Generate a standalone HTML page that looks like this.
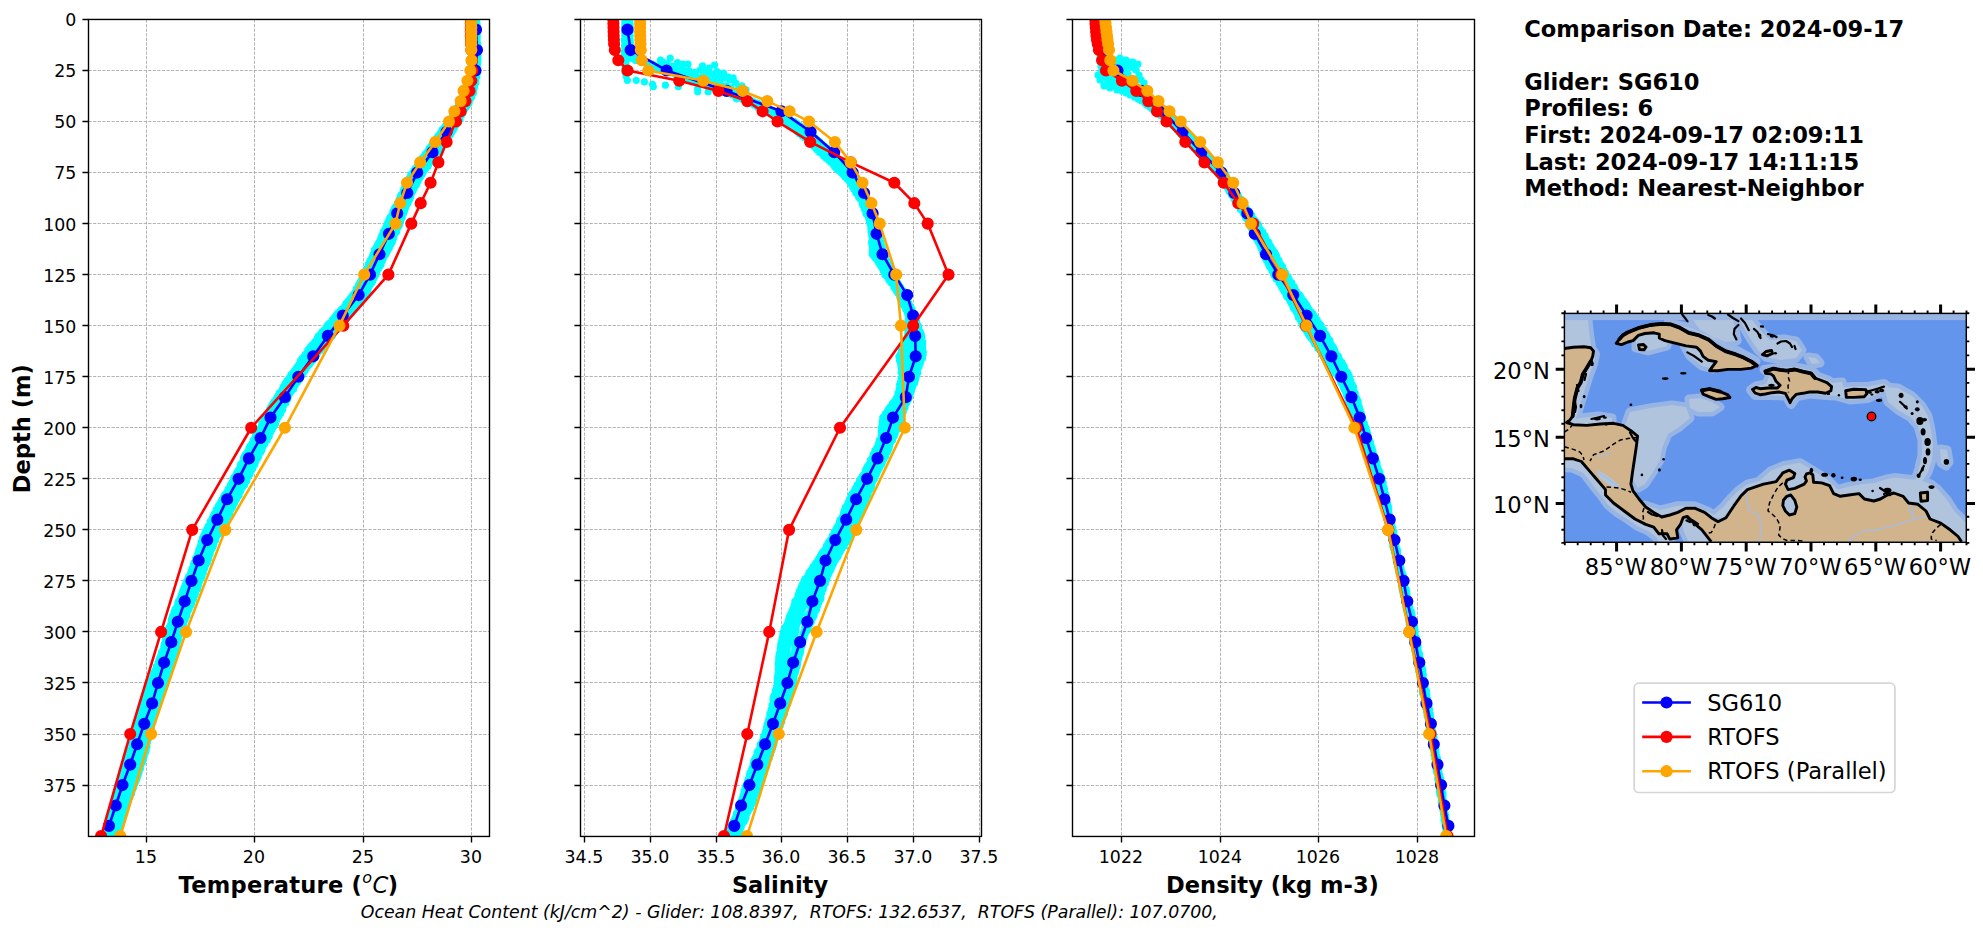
<!DOCTYPE html>
<html><head><meta charset="utf-8"><title>Glider profile comparison</title>
<style>
html,body{margin:0;padding:0;background:#fff;overflow:hidden}
svg{display:block}
.tk{font-family:"DejaVu Sans","Liberation Sans",sans-serif;font-size:17.36px;fill:#000}
.lb{font-family:"DejaVu Sans","Liberation Sans",sans-serif;font-size:22.57px;font-weight:bold;fill:#000}
.lg{font-family:"DejaVu Sans","Liberation Sans",sans-serif;font-size:22.57px;fill:#000}
.mp{font-family:"DejaVu Sans","Liberation Sans",sans-serif;font-size:22.57px;fill:#000}
.oh{white-space:pre;font-family:"DejaVu Sans","Liberation Sans",sans-serif;font-size:17.36px;font-style:italic;fill:#000}
</style></head><body>
<svg width="1983" height="934" viewBox="0 0 1983 934">
<rect width="1983" height="934" fill="#fff"/>
<clipPath id="c0"><rect x="88.5" y="19.45" width="401" height="817"/></clipPath>
<path d="M146.5 19.45V836.45M254.5 19.45V836.45M363.5 19.45V836.45M471.5 19.45V836.45M88.5 70.5H489.5M88.5 121.5H489.5M88.5 172.5H489.5M88.5 223.5H489.5M88.5 274.5H489.5M88.5 325.5H489.5M88.5 376.5H489.5M88.5 427.5H489.5M88.5 478.5H489.5M88.5 529.5H489.5M88.5 580.5H489.5M88.5 631.5H489.5M88.5 682.5H489.5M88.5 734.5H489.5M88.5 785.5H489.5" stroke="#a8a8a8" stroke-width="0.87" stroke-dasharray="3.2 1.39" fill="none"/>
<g clip-path="url(#c0)">
<path d="M474.52 19.45h0M473.85 21.49h0M474.42 23.53h0M474.22 25.57h0M473.86 27.62h0M474.4 29.66h0M473.83 31.7h0M474.3 33.74h0M473.85 35.78h0M473.85 37.82h0M474.23 39.87h0M474.69 41.91h0M473.81 43.95h0M473.9 45.99h0M474.34 48.03h0M474.69 50.07h0M474.2 52.12h0M473.94 54.16h0M474.6 56.2h0M473.44 58.24h0M474.37 60.28h0M473.18 62.32h0M472.49 64.37h0M471.94 66.41h0M471.65 68.45h0M471.74 70.49h0M470.46 72.53h0M470.43 74.57h0M470 76.61h0M468.96 78.66h0M468.46 80.7h0M467.18 82.74h0M466.48 84.78h0M465.98 86.82h0M465.87 88.86h0M464.91 90.91h0M464.01 92.95h0M463.58 94.99h0M462.67 97.03h0M461.73 99.07h0M461.57 101.11h0M460.29 103.16h0M458.56 105.2h0M457.78 107.24h0M456.53 109.28h0M455.75 111.32h0M454.39 113.36h0M452.66 115.41h0M452.29 117.45h0M450.04 119.49h0M449.17 121.53h0M447.95 123.57h0M445.58 125.61h0M444.34 127.65h0M442.14 129.7h0M441.22 131.74h0M439.86 133.78h0M438.14 135.82h0M437.01 137.86h0M434.85 139.9h0M433.83 141.95h0M432.31 143.99h0M430.9 146.03h0M429.35 148.07h0M428.41 150.11h0M427.13 152.15h0M425.17 154.2h0M424 156.24h0M421.87 158.28h0M421.24 160.32h0M419.78 162.36h0M418.79 164.4h0M417.19 166.45h0M415.14 168.49h0M413.86 170.53h0M412.8 172.57h0M410.93 174.61h0M410.35 176.65h0M408.9 178.69h0M407.84 180.74h0M406.77 182.78h0M406.62 184.82h0M404.86 186.86h0M404.01 188.9h0M403.18 190.94h0M402.76 192.99h0M400.82 195.03h0M400.27 197.07h0M399.4 199.11h0M398.8 201.15h0M397.71 203.19h0M396.75 205.24h0M395.02 207.28h0M394.15 209.32h0M393.03 211.36h0M392.6 213.4h0M391.8 215.44h0M389.94 217.49h0M389.07 219.53h0M388.22 221.57h0M387.3 223.61h0M386.67 225.65h0M385.86 227.69h0M384.53 229.73h0M383.28 231.78h0M382.83 233.82h0M381.73 235.86h0M380.93 237.9h0M380.37 239.94h0M379.03 241.98h0M377.81 244.03h0M376.93 246.07h0M376.01 248.11h0M374.28 250.15h0M374.33 252.19h0M373.24 254.23h0M372.51 256.28h0M371.58 258.32h0M370.28 260.36h0M369.48 262.4h0M368.32 264.44h0M368.17 266.48h0M366.7 268.53h0M365.93 270.57h0M365.32 272.61h0M364.49 274.65h0M363.56 276.69h0M362.07 278.73h0M360.86 280.77h0M359.89 282.82h0M358.67 284.86h0M357.82 286.9h0M356.23 288.94h0M356.06 290.98h0M354.53 293.02h0M352.75 295.07h0M351.26 297.11h0M349.74 299.15h0M348.11 301.19h0M346.15 303.23h0M345.34 305.27h0M343.81 307.32h0M341.46 309.36h0M339.76 311.4h0M337.54 313.44h0M335.81 315.48h0M334.38 317.52h0M332.56 319.57h0M331.51 321.61h0M328.98 323.65h0M327.08 325.69h0M326.46 327.73h0M324.23 329.77h0M322.05 331.81h0M320.82 333.86h0M318.5 335.9h0M317.5 337.94h0M316.45 339.98h0M314.74 342.02h0M312.99 344.06h0M310.93 346.11h0M309.53 348.15h0M307.79 350.19h0M307.02 352.23h0M305.25 354.27h0M304.07 356.31h0M302.16 358.36h0M300.68 360.4h0M300.03 362.44h0M298.89 364.48h0M297.37 366.52h0M295.96 368.56h0M294.62 370.61h0M293.16 372.65h0M291.17 374.69h0M290.14 376.73h0M288.65 378.77h0M286.95 380.81h0M285.63 382.85h0M284.6 384.9h0M283.23 386.94h0M282.4 388.98h0M281.34 391.02h0M279.35 393.06h0M278.55 395.1h0M277.21 397.15h0M276.06 399.19h0M274.24 401.23h0M272.95 403.27h0M271.83 405.31h0M270.67 407.35h0M269.55 409.4h0M268.93 411.44h0M268.13 413.48h0M267.01 415.52h0M265.58 417.56h0M264.68 419.6h0M263.76 421.65h0M261.8 423.69h0M261.39 425.73h0M260.59 427.77h0M259.34 429.81h0M258.2 431.85h0M256.77 433.89h0M255.31 435.94h0M254.95 437.98h0M253.3 440.02h0M252.76 442.06h0M251.87 444.1h0M250.08 446.14h0M248.98 448.19h0M248.54 450.23h0M247.17 452.27h0M245.48 454.31h0M244.45 456.35h0M243.5 458.39h0M243.42 460.44h0M242.32 462.48h0M240.54 464.52h0M240.36 466.56h0M239.54 468.6h0M238.14 470.64h0M236.74 472.69h0M235.94 474.73h0M234.39 476.77h0M233.18 478.81h0M233.25 480.85h0M231.77 482.89h0M230.52 484.93h0M229.89 486.98h0M228.16 489.02h0M227.55 491.06h0M226.35 493.1h0M224.46 495.14h0M223.35 497.18h0M222.25 499.23h0M221.03 501.27h0M220.3 503.31h0M218.76 505.35h0M217.81 507.39h0M216.33 509.43h0M216.15 511.48h0M214.37 513.52h0M213.39 515.56h0M212.46 517.6h0M211.78 519.64h0M210.24 521.68h0M209.89 523.73h0M208.47 525.77h0M207.59 527.81h0M206.68 529.85h0M205.19 531.89h0M204.83 533.93h0M203.65 535.97h0M202.58 538.02h0M202.69 540.06h0M201.25 542.1h0M200.92 544.14h0M200.54 546.18h0M199.65 548.22h0M198.68 550.27h0M198.21 552.31h0M197.55 554.35h0M197.1 556.39h0M195.55 558.43h0M195.35 560.47h0M194.21 562.52h0M193.46 564.56h0M193.25 566.6h0M192.12 568.64h0M191.34 570.68h0M190.72 572.72h0M190.03 574.77h0M188.57 576.81h0M187.87 578.85h0M186.82 580.89h0M186.02 582.93h0M185.43 584.97h0M184.32 587.01h0M183.59 589.06h0M182.69 591.1h0M182.41 593.14h0M181.29 595.18h0M180.67 597.22h0M179.92 599.26h0M178.28 601.31h0M177.84 603.35h0M177.5 605.39h0M176.59 607.43h0M174.98 609.47h0M174.21 611.51h0M173.85 613.56h0M172.69 615.6h0M172.18 617.64h0M171.29 619.68h0M171.32 621.72h0M170.8 623.76h0M170.28 625.81h0M168.74 627.85h0M168.78 629.89h0M168.08 631.93h0M166.89 633.97h0M167.22 636.01h0M166.75 638.05h0M165.27 640.1h0M165.57 642.14h0M164.3 644.18h0M163.8 646.22h0M163.78 648.26h0M162.95 650.3h0M161.49 652.35h0M161.13 654.39h0M160.54 656.43h0M159.61 658.47h0M158.71 660.51h0M158.11 662.55h0M157.83 664.6h0M156.2 666.64h0M156.05 668.68h0M155.1 670.72h0M153.78 672.76h0M153.34 674.8h0M152.86 676.85h0M151.9 678.89h0M150.53 680.93h0M150.82 682.97h0M149.8 685.01h0M149.26 687.05h0M147.46 689.09h0M146.92 691.14h0M146.05 693.18h0M146.33 695.22h0M145.12 697.26h0M144.36 699.3h0M144.11 701.34h0M144.09 703.39h0M143.38 705.43h0M142.11 707.47h0M141.38 709.51h0M141.7 711.55h0M140.68 713.59h0M140.24 715.64h0M138.91 717.68h0M138.27 719.72h0M138.43 721.76h0M137.58 723.8h0M136.66 725.84h0M137.21 727.89h0M136.35 729.93h0M136.05 731.97h0M134.69 734.01h0M135.06 736.05h0M133.55 738.09h0M133.93 740.13h0M132.84 742.18h0M132.1 744.22h0M131.74 746.26h0M131.56 748.3h0M130.12 750.34h0M129.29 752.38h0M129.1 754.43h0M128.07 756.47h0M127.22 758.51h0M126.57 760.55h0M125.73 762.59h0M125.19 764.63h0M124.61 766.68h0M123.88 768.72h0M123.7 770.76h0M122.43 772.8h0M121.97 774.84h0M120.88 776.88h0M120.4 778.93h0M119.33 780.97h0M118.94 783.01h0M118.02 785.05h0M118.28 787.09h0M117.48 789.13h0M116.48 791.17h0M116.28 793.22h0M116.3 795.26h0M114.79 797.3h0M115.14 799.34h0M114.19 801.38h0M113.78 803.42h0M113.72 805.47h0M112.72 807.51h0M112.39 809.55h0M112.15 811.59h0M112.04 813.63h0M110.81 815.67h0M110.93 817.72h0M110.31 819.76h0M109.74 821.8h0M108.97 823.84h0M108.4 825.88h0M107.53 827.92h0M107.1 829.97h0M106.48 832.01h0M106.73 834.05h0M105.57 836.09h0M475.32 19.45h0M475.4 21.49h0M475.2 23.53h0M474.78 25.57h0M474.77 27.62h0M474.86 29.66h0M475.09 31.7h0M474.76 33.74h0M475.12 35.78h0M474.92 37.82h0M475.77 39.87h0M475.79 41.91h0M475.28 43.95h0M474.91 45.99h0M475.77 48.03h0M474.97 50.07h0M475.02 52.12h0M474.57 54.16h0M475.01 56.2h0M475.1 58.24h0M475.11 60.28h0M474.36 62.32h0M474.33 64.37h0M473.34 66.41h0M473.25 68.45h0M472.63 70.49h0M472.6 72.53h0M471.77 74.57h0M471.35 76.61h0M471.04 78.66h0M470.31 80.7h0M470.1 82.74h0M469.4 84.78h0M469.05 86.82h0M468.33 88.86h0M467.8 90.91h0M467.23 92.95h0M465.88 94.99h0M465.04 97.03h0M465.07 99.07h0M463.32 101.11h0M462.79 103.16h0M461.48 105.2h0M459.54 107.24h0M459.26 109.28h0M458.1 111.32h0M456.63 113.36h0M455.6 115.41h0M454.52 117.45h0M452.54 119.49h0M451.81 121.53h0M450.22 123.57h0M449.03 125.61h0M447.4 127.65h0M445.82 129.7h0M443.9 131.74h0M442.79 133.78h0M441.04 135.82h0M439.55 137.86h0M437.48 139.9h0M435.73 141.95h0M434.33 143.99h0M433.09 146.03h0M431.26 148.07h0M430.62 150.11h0M428.78 152.15h0M427.34 154.2h0M425.82 156.24h0M424.39 158.28h0M422.66 160.32h0M420.6 162.36h0M420.09 164.4h0M418.57 166.45h0M416.84 168.49h0M415.45 170.53h0M414.18 172.57h0M412.38 174.61h0M412.1 176.65h0M410.46 178.69h0M409.18 180.74h0M408.37 182.78h0M407.88 184.82h0M406.22 186.86h0M405.83 188.9h0M405.09 190.94h0M403.49 192.99h0M402.37 195.03h0M401.5 197.07h0M400.76 199.11h0M399.87 201.15h0M398.7 203.19h0M397.74 205.24h0M396.06 207.28h0M395.14 209.32h0M394.25 211.36h0M393.81 213.4h0M392.42 215.44h0M391.86 217.49h0M390.31 219.53h0M389.48 221.57h0M388.82 223.61h0M388.4 225.65h0M387.5 227.69h0M386.55 229.73h0M385.15 231.78h0M384.49 233.82h0M383.38 235.86h0M382.35 237.9h0M380.89 239.94h0M380.79 241.98h0M378.92 244.03h0M378.84 246.07h0M377.78 248.11h0M375.68 250.15h0M375.22 252.19h0M374.68 254.23h0M373.98 256.28h0M372.5 258.32h0M371.44 260.36h0M370.54 262.4h0M370.6 264.44h0M368.92 266.48h0M368.58 268.53h0M367.27 270.57h0M366.97 272.61h0M366.72 274.65h0M364.64 276.69h0M364.37 278.73h0M362.91 280.77h0M362.28 282.82h0M360.98 284.86h0M359.33 286.9h0M359.04 288.94h0M357.46 290.98h0M355.8 293.02h0M354.67 295.07h0M353.73 297.11h0M352.13 299.15h0M350.39 301.19h0M348.62 303.23h0M347.26 305.27h0M345.61 307.32h0M344.6 309.36h0M341.94 311.4h0M341.17 313.44h0M339.59 315.48h0M337.1 317.52h0M336.43 319.57h0M334.52 321.61h0M333.09 323.65h0M330.69 325.69h0M329.12 327.73h0M327.48 329.77h0M326.54 331.81h0M324.38 333.86h0M322.44 335.9h0M320.91 337.94h0M319.12 339.98h0M317.26 342.02h0M315.75 344.06h0M315.07 346.11h0M312.86 348.15h0M312.11 350.19h0M309.76 352.23h0M308.28 354.27h0M307.08 356.31h0M305.31 358.36h0M304.15 360.4h0M303.49 362.44h0M302.04 364.48h0M300.6 366.52h0M299.03 368.56h0M298.01 370.61h0M296.69 372.65h0M294.86 374.69h0M293.69 376.73h0M291.61 378.77h0M291.15 380.81h0M289.51 382.85h0M288.56 384.9h0M287.11 386.94h0M285.34 388.98h0M283.71 391.02h0M283.39 393.06h0M281.05 395.1h0M280.07 397.15h0M278.84 399.19h0M277.69 401.23h0M277.12 403.27h0M276.29 405.31h0M274.3 407.35h0M273.65 409.4h0M272.08 411.44h0M271.25 413.48h0M269.9 415.52h0M268.49 417.56h0M267.26 419.6h0M266.09 421.65h0M265.71 423.69h0M264.01 425.73h0M262.48 427.77h0M262.11 429.81h0M261.04 431.85h0M259.21 433.89h0M257.69 435.94h0M256.61 437.98h0M255.35 440.02h0M254.53 442.06h0M253.12 444.1h0M252.2 446.14h0M251.15 448.19h0M250.46 450.23h0M249.78 452.27h0M248.57 454.31h0M247.14 456.35h0M246.11 458.39h0M245.22 460.44h0M244.02 462.48h0M242.95 464.52h0M241.6 466.56h0M240.83 468.6h0M240.62 470.64h0M238.57 472.69h0M237.98 474.73h0M237.07 476.77h0M236.28 478.81h0M234.42 480.85h0M233.39 482.89h0M232.25 484.93h0M231.31 486.98h0M230.23 489.02h0M229.7 491.06h0M228.41 493.1h0M227.28 495.14h0M225.08 497.18h0M223.92 499.23h0M223.56 501.27h0M222.62 503.31h0M220.94 505.35h0M219.91 507.39h0M218.04 509.43h0M217.34 511.48h0M216.83 513.52h0M215.56 515.56h0M214.46 517.6h0M213.48 519.64h0M211.59 521.68h0M210.42 523.73h0M209.49 525.77h0M208.96 527.81h0M208.2 529.85h0M207.57 531.89h0M206.39 533.93h0M205.4 535.97h0M204.65 538.02h0M203.41 540.06h0M202.82 542.1h0M201.52 544.14h0M201.73 546.18h0M200.39 548.22h0M200.54 550.27h0M199.55 552.31h0M198.47 554.35h0M197.58 556.39h0M197.05 558.43h0M196.83 560.47h0M196.21 562.52h0M194.8 564.56h0M194.03 566.6h0M193.84 568.64h0M193.16 570.68h0M192.16 572.72h0M191.18 574.77h0M190.83 576.81h0M189.31 578.85h0M188.82 580.89h0M188.3 582.93h0M188.17 584.97h0M187.06 587.01h0M186.6 589.06h0M185.35 591.1h0M184.29 593.14h0M183.53 595.18h0M183.61 597.22h0M182.53 599.26h0M181.28 601.31h0M180.17 603.35h0M179.98 605.39h0M179.44 607.43h0M178.39 609.47h0M177.46 611.51h0M177.24 613.56h0M176.84 615.6h0M175.32 617.64h0M174.42 619.68h0M174.13 621.72h0M173.59 623.76h0M173.28 625.81h0M172.09 627.85h0M172.22 629.89h0M171.56 631.93h0M170.75 633.97h0M169.86 636.01h0M170.25 638.05h0M168.94 640.1h0M169.02 642.14h0M167.78 644.18h0M167.22 646.22h0M167.32 648.26h0M166.19 650.3h0M166.4 652.35h0M165.25 654.39h0M164.27 656.43h0M163.67 658.47h0M163.25 660.51h0M162.87 662.55h0M162.52 664.6h0M160.84 666.64h0M160.4 668.68h0M159.42 670.72h0M159.56 672.76h0M157.78 674.8h0M156.87 676.85h0M156.06 678.89h0M155.64 680.93h0M155.42 682.97h0M154.61 685.01h0M153.64 687.05h0M153.17 689.09h0M152.3 691.14h0M150.8 693.18h0M149.86 695.22h0M150 697.26h0M149.02 699.3h0M147.44 701.34h0M147.48 703.39h0M146.44 705.43h0M145.76 707.47h0M145.04 709.51h0M144.2 711.55h0M143.38 713.59h0M143.1 715.64h0M142.59 717.68h0M142.73 719.72h0M141.16 721.76h0M141.61 723.8h0M140.15 725.84h0M139.79 727.89h0M139.8 729.93h0M139.26 731.97h0M138.25 734.01h0M137.21 736.05h0M137.13 738.09h0M136.41 740.13h0M136.45 742.18h0M134.96 744.22h0M134.54 746.26h0M134.53 748.3h0M132.83 750.34h0M132.61 752.38h0M132.41 754.43h0M131.65 756.47h0M130.06 758.51h0M129.32 760.55h0M128.62 762.59h0M128.89 764.63h0M127.34 766.68h0M127.16 768.72h0M126.57 770.76h0M125.13 772.8h0M124.28 774.84h0M124.33 776.88h0M123.16 778.93h0M121.98 780.97h0M121.78 783.01h0M120.56 785.05h0M119.82 787.09h0M118.82 789.13h0M119.06 791.17h0M118.6 793.22h0M117.64 795.26h0M117.4 797.3h0M115.7 799.34h0M115.38 801.38h0M115.11 803.42h0M115.14 805.47h0M114.61 807.51h0M113.41 809.55h0M112.74 811.59h0M112.45 813.63h0M112.03 815.67h0M112.06 817.72h0M110.67 819.76h0M110.92 821.8h0M110.35 823.84h0M109.96 825.88h0M109.39 827.92h0M108.68 829.97h0M107.82 832.01h0M107.28 834.05h0M106.78 836.09h0M474.61 19.45h0M475.32 21.49h0M474.76 23.53h0M474.58 25.57h0M474.58 27.62h0M475.24 29.66h0M475.01 31.7h0M475.82 33.74h0M475.73 35.78h0M475.88 37.82h0M475.03 39.87h0M474.83 41.91h0M474.86 43.95h0M475.35 45.99h0M475.61 48.03h0M475.3 50.07h0M475.05 52.12h0M475.27 54.16h0M475.51 56.2h0M475.57 58.24h0M475.66 60.28h0M475.45 62.32h0M474.89 64.37h0M473.9 66.41h0M474.43 68.45h0M473.44 70.49h0M473.44 72.53h0M472.89 74.57h0M473.02 76.61h0M471.8 78.66h0M471.31 80.7h0M470.76 82.74h0M470.13 84.78h0M470.49 86.82h0M469.62 88.86h0M468.84 90.91h0M468.22 92.95h0M468.24 94.99h0M466.97 97.03h0M465.95 99.07h0M465.96 101.11h0M464.6 103.16h0M463.83 105.2h0M461.58 107.24h0M460.83 109.28h0M460.04 111.32h0M459 113.36h0M458.02 115.41h0M455.89 117.45h0M455.1 119.49h0M453.79 121.53h0M452.42 123.57h0M451.89 125.61h0M449.94 127.65h0M448.86 129.7h0M446.69 131.74h0M445.85 133.78h0M443.92 135.82h0M442.24 137.86h0M441.41 139.9h0M440.15 141.95h0M437.67 143.99h0M436.79 146.03h0M435.34 148.07h0M433.38 150.11h0M432.09 152.15h0M430.3 154.2h0M428.86 156.24h0M427.41 158.28h0M426.32 160.32h0M424.89 162.36h0M422.87 164.4h0M421.17 166.45h0M420.08 168.49h0M419.05 170.53h0M417.01 172.57h0M416.08 174.61h0M414.86 176.65h0M414.5 178.69h0M413.14 180.74h0M411.5 182.78h0M410.49 184.82h0M409.79 186.86h0M408.92 188.9h0M407.98 190.94h0M406.28 192.99h0M405.41 195.03h0M405.09 197.07h0M403.79 199.11h0M402.68 201.15h0M401.74 203.19h0M401.53 205.24h0M399.77 207.28h0M399.08 209.32h0M397.81 211.36h0M396.85 213.4h0M396.5 215.44h0M395.75 217.49h0M394.07 219.53h0M392.93 221.57h0M392.62 223.61h0M391.03 225.65h0M389.82 227.69h0M389.91 229.73h0M388.34 231.78h0M387.82 233.82h0M386.22 235.86h0M385.68 237.9h0M384.07 239.94h0M382.61 241.98h0M381.33 244.03h0M380.87 246.07h0M379.89 248.11h0M379.13 250.15h0M377.08 252.19h0M376.66 254.23h0M375.39 256.28h0M374.59 258.32h0M373.22 260.36h0M372.46 262.4h0M371.83 264.44h0M371.42 266.48h0M369.56 268.53h0M369.16 270.57h0M368.68 272.61h0M368.03 274.65h0M365.94 276.69h0M364.7 278.73h0M364.53 280.77h0M363.42 282.82h0M361.69 284.86h0M360.03 286.9h0M359.93 288.94h0M358.14 290.98h0M357.61 293.02h0M356.11 295.07h0M354.77 297.11h0M352.37 299.15h0M351.51 301.19h0M349.21 303.23h0M347.79 305.27h0M346.66 307.32h0M344.97 309.36h0M342.52 311.4h0M340.87 313.44h0M339.39 315.48h0M337.89 317.52h0M336.09 319.57h0M334.12 321.61h0M332.62 323.65h0M331.54 325.69h0M330.09 327.73h0M327.4 329.77h0M326.38 331.81h0M324.97 333.86h0M322.47 335.9h0M321.85 337.94h0M319.41 339.98h0M318.44 342.02h0M316.84 344.06h0M315.41 346.11h0M313.52 348.15h0M312.17 350.19h0M310.9 352.23h0M309.26 354.27h0M308.1 356.31h0M306.52 358.36h0M305.2 360.4h0M303.4 362.44h0M302.82 364.48h0M301.38 366.52h0M299.79 368.56h0M299.15 370.61h0M297.89 372.65h0M296.22 374.69h0M294.59 376.73h0M293.75 378.77h0M292.1 380.81h0M290.91 382.85h0M290.04 384.9h0M288.39 386.94h0M287.56 388.98h0M286.37 391.02h0M284.51 393.06h0M283.93 395.1h0M281.94 397.15h0M281.74 399.19h0M280.79 401.23h0M279.46 403.27h0M277.89 405.31h0M277.39 407.35h0M276.2 409.4h0M275.83 411.44h0M273.8 413.48h0M273.6 415.52h0M272.7 417.56h0M271.27 419.6h0M270.25 421.65h0M268.39 423.69h0M268.22 425.73h0M266.53 427.77h0M265.99 429.81h0M264.85 431.85h0M262.87 433.89h0M262.55 435.94h0M261.67 437.98h0M259.55 440.02h0M258.82 442.06h0M258.25 444.1h0M256.48 446.14h0M256.33 448.19h0M254.56 450.23h0M254.19 452.27h0M252.37 454.31h0M251.8 456.35h0M251.29 458.39h0M249.44 460.44h0M248.5 462.48h0M247.78 464.52h0M246.55 466.56h0M245.19 468.6h0M244.33 470.64h0M243.27 472.69h0M243.14 474.73h0M241.77 476.77h0M240.94 478.81h0M238.97 480.85h0M238.59 482.89h0M236.66 484.93h0M236.01 486.98h0M234.97 489.02h0M233.45 491.06h0M232.87 493.1h0M231.28 495.14h0M230.09 497.18h0M229.22 499.23h0M227.09 501.27h0M226.96 503.31h0M225.32 505.35h0M223.82 507.39h0M223.09 509.43h0M221.24 511.48h0M220.9 513.52h0M219.2 515.56h0M217.75 517.6h0M217.04 519.64h0M215.54 521.68h0M214.12 523.73h0M213.72 525.77h0M211.81 527.81h0M211.69 529.85h0M209.97 531.89h0M209.41 533.93h0M208.82 535.97h0M207.35 538.02h0M206.46 540.06h0M205.24 542.1h0M204.08 544.14h0M203.34 546.18h0M202.71 548.22h0M202.5 550.27h0M201.52 552.31h0M200.85 554.35h0M200.54 556.39h0M198.86 558.43h0M198.19 560.47h0M197.92 562.52h0M196.37 564.56h0M195.54 566.6h0M195.14 568.64h0M194.01 570.68h0M193.47 572.72h0M192.44 574.77h0M192 576.81h0M191.11 578.85h0M189.74 580.89h0M189.47 582.93h0M188.5 584.97h0M187.29 587.01h0M187.45 589.06h0M185.8 591.1h0M184.87 593.14h0M183.98 595.18h0M183.81 597.22h0M183.27 599.26h0M182.35 601.31h0M181.08 603.35h0M180.12 605.39h0M179.04 607.43h0M179.03 609.47h0M178.18 611.51h0M177.19 613.56h0M176.84 615.6h0M175.9 617.64h0M175.82 619.68h0M174.93 621.72h0M173.72 623.76h0M173.9 625.81h0M172.28 627.85h0M172.3 629.89h0M171.6 631.93h0M170.9 633.97h0M170.19 636.01h0M170.58 638.05h0M169.19 640.1h0M169.36 642.14h0M169.35 644.18h0M167.92 646.22h0M167.51 648.26h0M167.51 650.3h0M166.88 652.35h0M166.53 654.39h0M166.21 656.43h0M164.9 658.47h0M164.5 660.51h0M163.9 662.55h0M163 664.6h0M163.4 666.64h0M162.64 668.68h0M161.9 670.72h0M160.39 672.76h0M160.71 674.8h0M159.9 676.85h0M158.86 678.89h0M158.48 680.93h0M157.41 682.97h0M156.45 685.01h0M155.63 687.05h0M155.09 689.09h0M154.18 691.14h0M153.86 693.18h0M153.7 695.22h0M152.97 697.26h0M152.51 699.3h0M151.72 701.34h0M150.57 703.39h0M150.31 705.43h0M149.58 707.47h0M149.44 709.51h0M148.56 711.55h0M147.71 713.59h0M147.64 715.64h0M147.51 717.68h0M146.11 719.72h0M146.42 721.76h0M144.89 723.8h0M144.71 725.84h0M144.2 727.89h0M144.33 729.93h0M144.1 731.97h0M143.38 734.01h0M142.34 736.05h0M142.47 738.09h0M141.25 740.13h0M140.58 742.18h0M140.8 744.22h0M139.87 746.26h0M139.33 748.3h0M138.67 750.34h0M138.39 752.38h0M137.11 754.43h0M136.87 756.47h0M135.99 758.51h0M135.45 760.55h0M134.21 762.59h0M133.79 764.63h0M132.84 766.68h0M131.74 768.72h0M130.84 770.76h0M130.53 772.8h0M129.07 774.84h0M129.27 776.88h0M127.55 778.93h0M126.6 780.97h0M125.9 783.01h0M126.1 785.05h0M124.62 787.09h0M123.61 789.13h0M122.73 791.17h0M122 793.22h0M122.06 795.26h0M121.28 797.3h0M120.67 799.34h0M120.04 801.38h0M118.57 803.42h0M118.55 805.47h0M117.64 807.51h0M117.55 809.55h0M116.94 811.59h0M116.41 813.63h0M114.82 815.67h0M115.18 817.72h0M114.63 819.76h0M114.07 821.8h0M112.46 823.84h0M111.97 825.88h0M111.25 827.92h0M110.54 829.97h0M110.89 832.01h0M110.21 834.05h0M109.35 836.09h0M475.15 19.45h0M474.94 21.49h0M474.95 23.53h0M475.76 25.57h0M475.13 27.62h0M475.29 29.66h0M475.45 31.7h0M475.01 33.74h0M475.33 35.78h0M475.41 37.82h0M475.99 39.87h0M475.63 41.91h0M475.63 43.95h0M476.47 45.99h0M475.99 48.03h0M476.48 50.07h0M476.27 52.12h0M475.64 54.16h0M476.18 56.2h0M476.28 58.24h0M476.76 60.28h0M476.1 62.32h0M476.37 64.37h0M476.03 66.41h0M475.5 68.45h0M476.13 70.49h0M475.06 72.53h0M475.79 74.57h0M474.86 76.61h0M474.19 78.66h0M473.96 80.7h0M474.15 82.74h0M473.91 84.78h0M472.24 86.82h0M472.32 88.86h0M471.8 90.91h0M471.33 92.95h0M469.75 94.99h0M469.27 97.03h0M468.25 99.07h0M467.98 101.11h0M465.93 103.16h0M465.39 105.2h0M463.24 107.24h0M461.81 109.28h0M461.04 111.32h0M459.65 113.36h0M458.04 115.41h0M457.53 117.45h0M455.74 119.49h0M455.47 121.53h0M453.91 123.57h0M452.58 125.61h0M450.97 127.65h0M449.22 129.7h0M447.87 131.74h0M446.54 133.78h0M445.82 135.82h0M443.54 137.86h0M443.19 139.9h0M440.84 141.95h0M439.74 143.99h0M438.49 146.03h0M437.94 148.07h0M436.13 150.11h0M434.64 152.15h0M433.83 154.2h0M431.63 156.24h0M430.46 158.28h0M429.09 160.32h0M427.9 162.36h0M426.42 164.4h0M424.8 166.45h0M422.94 168.49h0M421.4 170.53h0M419.67 172.57h0M419.33 174.61h0M417.93 176.65h0M416.85 178.69h0M414.97 180.74h0M414.09 182.78h0M413.29 184.82h0M411.85 186.86h0M410.1 188.9h0M409.3 190.94h0M408.6 192.99h0M406.74 195.03h0M405.61 197.07h0M404.66 199.11h0M404.07 201.15h0M403.17 203.19h0M401.29 205.24h0M400.24 207.28h0M399.31 209.32h0M398.37 211.36h0M397.59 213.4h0M396.3 215.44h0M395.65 217.49h0M394.64 219.53h0M394.76 221.57h0M393.65 223.61h0M392.09 225.65h0M392.32 227.69h0M390.49 229.73h0M390.03 231.78h0M389.96 233.82h0M388.84 235.86h0M387.88 237.9h0M386.62 239.94h0M385.43 241.98h0M385.05 244.03h0M383.49 246.07h0M382.68 248.11h0M381.95 250.15h0M380.57 252.19h0M380.04 254.23h0M379.57 256.28h0M378.5 258.32h0M377.3 260.36h0M376.48 262.4h0M375.28 264.44h0M373.89 266.48h0M373.44 268.53h0M372.19 270.57h0M371.57 272.61h0M370.75 274.65h0M368.85 276.69h0M367.7 278.73h0M366.59 280.77h0M364.88 282.82h0M363.33 284.86h0M362.62 286.9h0M361.51 288.94h0M360.11 290.98h0M358.75 293.02h0M357.68 295.07h0M355.8 297.11h0M354.11 299.15h0M352.25 301.19h0M350.47 303.23h0M349.26 305.27h0M347.04 307.32h0M345.87 309.36h0M344.76 311.4h0M343.14 313.44h0M341.51 315.48h0M339.64 317.52h0M338.44 319.57h0M337.07 321.61h0M335.87 323.65h0M334.22 325.69h0M333.14 327.73h0M332.05 329.77h0M329.74 331.81h0M328.9 333.86h0M327.62 335.9h0M325.7 337.94h0M324.36 339.98h0M323.46 342.02h0M320.84 344.06h0M319.93 346.11h0M317.94 348.15h0M317.14 350.19h0M315.77 352.23h0M313.69 354.27h0M311.6 356.31h0M310.68 358.36h0M309.13 360.4h0M307.84 362.44h0M306.08 364.48h0M304.72 366.52h0M303.43 368.56h0M301.55 370.61h0M299.91 372.65h0M299.05 374.69h0M296.68 376.73h0M295.86 378.77h0M294.14 380.81h0M293.22 382.85h0M291.11 384.9h0M290.81 386.94h0M288.73 388.98h0M287.06 391.02h0M286.03 393.06h0M284.89 395.1h0M283.15 397.15h0M282.73 399.19h0M281.84 401.23h0M281.29 403.27h0M279.99 405.31h0M279.01 407.35h0M278.08 409.4h0M277.83 411.44h0M277.19 413.48h0M275.82 415.52h0M274.57 417.56h0M274.34 419.6h0M272.92 421.65h0M271.76 423.69h0M270.71 425.73h0M270.52 427.77h0M269.58 429.81h0M268.38 431.85h0M267.17 433.89h0M266.25 435.94h0M264.8 437.98h0M264.55 440.02h0M262.67 442.06h0M261.85 444.1h0M260.89 446.14h0M259.69 448.19h0M258.07 450.23h0M256.65 452.27h0M255.74 454.31h0M254.01 456.35h0M253.64 458.39h0M251.84 460.44h0M251.21 462.48h0M249.29 464.52h0M248.21 466.56h0M246.86 468.6h0M245.87 470.64h0M244.4 472.69h0M243.01 474.73h0M242.71 476.77h0M241.03 478.81h0M239.86 480.85h0M238.8 482.89h0M237.91 484.93h0M236.76 486.98h0M235.92 489.02h0M234.88 491.06h0M233.46 493.1h0M233.08 495.14h0M231.95 497.18h0M229.94 499.23h0M229.88 501.27h0M228.99 503.31h0M227.86 505.35h0M226.1 507.39h0M225.94 509.43h0M224.7 511.48h0M222.94 513.52h0M221.91 515.56h0M222.01 517.6h0M220.6 519.64h0M219.08 521.68h0M217.86 523.73h0M216.85 525.77h0M215.89 527.81h0M215.45 529.85h0M213.83 531.89h0M212.48 533.93h0M212.25 535.97h0M210.98 538.02h0M209.09 540.06h0M208.98 542.1h0M207.66 544.14h0M206.89 546.18h0M205.78 548.22h0M205.07 550.27h0M203.97 552.31h0M203.07 554.35h0M201.35 556.39h0M201 558.43h0M199.87 560.47h0M199.21 562.52h0M197.95 564.56h0M197.61 566.6h0M196.35 568.64h0M195.16 570.68h0M194.3 572.72h0M193.38 574.77h0M193.02 576.81h0M191.73 578.85h0M191.47 580.89h0M190.49 582.93h0M190.32 584.97h0M189.76 587.01h0M189.25 589.06h0M189.08 591.1h0M187.5 593.14h0M187.96 595.18h0M186.96 597.22h0M186.52 599.26h0M186.08 601.31h0M185.73 603.35h0M184.59 605.39h0M184.05 607.43h0M184.1 609.47h0M182.42 611.51h0M182.47 613.56h0M181.82 615.6h0M180.42 617.64h0M180.44 619.68h0M179.84 621.72h0M179.43 623.76h0M177.98 625.81h0M178.03 627.85h0M176.73 629.89h0M175.95 631.93h0M175.7 633.97h0M173.93 636.01h0M174.01 638.05h0M173.16 640.1h0M172.09 642.14h0M172 644.18h0M170.7 646.22h0M170.14 648.26h0M169.52 650.3h0M169.15 652.35h0M167.83 654.39h0M167.47 656.43h0M166.85 658.47h0M166.42 660.51h0M166.17 662.55h0M164.98 664.6h0M165.08 666.64h0M164.05 668.68h0M163.66 670.72h0M162.88 672.76h0M162.67 674.8h0M162.75 676.85h0M161.88 678.89h0M161.57 680.93h0M160.53 682.97h0M160.07 685.01h0M159.59 687.05h0M159.48 689.09h0M159.06 691.14h0M158.75 693.18h0M157.35 695.22h0M157.65 697.26h0M157.31 699.3h0M156.34 701.34h0M155.17 703.39h0M154.87 705.43h0M153.9 707.47h0M153.48 709.51h0M153.7 711.55h0M152.66 713.59h0M152.03 715.64h0M151.48 717.68h0M150.91 719.72h0M149.83 721.76h0M149.11 723.8h0M148.39 725.84h0M147.73 727.89h0M146.88 729.93h0M146.24 731.97h0M144.95 734.01h0M144.74 736.05h0M143.73 738.09h0M143.36 740.13h0M141.83 742.18h0M141.21 744.22h0M140.33 746.26h0M140.53 748.3h0M140.02 750.34h0M139.05 752.38h0M138.06 754.43h0M137.97 756.47h0M137.31 758.51h0M136.43 760.55h0M135.46 762.59h0M134.91 764.63h0M134.47 766.68h0M133.75 768.72h0M133.3 770.76h0M132.96 772.8h0M132.72 774.84h0M131.06 776.88h0M131.07 778.93h0M129.81 780.97h0M129.28 783.01h0M129.46 785.05h0M128.51 787.09h0M128.23 789.13h0M126.96 791.17h0M125.72 793.22h0M125.43 795.26h0M124.92 797.3h0M124.57 799.34h0M123.85 801.38h0M122.45 803.42h0M121.58 805.47h0M120.4 807.51h0M120.24 809.55h0M118.9 811.59h0M118.01 813.63h0M117.03 815.67h0M116.2 817.72h0M116.2 819.76h0M114.73 821.8h0M114.95 823.84h0M113.11 825.88h0M113.27 827.92h0M111.62 829.97h0M110.74 832.01h0M110.85 834.05h0M109.56 836.09h0M475.78 19.45h0M476.7 21.49h0M476.66 23.53h0M476.87 25.57h0M476.75 27.62h0M476.01 29.66h0M476.69 31.7h0M476.81 33.74h0M476.53 35.78h0M477.11 37.82h0M476.31 39.87h0M477.18 41.91h0M476.89 43.95h0M476.06 45.99h0M476.07 48.03h0M476.84 50.07h0M477.05 52.12h0M476.18 54.16h0M476.47 56.2h0M476.99 58.24h0M476.34 60.28h0M476.99 62.32h0M476.36 64.37h0M475.68 66.41h0M475.88 68.45h0M475.98 70.49h0M475.67 72.53h0M475.82 74.57h0M475.07 76.61h0M475.44 78.66h0M474.52 80.7h0M474.47 82.74h0M474.08 84.78h0M473.46 86.82h0M473.08 88.86h0M473.22 90.91h0M472.73 92.95h0M471.86 94.99h0M470.91 97.03h0M469.9 99.07h0M468.93 101.11h0M468.77 103.16h0M467.17 105.2h0M466.04 107.24h0M464.16 109.28h0M463.18 111.32h0M462.55 113.36h0M461.3 115.41h0M459.93 117.45h0M458.48 119.49h0M457.51 121.53h0M456.62 123.57h0M454.56 125.61h0M453.46 127.65h0M451.89 129.7h0M450.77 131.74h0M449.21 133.78h0M447.13 135.82h0M445.34 137.86h0M444.19 139.9h0M442.93 141.95h0M441.67 143.99h0M440.5 146.03h0M439.14 148.07h0M436.68 150.11h0M436.2 152.15h0M434.68 154.2h0M433.25 156.24h0M431.42 158.28h0M429.59 160.32h0M428.83 162.36h0M427.32 164.4h0M425.73 166.45h0M424.57 168.49h0M422.47 170.53h0M420.73 172.57h0M420.25 174.61h0M419.51 176.65h0M417.76 178.69h0M417.39 180.74h0M416.58 182.78h0M414.71 184.82h0M414.12 186.86h0M413.16 188.9h0M411.86 190.94h0M410.5 192.99h0M409.66 195.03h0M409.35 197.07h0M408.49 199.11h0M407.17 201.15h0M405.78 203.19h0M405.7 205.24h0M404.69 207.28h0M403.06 209.32h0M402.48 211.36h0M401.85 213.4h0M400.93 215.44h0M399.57 217.49h0M398.58 219.53h0M397.78 221.57h0M396.35 223.61h0M395.39 225.65h0M394.42 227.69h0M394.08 229.73h0M392.71 231.78h0M391.99 233.82h0M390.74 235.86h0M389.83 237.9h0M388.34 239.94h0M387.18 241.98h0M387.3 244.03h0M385.54 246.07h0M384.22 248.11h0M383.87 250.15h0M383.08 252.19h0M381.37 254.23h0M380.99 256.28h0M379.79 258.32h0M379.12 260.36h0M377.65 262.4h0M376.81 264.44h0M377.1 266.48h0M376.11 268.53h0M374.81 270.57h0M374.07 272.61h0M372.86 274.65h0M372.39 276.69h0M370.87 278.73h0M370.39 280.77h0M369.07 282.82h0M368.01 284.86h0M367.06 286.9h0M365.07 288.94h0M363.66 290.98h0M362.69 293.02h0M361.49 295.07h0M359.66 297.11h0M357.89 299.15h0M356.76 301.19h0M355.38 303.23h0M353.12 305.27h0M351.94 307.32h0M350.11 309.36h0M347.32 311.4h0M346.17 313.44h0M344.15 315.48h0M342.16 317.52h0M341.52 319.57h0M339.04 321.61h0M337.77 323.65h0M336.23 325.69h0M334.99 327.73h0M333.04 329.77h0M331.12 331.81h0M329.62 333.86h0M327.71 335.9h0M327.12 337.94h0M325.61 339.98h0M323.16 342.02h0M321.43 344.06h0M320.21 346.11h0M318.85 348.15h0M318.05 350.19h0M316.61 352.23h0M315.09 354.27h0M312.72 356.31h0M312.28 358.36h0M310.87 360.4h0M309.48 362.44h0M308.57 364.48h0M306.13 366.52h0M304.91 368.56h0M304.31 370.61h0M303.18 372.65h0M301.51 374.69h0M299.69 376.73h0M298.76 378.77h0M297.66 380.81h0M295.57 382.85h0M294.51 384.9h0M293.08 386.94h0M291.57 388.98h0M290.63 391.02h0M288.87 393.06h0M287.56 395.1h0M286.04 397.15h0M285.65 399.19h0M283.81 401.23h0M283.61 403.27h0M281.93 405.31h0M280.69 407.35h0M280.71 409.4h0M278.81 411.44h0M278.62 413.48h0M277.5 415.52h0M276.49 417.56h0M274.54 419.6h0M273.87 421.65h0M272.42 423.69h0M272.4 425.73h0M271.29 427.77h0M270.04 429.81h0M268.86 431.85h0M267.76 433.89h0M267.39 435.94h0M266.04 437.98h0M265.21 440.02h0M263.63 442.06h0M262.74 444.1h0M261.56 446.14h0M261.37 448.19h0M260.2 450.23h0M258.73 452.27h0M258.63 454.31h0M256.92 456.35h0M256.1 458.39h0M254.79 460.44h0M253.91 462.48h0M253.57 464.52h0M251.93 466.56h0M250.67 468.6h0M249.99 470.64h0M248.69 472.69h0M248.29 474.73h0M246.22 476.77h0M246.12 478.81h0M243.86 480.85h0M243.69 482.89h0M242.24 484.93h0M240.49 486.98h0M239.6 489.02h0M238.15 491.06h0M236.89 493.1h0M235.59 495.14h0M234.55 497.18h0M234.06 499.23h0M232.92 501.27h0M231.67 503.31h0M229.53 505.35h0M228.62 507.39h0M228.21 509.43h0M226.07 511.48h0M225.76 513.52h0M224.13 515.56h0M223.86 517.6h0M221.63 519.64h0M221.54 521.68h0M219.96 523.73h0M218.71 525.77h0M217.55 527.81h0M217.57 529.85h0M216.23 531.89h0M214.86 533.93h0M214.21 535.97h0M213.83 538.02h0M212.06 540.06h0M211.73 542.1h0M210.45 544.14h0M209.74 546.18h0M209.69 548.22h0M208.85 550.27h0M207.45 552.31h0M206.52 554.35h0M205.73 556.39h0M205.54 558.43h0M204.58 560.47h0M203.47 562.52h0M202.53 564.56h0M202.14 566.6h0M201.36 568.64h0M200.58 570.68h0M199.39 572.72h0M198 574.77h0M196.89 576.81h0M196.74 578.85h0M195.39 580.89h0M194.95 582.93h0M193.33 584.97h0M193.41 587.01h0M192.02 589.06h0M191.82 591.1h0M191.04 593.14h0M189.79 595.18h0M188.43 597.22h0M188.73 599.26h0M187.46 601.31h0M187.19 603.35h0M185.74 605.39h0M184.94 607.43h0M185.04 609.47h0M183.82 611.51h0M182.94 613.56h0M182.57 615.6h0M182.24 617.64h0M180.95 619.68h0M181 621.72h0M180.37 623.76h0M179.92 625.81h0M178.92 627.85h0M179.11 629.89h0M178.73 631.93h0M178.28 633.97h0M177.11 636.01h0M177.06 638.05h0M176.15 640.1h0M176.06 642.14h0M174.69 644.18h0M175.11 646.22h0M174.63 648.26h0M173.49 650.3h0M172.91 652.35h0M172.31 654.39h0M171.68 656.43h0M170.41 658.47h0M170.88 660.51h0M169.3 662.55h0M168.55 664.6h0M167.75 666.64h0M167.2 668.68h0M167.16 670.72h0M165.48 672.76h0M164.82 674.8h0M164.81 676.85h0M163.47 678.89h0M162.52 680.93h0M162.5 682.97h0M161.79 685.01h0M161.07 687.05h0M160.63 689.09h0M159.27 691.14h0M159.57 693.18h0M158.78 695.22h0M157.39 697.26h0M156.91 699.3h0M156.8 701.34h0M156.27 703.39h0M155.48 705.43h0M154.79 707.47h0M154.63 709.51h0M153.82 711.55h0M153.89 713.59h0M153.75 715.64h0M152.42 717.68h0M152.47 719.72h0M152.21 721.76h0M151.05 723.8h0M151.37 725.84h0M151.02 727.89h0M149.87 729.93h0M149.4 731.97h0M149.38 734.01h0M148.43 736.05h0M147.68 738.09h0M147.72 740.13h0M146.9 742.18h0M145.72 744.22h0M144.93 746.26h0M144.36 748.3h0M143.77 750.34h0M143.7 752.38h0M142.75 754.43h0M142.13 756.47h0M141.24 758.51h0M140.51 760.55h0M138.77 762.59h0M138.54 764.63h0M138.27 766.68h0M137.45 768.72h0M135.83 770.76h0M135.25 772.8h0M134.72 774.84h0M133.63 776.88h0M133.06 778.93h0M131.75 780.97h0M131.44 783.01h0M130.8 785.05h0M129.48 787.09h0M128.9 789.13h0M129.19 791.17h0M128.26 793.22h0M127.78 795.26h0M126.74 797.3h0M126.29 799.34h0M125.73 801.38h0M125.09 803.42h0M123.43 805.47h0M123.52 807.51h0M122.44 809.55h0M122.3 811.59h0M121.17 813.63h0M120.85 815.67h0M120.66 817.72h0M119.64 819.76h0M118.53 821.8h0M118.17 823.84h0M117.38 825.88h0M117.3 827.92h0M115.79 829.97h0M115.08 832.01h0M114.75 834.05h0M113.36 836.09h0M476.88 19.45h0M476.64 21.49h0M476.94 23.53h0M477.08 25.57h0M476.68 27.62h0M476.71 29.66h0M476.78 31.7h0M477.03 33.74h0M477.23 35.78h0M477.14 37.82h0M477.14 39.87h0M477 41.91h0M477.59 43.95h0M477.98 45.99h0M477.74 48.03h0M477.73 50.07h0M477.85 52.12h0M477.34 54.16h0M477.97 56.2h0M477.69 58.24h0M477.8 60.28h0M477.78 62.32h0M477.5 64.37h0M477.19 66.41h0M476.98 68.45h0M476.82 70.49h0M477.04 72.53h0M476.74 74.57h0M476.84 76.61h0M475.69 78.66h0M475.63 80.7h0M475.79 82.74h0M474.59 84.78h0M474.53 86.82h0M474.02 88.86h0M473.36 90.91h0M473.43 92.95h0M471.84 94.99h0M471.67 97.03h0M470.19 99.07h0M469.36 101.11h0M469.04 103.16h0M467.25 105.2h0M465.53 107.24h0M464.65 109.28h0M463.44 111.32h0M462.79 113.36h0M461.03 115.41h0M460.16 117.45h0M460.04 119.49h0M458.76 121.53h0M456.74 123.57h0M455.64 125.61h0M454.33 127.65h0M453.39 129.7h0M451.97 131.74h0M450.91 133.78h0M449.52 135.82h0M447.79 137.86h0M446.68 139.9h0M445.3 141.95h0M443.92 143.99h0M442.16 146.03h0M441.12 148.07h0M439.6 150.11h0M438.41 152.15h0M435.93 154.2h0M435.28 156.24h0M432.7 158.28h0M432.08 160.32h0M430.32 162.36h0M428.68 164.4h0M427.71 166.45h0M425.72 168.49h0M424.02 170.53h0M422.95 172.57h0M421.94 174.61h0M420.53 176.65h0M419.16 178.69h0M418.17 180.74h0M417.11 182.78h0M416.36 184.82h0M414.8 186.86h0M413.87 188.9h0M413.03 190.94h0M411.8 192.99h0M410.89 195.03h0M410.63 197.07h0M409.89 199.11h0M408.66 201.15h0M407.78 203.19h0M406.62 205.24h0M405.86 207.28h0M404.77 209.32h0M404.39 211.36h0M403.5 213.4h0M402.11 215.44h0M402.3 217.49h0M400.79 219.53h0M400.61 221.57h0M399.81 223.61h0M399.15 225.65h0M397.45 227.69h0M396.91 229.73h0M396.69 231.78h0M394.81 233.82h0M393.96 235.86h0M393.68 237.9h0M392.7 239.94h0M392.3 241.98h0M391.13 244.03h0M389.82 246.07h0M389.33 248.11h0M387.71 250.15h0M386.67 252.19h0M385.83 254.23h0M384.44 256.28h0M383.38 258.32h0M382.65 260.36h0M381.35 262.4h0M381.07 264.44h0M379.76 266.48h0M378.61 268.53h0M377.15 270.57h0M376.54 272.61h0M375.64 274.65h0M374.7 276.69h0M373.6 278.73h0M372.85 280.77h0M371.86 282.82h0M370.2 284.86h0M369.07 286.9h0M368.22 288.94h0M367.61 290.98h0M365.76 293.02h0M364.93 295.07h0M363.64 297.11h0M361.23 299.15h0M359.76 301.19h0M358.9 303.23h0M357.06 305.27h0M355 307.32h0M352.83 309.36h0M352.07 311.4h0M350.11 313.44h0M348.53 315.48h0M347.17 317.52h0M345.47 319.57h0M343.32 321.61h0M341.4 323.65h0M339.94 325.69h0M338.57 327.73h0M336.92 329.77h0M334.89 331.81h0M333.22 333.86h0M332.1 335.9h0M330.33 337.94h0M328.31 339.98h0M327.35 342.02h0M325.21 344.06h0M322.8 346.11h0M321.55 348.15h0M320.33 350.19h0M318.09 352.23h0M316.91 354.27h0M314.47 356.31h0M313.32 358.36h0M312.48 360.4h0M310.71 362.44h0M309.36 364.48h0M307.36 366.52h0M306.3 368.56h0M304.96 370.61h0M303.23 372.65h0M302.3 374.69h0M300.79 376.73h0M300.09 378.77h0M298.32 380.81h0M296.87 382.85h0M295.26 384.9h0M294.04 386.94h0M293.5 388.98h0M291.45 391.02h0M290.16 393.06h0M288.96 395.1h0M288.08 397.15h0M287.52 399.19h0M286.34 401.23h0M285.63 403.27h0M283.78 405.31h0M282.75 407.35h0M282.68 409.4h0M281.14 411.44h0M280.61 413.48h0M279.16 415.52h0M277.91 417.56h0M276.98 419.6h0M275.73 421.65h0M275.64 423.69h0M274.2 425.73h0M272.86 427.77h0M271.92 429.81h0M270.78 431.85h0M269.32 433.89h0M269.28 435.94h0M267.86 437.98h0M267.19 440.02h0M265.46 442.06h0M264.58 444.1h0M263.05 446.14h0M261.73 448.19h0M261.74 450.23h0M260.6 452.27h0M258.93 454.31h0M258.61 456.35h0M257.51 458.39h0M255.91 460.44h0M255.28 462.48h0M254.74 464.52h0M253.22 466.56h0M252.8 468.6h0M251 470.64h0M250.21 472.69h0M249.65 474.73h0M248.09 476.77h0M247.17 478.81h0M246.75 480.85h0M245.18 482.89h0M244.45 484.93h0M242.69 486.98h0M241.51 489.02h0M240.63 491.06h0M239.32 493.1h0M239.17 495.14h0M237.25 497.18h0M236.47 499.23h0M234.94 501.27h0M234.44 503.31h0M233.26 505.35h0M232.28 507.39h0M230.88 509.43h0M229.95 511.48h0M229.79 513.52h0M228.22 515.56h0M227 517.6h0M225.81 519.64h0M224.8 521.68h0M223.62 523.73h0M222.26 525.77h0M221.9 527.81h0M220.42 529.85h0M219.1 531.89h0M218.68 533.93h0M216.88 535.97h0M216.04 538.02h0M215.68 540.06h0M214 542.1h0M213.56 544.14h0M213.23 546.18h0M212.41 548.22h0M210.86 550.27h0M210.32 552.31h0M210.01 554.35h0M208.85 556.39h0M208.8 558.43h0M207.17 560.47h0M207.32 562.52h0M206.04 564.56h0M204.97 566.6h0M204.49 568.64h0M203.35 570.68h0M203.28 572.72h0M201.97 574.77h0M201.94 576.81h0M200.76 578.85h0M199.68 580.89h0M198.85 582.93h0M198.59 584.97h0M197.4 587.01h0M197.46 589.06h0M195.82 591.1h0M195.52 593.14h0M194.78 595.18h0M193.66 597.22h0M193.45 599.26h0M192.17 601.31h0M191.68 603.35h0M190.74 605.39h0M189.6 607.43h0M188.87 609.47h0M187.68 611.51h0M186.97 613.56h0M186.96 615.6h0M185.52 617.64h0M185.14 619.68h0M183.71 621.72h0M183.49 623.76h0M182.51 625.81h0M181.96 627.85h0M181.02 629.89h0M180.07 631.93h0M179.69 633.97h0M178.94 636.01h0M178.19 638.05h0M178.29 640.1h0M177.17 642.14h0M176.73 644.18h0M176.77 646.22h0M176.05 648.26h0M175.63 650.3h0M175.05 652.35h0M173.63 654.39h0M173.26 656.43h0M172.41 658.47h0M172.64 660.51h0M172.05 662.55h0M171.1 664.6h0M170.59 666.64h0M170.29 668.68h0M169.72 670.72h0M168.55 672.76h0M168.62 674.8h0M167.36 676.85h0M167.02 678.89h0M165.79 680.93h0M165 682.97h0M165.28 685.01h0M164.38 687.05h0M163.65 689.09h0M162.14 691.14h0M161.43 693.18h0M160.86 695.22h0M160.19 697.26h0M159.61 699.3h0M158.99 701.34h0M157.89 703.39h0M157.52 705.43h0M157.24 707.47h0M156.02 709.51h0M156.16 711.55h0M155.21 713.59h0M154.77 715.64h0M153.61 717.68h0M153.25 719.72h0M152.98 721.76h0M152.03 723.8h0M151.09 725.84h0M151.57 727.89h0M151 729.93h0M149.92 731.97h0M149.15 734.01h0M149.61 736.05h0M148.81 738.09h0M147.64 740.13h0M147.37 742.18h0M146.7 744.22h0M147.01 746.26h0M145.8 748.3h0M146.12 750.34h0M145.38 752.38h0M144.04 754.43h0M144.15 756.47h0M143.11 758.51h0M142.86 760.55h0M142.27 762.59h0M140.94 764.63h0M140.03 766.68h0M140.38 768.72h0M139.07 770.76h0M139 772.8h0M138.03 774.84h0M137.41 776.88h0M136.84 778.93h0M135.91 780.97h0M135.02 783.01h0M133.81 785.05h0M133.77 787.09h0M132.64 789.13h0M131.92 791.17h0M131.62 793.22h0M129.86 795.26h0M129.83 797.3h0M128.18 799.34h0M128.2 801.38h0M127.56 803.42h0M126.16 805.47h0M125.76 807.51h0M125.55 809.55h0M124.44 811.59h0M123.63 813.63h0M122.58 815.67h0M121.68 817.72h0M121.37 819.76h0M120.77 821.8h0M119.86 823.84h0M119.34 825.88h0M118.49 827.92h0M118.52 829.97h0M117.83 832.01h0M116.66 834.05h0M116 836.09h0" stroke="#00ffff" stroke-width="7.2" stroke-linecap="round" fill="none"/>
<polyline points="476,29.66 477,50.07 475.5,70.49 467.5,90.91 457.5,111.32 446.6,131.74 432.5,152.15 417.2,172.57 407.3,192.99 397.2,213.4 388.9,233.82 379.5,254.23 370,274.65 358.7,295.07 342.8,315.48 327.9,335.9 313.2,356.31 298.3,376.73 284.9,397.15 270.5,417.56 260.5,437.98 248.9,458.39 238.6,478.81 227.1,499.23 217.3,519.64 207.2,540.06 198.7,560.47 191.5,580.89 184.7,601.31 177.8,621.72 171.3,642.14 164.1,662.55 158,682.97 152.1,703.39 144.3,723.8 137.1,744.22 130.2,764.63 122.5,785.05 115.8,805.47 109,825.88" stroke="#0000ff" stroke-width="2.6" fill="none" stroke-linejoin="round"/>
<path d="M476 29.66h0M477 50.07h0M475.5 70.49h0M467.5 90.91h0M457.5 111.32h0M446.6 131.74h0M432.5 152.15h0M417.2 172.57h0M407.3 192.99h0M397.2 213.4h0M388.9 233.82h0M379.5 254.23h0M370 274.65h0M358.7 295.07h0M342.8 315.48h0M327.9 335.9h0M313.2 356.31h0M298.3 376.73h0M284.9 397.15h0M270.5 417.56h0M260.5 437.98h0M248.9 458.39h0M238.6 478.81h0M227.1 499.23h0M217.3 519.64h0M207.2 540.06h0M198.7 560.47h0M191.5 580.89h0M184.7 601.31h0M177.8 621.72h0M171.3 642.14h0M164.1 662.55h0M158 682.97h0M152.1 703.39h0M144.3 723.8h0M137.1 744.22h0M130.2 764.63h0M122.5 785.05h0M115.8 805.47h0M109 825.88h0" stroke="#0000ff" stroke-width="12.15" stroke-linecap="round" fill="none"/>
<polyline points="470.8,19.45 470.8,23.53 470.8,27.62 470.8,31.7 470.8,35.78 470.9,39.87 471,43.95 471.3,50.07 472,60.28 472.3,70.49 471.3,80.7 469.5,90.91 465.5,101.11 460.7,111.32 456,121.53 446.6,141.95 438.4,162.36 430.6,182.78 420.7,203.19 411.3,223.61 388.4,274.65 343.3,325.69 251.2,427.77 192.2,529.85 161.1,631.93 130.2,734.01 101.1,836.09" stroke="#ff0000" stroke-width="2.6" fill="none" stroke-linejoin="round"/>
<path d="M470.8 19.45h0M470.8 23.53h0M470.8 27.62h0M470.8 31.7h0M470.8 35.78h0M470.9 39.87h0M471 43.95h0M471.3 50.07h0M472 60.28h0M472.3 70.49h0M471.3 80.7h0M469.5 90.91h0M465.5 101.11h0M460.7 111.32h0M456 121.53h0M446.6 141.95h0M438.4 162.36h0M430.6 182.78h0M420.7 203.19h0M411.3 223.61h0M388.4 274.65h0M343.3 325.69h0M251.2 427.77h0M192.2 529.85h0M161.1 631.93h0M130.2 734.01h0M101.1 836.09h0" stroke="#ff0000" stroke-width="12.15" stroke-linecap="round" fill="none"/>
<polyline points="471.3,19.45 471.3,23.53 471.3,27.62 471.3,31.7 471.3,35.78 471.3,39.87 471.3,43.95 471.3,50.07 471.5,60.28 470.4,70.49 467.4,80.7 463.6,90.91 460.7,101.11 454.4,111.32 449,121.53 435.3,141.95 420.2,162.36 407,182.78 400.2,203.19 395.5,223.61 364.2,274.65 339.4,325.69 284.9,427.77 225.3,529.85 186.1,631.93 151.1,734.01 120.3,836.09" stroke="#ffa500" stroke-width="2.6" fill="none" stroke-linejoin="round"/>
<path d="M471.3 19.45h0M471.3 23.53h0M471.3 27.62h0M471.3 31.7h0M471.3 35.78h0M471.3 39.87h0M471.3 43.95h0M471.3 50.07h0M471.5 60.28h0M470.4 70.49h0M467.4 80.7h0M463.6 90.91h0M460.7 101.11h0M454.4 111.32h0M449 121.53h0M435.3 141.95h0M420.2 162.36h0M407 182.78h0M400.2 203.19h0M395.5 223.61h0M364.2 274.65h0M339.4 325.69h0M284.9 427.77h0M225.3 529.85h0M186.1 631.93h0M151.1 734.01h0M120.3 836.09h0" stroke="#ffa500" stroke-width="12.15" stroke-linecap="round" fill="none"/>
</g>
<rect x="88.5" y="19.45" width="401" height="817" fill="none" stroke="#000" stroke-width="1.39"/>
<path d="M146.5 836.45v6.08M254.5 836.45v6.08M363.5 836.45v6.08M471.5 836.45v6.08M88.5 19.5h-6.08M88.5 70.5h-6.08M88.5 121.5h-6.08M88.5 172.5h-6.08M88.5 223.5h-6.08M88.5 274.5h-6.08M88.5 325.5h-6.08M88.5 376.5h-6.08M88.5 427.5h-6.08M88.5 478.5h-6.08M88.5 529.5h-6.08M88.5 580.5h-6.08M88.5 631.5h-6.08M88.5 682.5h-6.08M88.5 734.5h-6.08M88.5 785.5h-6.08" stroke="#000" stroke-width="1.39" fill="none"/>
<text x="145.9" y="862.8" class="tk" text-anchor="middle">15</text>
<text x="253.9" y="862.8" class="tk" text-anchor="middle">20</text>
<text x="362.9" y="862.8" class="tk" text-anchor="middle">25</text>
<text x="470.9" y="862.8" class="tk" text-anchor="middle">30</text>
<text x="76.34" y="26.35" class="tk" text-anchor="end">0</text>
<text x="76.34" y="77.39" class="tk" text-anchor="end">25</text>
<text x="76.34" y="128.43" class="tk" text-anchor="end">50</text>
<text x="76.34" y="179.47" class="tk" text-anchor="end">75</text>
<text x="76.34" y="230.51" class="tk" text-anchor="end">100</text>
<text x="76.34" y="281.55" class="tk" text-anchor="end">125</text>
<text x="76.34" y="332.59" class="tk" text-anchor="end">150</text>
<text x="76.34" y="383.63" class="tk" text-anchor="end">175</text>
<text x="76.34" y="434.67" class="tk" text-anchor="end">200</text>
<text x="76.34" y="485.71" class="tk" text-anchor="end">225</text>
<text x="76.34" y="536.75" class="tk" text-anchor="end">250</text>
<text x="76.34" y="587.79" class="tk" text-anchor="end">275</text>
<text x="76.34" y="638.83" class="tk" text-anchor="end">300</text>
<text x="76.34" y="689.87" class="tk" text-anchor="end">325</text>
<text x="76.34" y="740.91" class="tk" text-anchor="end">350</text>
<text x="76.34" y="791.95" class="tk" text-anchor="end">375</text>
<clipPath id="c1"><rect x="580.5" y="19.45" width="401" height="817"/></clipPath>
<path d="M584.5 19.45V836.45M650.5 19.45V836.45M716.5 19.45V836.45M781.5 19.45V836.45M847.5 19.45V836.45M913.5 19.45V836.45M979.5 19.45V836.45M580.5 70.5H981.5M580.5 121.5H981.5M580.5 172.5H981.5M580.5 223.5H981.5M580.5 274.5H981.5M580.5 325.5H981.5M580.5 376.5H981.5M580.5 427.5H981.5M580.5 478.5H981.5M580.5 529.5H981.5M580.5 580.5H981.5M580.5 631.5H981.5M580.5 682.5H981.5M580.5 734.5H981.5M580.5 785.5H981.5" stroke="#a8a8a8" stroke-width="0.87" stroke-dasharray="3.2 1.39" fill="none"/>
<g clip-path="url(#c1)">
<path d="M625.66 19.45h0M624.9 21.49h0M624.78 23.53h0M625.42 25.57h0M624.47 27.62h0M624.91 29.66h0M624.58 31.7h0M625.11 33.74h0M624.74 35.78h0M624.95 37.82h0M624.2 39.87h0M624.8 41.91h0M624.72 43.95h0M624.55 45.99h0M624.92 48.03h0M625 50.07h0M624.14 52.12h0M624.35 54.16h0M624.43 56.2h0M629.9 58.24h0M635.37 60.28h0M641.29 62.32h0M646.84 64.37h0M653.11 66.41h0M658.49 68.45h0M663.78 70.49h0M669.72 72.53h0M675.59 74.57h0M681.16 76.61h0M686.62 78.66h0M692.19 80.7h0M697.81 82.74h0M704.67 84.78h0M710.06 86.82h0M714.93 88.86h0M721.36 90.91h0M727.33 92.95h0M732.48 94.99h0M737.58 97.03h0M742.1 99.07h0M746.1 101.11h0M749.86 103.16h0M754.33 105.2h0M757.73 107.24h0M762.86 109.28h0M766.57 111.32h0M770.58 113.36h0M774.98 115.41h0M778.68 117.45h0M782.24 119.49h0M786.3 121.53h0M788.37 123.57h0M790.43 125.61h0M793.53 127.65h0M795.81 129.7h0M797.36 131.74h0M799.42 133.78h0M802.17 135.82h0M804.61 137.86h0M806.91 139.9h0M808.24 141.95h0M811.16 143.99h0M813.4 146.03h0M815.5 148.07h0M817.22 150.11h0M819.27 152.15h0M822.26 154.2h0M823.89 156.24h0M826.18 158.28h0M828.64 160.32h0M830.65 162.36h0M833.21 164.4h0M834.49 166.45h0M836.23 168.49h0M838.82 170.53h0M840.84 172.57h0M843.01 174.61h0M844.8 176.65h0M846.94 178.69h0M848.89 180.74h0M850.23 182.78h0M851.5 184.82h0M852.35 186.86h0M853.77 188.9h0M855.35 190.94h0M855.98 192.99h0M857.94 195.03h0M858.53 197.07h0M860.09 199.11h0M861.94 201.15h0M862.11 203.19h0M862.81 205.24h0M864.06 207.28h0M864.53 209.32h0M865.94 211.36h0M865.84 213.4h0M867.62 215.44h0M868.42 217.49h0M869.12 219.53h0M869.47 221.57h0M870.1 223.61h0M870.77 225.65h0M870.83 227.69h0M870.95 229.73h0M871.09 231.78h0M871.46 233.82h0M871.83 235.86h0M872.12 237.9h0M872.33 239.94h0M871.56 241.98h0M871.85 244.03h0M872.17 246.07h0M872.46 248.11h0M872.36 250.15h0M872.33 252.19h0M872.35 254.23h0M873.95 256.28h0M875.41 258.32h0M877.31 260.36h0M878.52 262.4h0M879.73 264.44h0M881.11 266.48h0M882.33 268.53h0M883.15 270.57h0M884.6 272.61h0M884.9 274.65h0M887.06 276.69h0M888.39 278.73h0M889.42 280.77h0M891.14 282.82h0M892.99 284.86h0M893.82 286.9h0M895.41 288.94h0M896.38 290.98h0M897.83 293.02h0M899.87 295.07h0M899.74 297.11h0M900.84 299.15h0M902.34 301.19h0M902.99 303.23h0M903.48 305.27h0M905.11 307.32h0M905.7 309.36h0M906.91 311.4h0M907.67 313.44h0M908.78 315.48h0M908.72 317.52h0M908.42 319.57h0M907.98 321.61h0M907.98 323.65h0M908.75 325.69h0M908.27 327.73h0M907.69 329.77h0M908.55 331.81h0M907.79 333.86h0M907.58 335.9h0M907.22 337.94h0M906.01 339.98h0M905.43 342.02h0M904.66 344.06h0M903.42 346.11h0M902.99 348.15h0M901.59 350.19h0M901.21 352.23h0M900.43 354.27h0M898.93 356.31h0M899.66 358.36h0M899.56 360.4h0M900.29 362.44h0M901.07 364.48h0M900.95 366.52h0M901.39 368.56h0M901.68 370.61h0M901.14 372.65h0M902.43 374.69h0M902.35 376.73h0M901.08 378.77h0M901.42 380.81h0M900.37 382.85h0M899.61 384.9h0M900.15 386.94h0M899.28 388.98h0M899.13 391.02h0M897.96 393.06h0M898.33 395.1h0M897.07 397.15h0M895.78 399.19h0M894.45 401.23h0M892.52 403.27h0M891.71 405.31h0M889.76 407.35h0M888.36 409.4h0M887.35 411.44h0M885.51 413.48h0M884.57 415.52h0M882.75 417.56h0M882.75 419.6h0M882.17 421.65h0M882.47 423.69h0M882.28 425.73h0M881.3 427.77h0M881.84 429.81h0M881.2 431.85h0M881.53 433.89h0M881.24 435.94h0M881.2 437.98h0M879.5 440.02h0M878.94 442.06h0M878.5 444.1h0M877.87 446.14h0M876.71 448.19h0M874.99 450.23h0M874.74 452.27h0M873.19 454.31h0M872.78 456.35h0M872.12 458.39h0M870.28 460.44h0M870.23 462.48h0M868.9 464.52h0M867.35 466.56h0M866.22 468.6h0M865.47 470.64h0M864.87 472.69h0M863.5 474.73h0M861.87 476.77h0M860.7 478.81h0M859.57 480.85h0M859.17 482.89h0M857.21 484.93h0M856.44 486.98h0M854.93 489.02h0M854.22 491.06h0M852.68 493.1h0M851.24 495.14h0M850.99 497.18h0M849.47 499.23h0M848.74 501.27h0M847.99 503.31h0M847.28 505.35h0M845.3 507.39h0M844.84 509.43h0M843.77 511.48h0M843.36 513.52h0M842.98 515.56h0M842.07 517.6h0M840.32 519.64h0M839.49 521.68h0M839.24 523.73h0M838.05 525.77h0M836.67 527.81h0M835.72 529.85h0M834.28 531.89h0M834.02 533.93h0M832.37 535.97h0M831.82 538.02h0M830.35 540.06h0M828.56 542.1h0M827.69 544.14h0M826.36 546.18h0M825.95 548.22h0M824.33 550.27h0M822.41 552.31h0M821.27 554.35h0M820.19 556.39h0M818.99 558.43h0M817.79 560.47h0M816.22 562.52h0M814.83 564.56h0M813.06 566.6h0M812.39 568.64h0M810.75 570.68h0M809.04 572.72h0M808.24 574.77h0M807.56 576.81h0M805.13 578.85h0M803.97 580.89h0M803.62 582.93h0M802.18 584.97h0M801.24 587.01h0M800.59 589.06h0M799.41 591.1h0M798.91 593.14h0M798.01 595.18h0M797.69 597.22h0M796.92 599.26h0M794.97 601.31h0M794.81 603.35h0M794.29 605.39h0M793.64 607.43h0M792.76 609.47h0M791.82 611.51h0M791.05 613.56h0M789.94 615.6h0M789.05 617.64h0M788.86 619.68h0M788.13 621.72h0M787.36 623.76h0M786.18 625.81h0M784.83 627.85h0M784.45 629.89h0M783.47 631.93h0M782.92 633.97h0M782.78 636.01h0M782.12 638.05h0M782.03 640.1h0M781.51 642.14h0M780.74 644.18h0M780.71 646.22h0M780.33 648.26h0M780.77 650.3h0M779.81 652.35h0M779.34 654.39h0M778.86 656.43h0M778.72 658.47h0M778.74 660.51h0M778.36 662.55h0M778.09 664.6h0M779.01 666.64h0M778.38 668.68h0M778.25 670.72h0M778.28 672.76h0M777.84 674.8h0M777.56 676.85h0M777.32 678.89h0M777.48 680.93h0M777.37 682.97h0M777.31 685.01h0M776.54 687.05h0M776.44 689.09h0M775.17 691.14h0M775.31 693.18h0M774.34 695.22h0M773.3 697.26h0M773.01 699.3h0M773.08 701.34h0M773.16 703.39h0M771.98 705.43h0M772.06 707.47h0M771.21 709.51h0M771.29 711.55h0M769.87 713.59h0M769.89 715.64h0M769.9 717.68h0M768.65 719.72h0M768.1 721.76h0M767.29 723.8h0M766.9 725.84h0M766.46 727.89h0M766.41 729.93h0M765.23 731.97h0M764.84 734.01h0M763.79 736.05h0M763.45 738.09h0M762.94 740.13h0M761.85 742.18h0M760.49 744.22h0M760.31 746.26h0M759.76 748.3h0M758.52 750.34h0M757.09 752.38h0M757.17 754.43h0M756.47 756.47h0M755.06 758.51h0M754.06 760.55h0M753.39 762.59h0M753.08 764.63h0M752.78 766.68h0M751.8 768.72h0M751.46 770.76h0M749.94 772.8h0M749.42 774.84h0M749.28 776.88h0M748.52 778.93h0M747.6 780.97h0M747.3 783.01h0M746.26 785.05h0M745.3 787.09h0M745.09 789.13h0M744.02 791.17h0M744.07 793.22h0M743.08 795.26h0M742.61 797.3h0M742.06 799.34h0M740.97 801.38h0M740.51 803.42h0M739.26 805.47h0M739.62 807.51h0M738.44 809.55h0M738.18 811.59h0M736.29 813.63h0M736.16 815.67h0M735.48 817.72h0M734.18 819.76h0M733.07 821.8h0M732.3 823.84h0M731.42 825.88h0M731.31 827.92h0M729.63 829.97h0M729.63 832.01h0M728.29 834.05h0M727.56 836.09h0M625.9 19.45h0M625.78 21.49h0M625.4 23.53h0M625.84 25.57h0M625.22 27.62h0M625.73 29.66h0M625.76 31.7h0M625.75 33.74h0M625.17 35.78h0M625.71 37.82h0M625.95 39.87h0M625.32 41.91h0M625.12 43.95h0M625.43 45.99h0M625.95 48.03h0M625 50.07h0M624.88 52.12h0M625.47 54.16h0M625.72 56.2h0M631.57 58.24h0M636.8 60.28h0M643.27 62.32h0M648.07 64.37h0M654.43 66.41h0M659.34 68.45h0M664.99 70.49h0M670.83 72.53h0M676.46 74.57h0M682.7 76.61h0M688.46 78.66h0M693.71 80.7h0M700.32 82.74h0M705.31 84.78h0M710.73 86.82h0M716.44 88.86h0M722.78 90.91h0M728.65 92.95h0M733.4 94.99h0M738.88 97.03h0M743.84 99.07h0M747.26 101.11h0M752.21 103.16h0M755.68 105.2h0M759.91 107.24h0M763.62 109.28h0M768.23 111.32h0M771.89 113.36h0M775.8 115.41h0M780.57 117.45h0M783.71 119.49h0M788.56 121.53h0M790.02 123.57h0M792.99 125.61h0M794.98 127.65h0M797.84 129.7h0M799.19 131.74h0M802.12 133.78h0M804.28 135.82h0M807.25 137.86h0M809.66 139.9h0M811.66 141.95h0M813.41 143.99h0M815.67 146.03h0M817.92 148.07h0M820.36 150.11h0M822.35 152.15h0M824.55 154.2h0M827.44 156.24h0M829.52 158.28h0M831.32 160.32h0M834.35 162.36h0M835.31 164.4h0M837.61 166.45h0M838.97 168.49h0M841.66 170.53h0M843.5 172.57h0M844.59 174.61h0M846.97 176.65h0M848.85 178.69h0M849.98 180.74h0M851.81 182.78h0M853.16 184.82h0M854.8 186.86h0M855.09 188.9h0M856.87 190.94h0M857.92 192.99h0M858.9 195.03h0M860.21 197.07h0M861.74 199.11h0M862.1 201.15h0M864.09 203.19h0M864.23 205.24h0M865.5 207.28h0M866.38 209.32h0M866.34 211.36h0M867.95 213.4h0M868.9 215.44h0M868.86 217.49h0M869.34 219.53h0M870.25 221.57h0M872.1 223.61h0M871.22 225.65h0M872.59 227.69h0M871.97 229.73h0M872.97 231.78h0M872.5 233.82h0M872.78 235.86h0M873.6 237.9h0M873.1 239.94h0M873.61 241.98h0M874.52 244.03h0M874.49 246.07h0M874.9 248.11h0M875.23 250.15h0M874.29 252.19h0M874.72 254.23h0M876.59 256.28h0M877.66 258.32h0M878.05 260.36h0M879.77 262.4h0M880.6 264.44h0M881.98 266.48h0M882.72 268.53h0M883.75 270.57h0M886.04 272.61h0M886.35 274.65h0M888.38 276.69h0M888.82 278.73h0M890.61 280.77h0M891.53 282.82h0M893.24 284.86h0M894.3 286.9h0M896.27 288.94h0M897 290.98h0M899.09 293.02h0M900.19 295.07h0M900.62 297.11h0M901.82 299.15h0M902.9 301.19h0M904.34 303.23h0M904.59 305.27h0M905.37 307.32h0M907.23 309.36h0M908.09 311.4h0M908.87 313.44h0M909.29 315.48h0M909.24 317.52h0M909.41 319.57h0M909.26 321.61h0M909.32 323.65h0M909.99 325.69h0M909.98 327.73h0M910.29 329.77h0M910.19 331.81h0M909.91 333.86h0M910.87 335.9h0M910.19 337.94h0M909.42 339.98h0M908.79 342.02h0M908.31 344.06h0M908.01 346.11h0M907.21 348.15h0M906.33 350.19h0M905.24 352.23h0M904.41 354.27h0M903.77 356.31h0M904.5 358.36h0M903.86 360.4h0M903.9 362.44h0M903.98 364.48h0M903.7 366.52h0M904.78 368.56h0M903.65 370.61h0M904.44 372.65h0M904.91 374.69h0M904.21 376.73h0M904.08 378.77h0M903.24 380.81h0M902.54 382.85h0M901.97 384.9h0M901.37 386.94h0M901.75 388.98h0M901.21 391.02h0M900.9 393.06h0M899.43 395.1h0M899.78 397.15h0M897.99 399.19h0M897.04 401.23h0M895.62 403.27h0M894.06 405.31h0M893.59 407.35h0M891.19 409.4h0M890.87 411.44h0M889.82 413.48h0M888.24 415.52h0M887.2 417.56h0M887.46 419.6h0M886.32 421.65h0M886.54 423.69h0M886.41 425.73h0M885.69 427.77h0M885.78 429.81h0M885.07 431.85h0M884.88 433.89h0M884.61 435.94h0M884.29 437.98h0M882.99 440.02h0M882.47 442.06h0M881.47 444.1h0M880.17 446.14h0M879.7 448.19h0M878.34 450.23h0M878.15 452.27h0M876.66 454.31h0M875.97 456.35h0M874.74 458.39h0M873.62 460.44h0M872.24 462.48h0M871.08 464.52h0M870.95 466.56h0M869.4 468.6h0M868.33 470.64h0M867.28 472.69h0M866.57 474.73h0M864.84 476.77h0M863.73 478.81h0M863.35 480.85h0M861.77 482.89h0M860.85 484.93h0M859.96 486.98h0M858.94 489.02h0M857.83 491.06h0M855.77 493.1h0M855.12 495.14h0M854.63 497.18h0M853.58 499.23h0M851.91 501.27h0M851.11 503.31h0M850.4 505.35h0M849.39 507.39h0M848.87 509.43h0M848.57 511.48h0M847.4 513.52h0M846.47 515.56h0M845.18 517.6h0M844.67 519.64h0M844.35 521.68h0M842.92 523.73h0M841.53 525.77h0M840.46 527.81h0M839.71 529.85h0M838.5 531.89h0M836.59 533.93h0M836.02 535.97h0M834.41 538.02h0M833.34 540.06h0M831.74 542.1h0M830.61 544.14h0M829.27 546.18h0M828.01 548.22h0M826.24 550.27h0M825.12 552.31h0M824.22 554.35h0M822.26 556.39h0M821.06 558.43h0M820.37 560.47h0M818.51 562.52h0M817.25 564.56h0M815.84 566.6h0M815.26 568.64h0M813.09 570.68h0M812.5 572.72h0M811.53 574.77h0M809.53 576.81h0M808.61 578.85h0M807.89 580.89h0M806.83 582.93h0M805.71 584.97h0M804.51 587.01h0M804.19 589.06h0M803.33 591.1h0M802.98 593.14h0M801.73 595.18h0M801.13 597.22h0M800.68 599.26h0M800.14 601.31h0M798.85 603.35h0M798.14 605.39h0M797.62 607.43h0M797.27 609.47h0M795.6 611.51h0M795.73 613.56h0M794.6 615.6h0M793.34 617.64h0M792.82 619.68h0M791.51 621.72h0M790.28 623.76h0M790.15 625.81h0M788.72 627.85h0M787.89 629.89h0M786.83 631.93h0M786.9 633.97h0M786.3 636.01h0M785 638.05h0M785.25 640.1h0M784.68 642.14h0M784.26 644.18h0M784.32 646.22h0M783.43 648.26h0M783.13 650.3h0M783.29 652.35h0M782.43 654.39h0M782.2 656.43h0M781.96 658.47h0M782.1 660.51h0M781.7 662.55h0M781.6 664.6h0M781.04 666.64h0M780.47 668.68h0M781.12 670.72h0M780.88 672.76h0M781.06 674.8h0M780.99 676.85h0M780.16 678.89h0M780.23 680.93h0M780.02 682.97h0M780.5 685.01h0M779.23 687.05h0M778.81 689.09h0M779.21 691.14h0M778.57 693.18h0M777.55 695.22h0M777.88 697.26h0M777.49 699.3h0M776.78 701.34h0M775.81 703.39h0M776.1 705.43h0M775.29 707.47h0M774.99 709.51h0M774.97 711.55h0M774.22 713.59h0M773.74 715.64h0M772.3 717.68h0M771.95 719.72h0M771.57 721.76h0M770.35 723.8h0M770.92 725.84h0M769.44 727.89h0M768.8 729.93h0M768.23 731.97h0M767.53 734.01h0M767.41 736.05h0M766.21 738.09h0M765.33 740.13h0M764.4 742.18h0M763.14 744.22h0M762.64 746.26h0M762.53 748.3h0M761.68 750.34h0M760.99 752.38h0M759.52 754.43h0M758.73 756.47h0M757.83 758.51h0M757.71 760.55h0M756.82 762.59h0M756.26 764.63h0M755.62 766.68h0M755.07 768.72h0M754.16 770.76h0M754.03 772.8h0M752.66 774.84h0M752.88 776.88h0M751.79 778.93h0M750.53 780.97h0M750.19 783.01h0M749.78 785.05h0M748.95 787.09h0M748.45 789.13h0M747.45 791.17h0M746.67 793.22h0M746.56 795.26h0M745.2 797.3h0M744.93 799.34h0M744.26 801.38h0M743.2 803.42h0M742.22 805.47h0M741.96 807.51h0M740.53 809.55h0M740.18 811.59h0M738.33 813.63h0M737.9 815.67h0M737.26 817.72h0M735.66 819.76h0M735.74 821.8h0M733.89 823.84h0M733.62 825.88h0M732.23 827.92h0M732.23 829.97h0M730.91 832.01h0M730.32 834.05h0M729.09 836.09h0M626.1 19.45h0M625.98 21.49h0M626.71 23.53h0M625.87 25.57h0M626.79 27.62h0M625.94 29.66h0M625.82 31.7h0M625.82 33.74h0M626.67 35.78h0M626.9 37.82h0M626.28 39.87h0M626.61 41.91h0M626.17 43.95h0M626.99 45.99h0M626.77 48.03h0M626.17 50.07h0M626.1 52.12h0M626.91 54.16h0M626.17 56.2h0M632.87 58.24h0M637.96 60.28h0M643.63 62.32h0M649.79 64.37h0M655.22 66.41h0M661.24 68.45h0M666.48 70.49h0M673.11 72.53h0M678.13 74.57h0M684.46 76.61h0M689.33 78.66h0M695.81 80.7h0M701.72 82.74h0M706.7 84.78h0M711.95 86.82h0M718.05 88.86h0M724.04 90.91h0M729.21 92.95h0M735.27 94.99h0M740.4 97.03h0M744.93 99.07h0M749.33 101.11h0M753.06 103.16h0M757.46 105.2h0M760.88 107.24h0M765.85 109.28h0M769.12 111.32h0M774.21 113.36h0M778.44 115.41h0M782.52 117.45h0M786.19 119.49h0M790.07 121.53h0M792.52 123.57h0M795.4 125.61h0M797.5 127.65h0M800.44 129.7h0M801.87 131.74h0M804.78 133.78h0M807.68 135.82h0M809.82 137.86h0M812.21 139.9h0M814.14 141.95h0M816.42 143.99h0M818.8 146.03h0M821.75 148.07h0M823.9 150.11h0M825.35 152.15h0M828.36 154.2h0M829.46 156.24h0M832.29 158.28h0M834.87 160.32h0M836.24 162.36h0M838.71 164.4h0M840.1 166.45h0M841.09 168.49h0M843.14 170.53h0M844.98 172.57h0M846.43 174.61h0M848.72 176.65h0M849.72 178.69h0M852.14 180.74h0M853.24 182.78h0M854.05 184.82h0M855.73 186.86h0M856.27 188.9h0M857.92 190.94h0M859.31 192.99h0M860.19 195.03h0M861.15 197.07h0M861.77 199.11h0M863.49 201.15h0M864.14 203.19h0M865.58 205.24h0M865.76 207.28h0M867.09 209.32h0M867.63 211.36h0M868.47 213.4h0M869.63 215.44h0M869.85 217.49h0M870.68 219.53h0M872.43 221.57h0M872.53 223.61h0M873.47 225.65h0M873.83 227.69h0M873.69 229.73h0M873.62 231.78h0M873.88 233.82h0M875.09 235.86h0M874.44 237.9h0M875.16 239.94h0M875.47 241.98h0M875.22 244.03h0M875.88 246.07h0M875.75 248.11h0M876.41 250.15h0M876.58 252.19h0M876.59 254.23h0M877.47 256.28h0M878.8 258.32h0M879.63 260.36h0M880.6 262.4h0M881.8 264.44h0M883.62 266.48h0M884.24 268.53h0M885.77 270.57h0M885.79 272.61h0M887.98 274.65h0M888.75 276.69h0M890.44 278.73h0M891.52 280.77h0M893 282.82h0M893.81 284.86h0M895.8 286.9h0M896.46 288.94h0M897.98 290.98h0M899.1 293.02h0M900.94 295.07h0M902.01 297.11h0M902.67 299.15h0M904.32 301.19h0M904.3 303.23h0M905.84 305.27h0M906.38 307.32h0M907.77 309.36h0M908.96 311.4h0M909.84 313.44h0M910.02 315.48h0M910.48 317.52h0M911.16 319.57h0M911.88 321.61h0M911.02 323.65h0M912 325.69h0M912.37 327.73h0M912.81 329.77h0M912.53 331.81h0M913.38 333.86h0M913.24 335.9h0M913.36 337.94h0M911.82 339.98h0M912.48 342.02h0M911.37 344.06h0M910.87 346.11h0M909.97 348.15h0M909.61 350.19h0M909.63 352.23h0M908.97 354.27h0M907.71 356.31h0M907.8 358.36h0M907.42 360.4h0M907.36 362.44h0M907.27 364.48h0M907.31 366.52h0M908.01 368.56h0M907.97 370.61h0M907.69 372.65h0M907.31 374.69h0M907.34 376.73h0M907.13 378.77h0M906.76 380.81h0M906.06 382.85h0M905.42 384.9h0M904.42 386.94h0M904.47 388.98h0M904.28 391.02h0M903.77 393.06h0M902.5 395.1h0M902.82 397.15h0M901.26 399.19h0M899.94 401.23h0M899.83 403.27h0M898.42 405.31h0M897.47 407.35h0M895.72 409.4h0M895.54 411.44h0M894.67 413.48h0M893.64 415.52h0M892.45 417.56h0M892.16 419.6h0M891.69 421.65h0M890.99 423.69h0M890.32 425.73h0M890.29 427.77h0M889.71 429.81h0M889.26 431.85h0M888 433.89h0M888.21 435.94h0M887.09 437.98h0M886.67 440.02h0M884.74 442.06h0M884.82 444.1h0M883.65 446.14h0M882.04 448.19h0M881.77 450.23h0M880.06 452.27h0M879.03 454.31h0M878.35 456.35h0M877.1 458.39h0M876.33 460.44h0M875.76 462.48h0M874.43 464.52h0M873.41 466.56h0M871.99 468.6h0M871.43 470.64h0M870.43 472.69h0M869.29 474.73h0M868.62 476.77h0M867.51 478.81h0M865.94 480.85h0M864.51 482.89h0M864.15 484.93h0M863.35 486.98h0M861.74 489.02h0M861.04 491.06h0M860.33 493.1h0M859.29 495.14h0M857.36 497.18h0M856.96 499.23h0M855.55 501.27h0M854.82 503.31h0M854.8 505.35h0M853.47 507.39h0M852.81 509.43h0M851.74 511.48h0M850.67 513.52h0M849.59 515.56h0M848.8 517.6h0M848.42 519.64h0M847 521.68h0M845.43 523.73h0M843.99 525.77h0M842.99 527.81h0M842.26 529.85h0M840.69 531.89h0M839.67 533.93h0M838.54 535.97h0M836.41 538.02h0M835.75 540.06h0M833.65 542.1h0M833.25 544.14h0M831.15 546.18h0M829.92 548.22h0M829.42 550.27h0M827.39 552.31h0M825.92 554.35h0M825.43 556.39h0M823.82 558.43h0M822.91 560.47h0M821.07 562.52h0M819.99 564.56h0M819.35 566.6h0M817.65 568.64h0M817.09 570.68h0M815.01 572.72h0M814.68 574.77h0M812.81 576.81h0M812.19 578.85h0M810.51 580.89h0M810 582.93h0M810.21 584.97h0M808.92 587.01h0M808.64 589.06h0M807.27 591.1h0M806.7 593.14h0M805.69 595.18h0M805.51 597.22h0M805.16 599.26h0M804 601.31h0M803.07 603.35h0M802.95 605.39h0M802.11 607.43h0M801.01 609.47h0M799.45 611.51h0M799.23 613.56h0M798.12 615.6h0M797.81 617.64h0M796.15 619.68h0M795.55 621.72h0M794.53 623.76h0M793.23 625.81h0M792.4 627.85h0M791.57 629.89h0M790.82 631.93h0M789.86 633.97h0M789.25 636.01h0M789.54 638.05h0M788.02 640.1h0M788.56 642.14h0M788.01 644.18h0M787.52 646.22h0M787.07 648.26h0M787.15 650.3h0M787.06 652.35h0M786.64 654.39h0M786.46 656.43h0M785.42 658.47h0M785.61 660.51h0M785.25 662.55h0M786.11 664.6h0M785.93 666.64h0M784.94 668.68h0M785.38 670.72h0M785.28 672.76h0M784.56 674.8h0M784.89 676.85h0M785.22 678.89h0M784.98 680.93h0M784.43 682.97h0M784.6 685.01h0M783.62 687.05h0M783.5 689.09h0M782.91 691.14h0M783.12 693.18h0M782.26 695.22h0M781.95 697.26h0M781.29 699.3h0M780.42 701.34h0M780.57 703.39h0M779.71 705.43h0M779.11 707.47h0M778.03 709.51h0M777.29 711.55h0M777.17 713.59h0M776.84 715.64h0M776.17 717.68h0M774.99 719.72h0M774.1 721.76h0M773.91 723.8h0M773.7 725.84h0M772.2 727.89h0M772.26 729.93h0M770.96 731.97h0M770.51 734.01h0M769.38 736.05h0M768.87 738.09h0M768.17 740.13h0M768.1 742.18h0M767.32 744.22h0M765.64 746.26h0M765.05 748.3h0M765.09 750.34h0M763.49 752.38h0M762.93 754.43h0M762.39 756.47h0M761.31 758.51h0M760.81 760.55h0M760.3 762.59h0M759.62 764.63h0M759.64 766.68h0M758.13 768.72h0M757.37 770.76h0M757.53 772.8h0M756.28 774.84h0M756.03 776.88h0M755.07 778.93h0M754.5 780.97h0M753.19 783.01h0M752.23 785.05h0M752.17 787.09h0M751.02 789.13h0M750.31 791.17h0M749.61 793.22h0M748.85 795.26h0M747.41 797.3h0M746.64 799.34h0M746.41 801.38h0M745.04 803.42h0M743.84 805.47h0M743.33 807.51h0M741.96 809.55h0M741.65 811.59h0M739.85 813.63h0M739.86 815.67h0M738.63 817.72h0M737.46 819.76h0M737.25 821.8h0M735.55 823.84h0M734.63 825.88h0M733.54 827.92h0M733.25 829.97h0M732.64 832.01h0M731.71 834.05h0M730.56 836.09h0M627.5 19.45h0M627.95 21.49h0M628.37 23.53h0M628 25.57h0M628.09 27.62h0M628.21 29.66h0M627.77 31.7h0M628.43 33.74h0M628.2 35.78h0M627.72 37.82h0M627.78 39.87h0M628.26 41.91h0M627.7 43.95h0M627.49 45.99h0M628.29 48.03h0M627.86 50.07h0M627.83 52.12h0M627.98 54.16h0M628.24 56.2h0M633.02 58.24h0M638.98 60.28h0M644.36 62.32h0M650.49 64.37h0M656.32 66.41h0M662.46 68.45h0M667.97 70.49h0M673.6 72.53h0M679.13 74.57h0M685.09 76.61h0M690.49 78.66h0M696.94 80.7h0M702.65 82.74h0M708.49 84.78h0M713.46 86.82h0M719.89 88.86h0M725.8 90.91h0M731.31 92.95h0M737.61 94.99h0M743.44 97.03h0M747.48 99.07h0M751.8 101.11h0M755.82 103.16h0M760.32 105.2h0M763.65 107.24h0M768.55 109.28h0M772.76 111.32h0M776.86 113.36h0M780.65 115.41h0M784.59 117.45h0M789.41 119.49h0M793.84 121.53h0M795.6 123.57h0M797.94 125.61h0M800.36 127.65h0M802.59 129.7h0M805.67 131.74h0M808.39 133.78h0M810.54 135.82h0M812.35 137.86h0M815.09 139.9h0M816.66 141.95h0M819.6 143.99h0M820.99 146.03h0M822.62 148.07h0M825.39 150.11h0M826.82 152.15h0M829 154.2h0M830.77 156.24h0M833.28 158.28h0M835.45 160.32h0M837.81 162.36h0M838.58 164.4h0M841.22 166.45h0M842.06 168.49h0M843.92 170.53h0M846.13 172.57h0M847.52 174.61h0M849.25 176.65h0M851.29 178.69h0M852.62 180.74h0M855.06 182.78h0M855.51 184.82h0M857.42 186.86h0M858.54 188.9h0M859.36 190.94h0M859.9 192.99h0M861.93 195.03h0M862.16 197.07h0M863.86 199.11h0M864.88 201.15h0M865.56 203.19h0M867.04 205.24h0M867.95 207.28h0M868.57 209.32h0M869.13 211.36h0M870.04 213.4h0M870.9 215.44h0M871.22 217.49h0M872.75 219.53h0M873.65 221.57h0M874.16 223.61h0M874.61 225.65h0M874.1 227.69h0M875.13 229.73h0M874.27 231.78h0M875 233.82h0M874.78 235.86h0M875.35 237.9h0M875.8 239.94h0M876.01 241.98h0M875.88 244.03h0M875.91 246.07h0M875.9 248.11h0M876.33 250.15h0M876.37 252.19h0M876.45 254.23h0M878.21 256.28h0M879.08 258.32h0M880.13 260.36h0M880.99 262.4h0M882.77 264.44h0M883.34 266.48h0M884.61 268.53h0M886.16 270.57h0M887.52 272.61h0M889.05 274.65h0M890.23 276.69h0M891.93 278.73h0M893.34 280.77h0M894.56 282.82h0M896 284.86h0M896.65 286.9h0M898.26 288.94h0M899.46 290.98h0M901.9 293.02h0M903.15 295.07h0M903.95 297.11h0M904.41 299.15h0M905.41 301.19h0M906.07 303.23h0M907.52 305.27h0M908.82 307.32h0M908.87 309.36h0M909.43 311.4h0M910.46 313.44h0M911.54 315.48h0M912.54 317.52h0M912.77 319.57h0M912.67 321.61h0M912.57 323.65h0M912.89 325.69h0M913.25 327.73h0M914.29 329.77h0M914.23 331.81h0M915.15 333.86h0M915.36 335.9h0M914.88 337.94h0M914.17 339.98h0M914.27 342.02h0M913.15 344.06h0M912.87 346.11h0M913.18 348.15h0M912.92 350.19h0M912.41 352.23h0M912.35 354.27h0M912.01 356.31h0M913.13 358.36h0M912.95 360.4h0M913.29 362.44h0M913.38 364.48h0M912.75 366.52h0M913.12 368.56h0M912.69 370.61h0M913.16 372.65h0M913.13 374.69h0M912.18 376.73h0M911.55 378.77h0M911.29 380.81h0M911.2 382.85h0M910.41 384.9h0M909.4 386.94h0M909.79 388.98h0M909.13 391.02h0M908.12 393.06h0M906.97 395.1h0M907.32 397.15h0M905.86 399.19h0M904.25 401.23h0M903.49 403.27h0M902.76 405.31h0M901.98 407.35h0M900.38 409.4h0M899.44 411.44h0M897.78 413.48h0M896.68 415.52h0M896.32 417.56h0M894.91 419.6h0M893.81 421.65h0M893.64 423.69h0M892.34 425.73h0M891.7 427.77h0M891.3 429.81h0M890.77 431.85h0M890.15 433.89h0M889.57 435.94h0M888.6 437.98h0M887.3 440.02h0M887.26 442.06h0M885.63 444.1h0M885.32 446.14h0M884.44 448.19h0M883.98 450.23h0M883.25 452.27h0M881.91 454.31h0M881.63 456.35h0M880.92 458.39h0M879.76 460.44h0M878.46 462.48h0M878.47 464.52h0M877.18 466.56h0M875.6 468.6h0M874.87 470.64h0M874.81 472.69h0M872.92 474.73h0M872.13 476.77h0M871.59 478.81h0M870.54 480.85h0M869.2 482.89h0M868.2 484.93h0M866.2 486.98h0M865.09 489.02h0M864.96 491.06h0M863.54 493.1h0M861.39 495.14h0M860.16 497.18h0M859.13 499.23h0M858.83 501.27h0M856.84 503.31h0M856.25 505.35h0M855.42 507.39h0M853.93 509.43h0M853.14 511.48h0M851.23 513.52h0M849.99 515.56h0M848.73 517.6h0M848.53 519.64h0M846.54 521.68h0M846.38 523.73h0M844.89 525.77h0M843.11 527.81h0M842.72 529.85h0M840.83 531.89h0M840.15 533.93h0M838.59 535.97h0M838.35 538.02h0M837.43 540.06h0M836.44 542.1h0M834.32 544.14h0M834.33 546.18h0M832.98 548.22h0M832.3 550.27h0M830.91 552.31h0M830.05 554.35h0M829.01 556.39h0M828.24 558.43h0M826.34 560.47h0M825.27 562.52h0M824.8 564.56h0M823.41 566.6h0M822.44 568.64h0M820.85 570.68h0M820.6 572.72h0M818.57 574.77h0M818.35 576.81h0M817.13 578.85h0M815.49 580.89h0M814.17 582.93h0M813.88 584.97h0M812.41 587.01h0M811.73 589.06h0M810.39 591.1h0M810.47 593.14h0M809 595.18h0M807.82 597.22h0M806.57 599.26h0M806.4 601.31h0M805.63 603.35h0M804.73 605.39h0M802.96 607.43h0M802.43 609.47h0M801.54 611.51h0M801.3 613.56h0M799.8 615.6h0M799.63 617.64h0M799.38 619.68h0M798.47 621.72h0M796.92 623.76h0M796.4 625.81h0M795.87 627.85h0M796.02 629.89h0M795.38 631.93h0M795.21 633.97h0M795.05 636.01h0M794.92 638.05h0M795.07 640.1h0M795.02 642.14h0M795.23 644.18h0M794.88 646.22h0M794.81 648.26h0M794.78 650.3h0M794.49 652.35h0M794.12 654.39h0M793.05 656.43h0M793.55 658.47h0M793.45 660.51h0M792.62 662.55h0M792.8 664.6h0M791.59 666.64h0M792.11 668.68h0M791.1 670.72h0M790.98 672.76h0M790 674.8h0M789.61 676.85h0M789.21 678.89h0M788.72 680.93h0M787.99 682.97h0M787.75 685.01h0M787.75 687.05h0M786.71 689.09h0M786.4 691.14h0M785.56 693.18h0M785.03 695.22h0M784.61 697.26h0M783.73 699.3h0M782.57 701.34h0M781.98 703.39h0M781.62 705.43h0M780.62 707.47h0M780.35 709.51h0M780.63 711.55h0M780.18 713.59h0M778.99 715.64h0M779.05 717.68h0M778.59 719.72h0M778.28 721.76h0M777.71 723.8h0M776.95 725.84h0M775.99 727.89h0M776.4 729.93h0M775.33 731.97h0M775.24 734.01h0M774.22 736.05h0M773.71 738.09h0M773.49 740.13h0M771.78 742.18h0M771.46 744.22h0M770.82 746.26h0M769.88 748.3h0M769.54 750.34h0M768.07 752.38h0M767.82 754.43h0M766.67 756.47h0M766.12 758.51h0M764.16 760.55h0M763.39 762.59h0M762.54 764.63h0M762.35 766.68h0M760.33 768.72h0M759.67 770.76h0M759.27 772.8h0M758.64 774.84h0M756.71 776.88h0M756.08 778.93h0M755.43 780.97h0M754.51 783.01h0M753.65 785.05h0M752.74 787.09h0M751.24 789.13h0M750.36 791.17h0M749.22 793.22h0M749.15 795.26h0M747.73 797.3h0M746.96 799.34h0M746.99 801.38h0M745.8 803.42h0M744.95 805.47h0M744.25 807.51h0M743.4 809.55h0M742.75 811.59h0M741.52 813.63h0M740.48 815.67h0M739.72 817.72h0M738.9 819.76h0M738.56 821.8h0M737.53 823.84h0M736.73 825.88h0M736.41 827.92h0M736.2 829.97h0M735.06 832.01h0M733.76 834.05h0M733.54 836.09h0M629.3 19.45h0M629.47 21.49h0M629.84 23.53h0M629.58 25.57h0M629.94 27.62h0M629.2 29.66h0M630.21 31.7h0M629.51 33.74h0M630.09 35.78h0M629.12 37.82h0M630.06 39.87h0M629.32 41.91h0M630.05 43.95h0M629.95 45.99h0M629.76 48.03h0M629.24 50.07h0M628.88 52.12h0M629.05 54.16h0M629.86 56.2h0M634.69 58.24h0M641.01 60.28h0M646.64 62.32h0M652.45 64.37h0M657.6 66.41h0M663.28 68.45h0M668.95 70.49h0M675.74 72.53h0M680.75 74.57h0M686.82 76.61h0M692.46 78.66h0M697.8 80.7h0M703.36 82.74h0M709.07 84.78h0M715.84 86.82h0M720.75 88.86h0M727.54 90.91h0M732.6 92.95h0M738.83 94.99h0M743.92 97.03h0M748.88 99.07h0M752.42 101.11h0M756.74 103.16h0M761.11 105.2h0M764.79 107.24h0M769.13 109.28h0M773.95 111.32h0M777.5 113.36h0M781.77 115.41h0M786.38 117.45h0M789.86 119.49h0M793.95 121.53h0M796.39 123.57h0M798.98 125.61h0M801.33 127.65h0M804.03 129.7h0M806.17 131.74h0M808.99 133.78h0M810.33 135.82h0M813.38 137.86h0M815.89 139.9h0M817.46 141.95h0M819.19 143.99h0M821.65 146.03h0M823.24 148.07h0M825.63 150.11h0M827.92 152.15h0M829.17 154.2h0M831.2 156.24h0M833.64 158.28h0M835.3 160.32h0M837.41 162.36h0M839.32 164.4h0M840.61 166.45h0M842.24 168.49h0M844.3 170.53h0M846.15 172.57h0M848.45 174.61h0M849.73 176.65h0M850.9 178.69h0M852.84 180.74h0M855.23 182.78h0M856.17 184.82h0M857.71 186.86h0M858.98 188.9h0M860.02 190.94h0M860.28 192.99h0M862.44 195.03h0M863.08 197.07h0M863.88 199.11h0M864.93 201.15h0M866.89 203.19h0M866.94 205.24h0M867.62 207.28h0M868.66 209.32h0M870.27 211.36h0M870.52 213.4h0M871.65 215.44h0M871.67 217.49h0M872.92 219.53h0M873.54 221.57h0M874.19 223.61h0M875.07 225.65h0M875.02 227.69h0M875.05 229.73h0M876.4 231.78h0M876.11 233.82h0M876.06 235.86h0M876.18 237.9h0M877.26 239.94h0M877.41 241.98h0M877.14 244.03h0M878 246.07h0M878.65 248.11h0M878.74 250.15h0M878.73 252.19h0M879.41 254.23h0M880.66 256.28h0M881.85 258.32h0M882.38 260.36h0M884.33 262.4h0M885.66 264.44h0M886.58 266.48h0M887.89 268.53h0M888.48 270.57h0M890.29 272.61h0M890.6 274.65h0M892.1 276.69h0M893.99 278.73h0M895.8 280.77h0M896.25 282.82h0M897.84 284.86h0M899.04 286.9h0M900.94 288.94h0M901.99 290.98h0M903.44 293.02h0M905.49 295.07h0M906.17 297.11h0M907.46 299.15h0M907.67 301.19h0M908.84 303.23h0M908.88 305.27h0M910.83 307.32h0M910.79 309.36h0M911.9 311.4h0M912.75 313.44h0M914.08 315.48h0M914.17 317.52h0M915.4 319.57h0M915.56 321.61h0M915.67 323.65h0M917 325.69h0M916.81 327.73h0M918.33 329.77h0M918.23 331.81h0M918.49 333.86h0M919.92 335.9h0M919.18 337.94h0M919.32 339.98h0M919.28 342.02h0M919.71 344.06h0M918.99 346.11h0M919.48 348.15h0M919.32 350.19h0M920.23 352.23h0M919.37 354.27h0M920.26 356.31h0M919.47 358.36h0M919.34 360.4h0M919.1 362.44h0M918.92 364.48h0M917.87 366.52h0M917.62 368.56h0M917.09 370.61h0M917.69 372.65h0M916.3 374.69h0M915.85 376.73h0M915.64 378.77h0M915.03 380.81h0M914.69 382.85h0M912.98 384.9h0M912.46 386.94h0M911.63 388.98h0M911.36 391.02h0M910.42 393.06h0M909.58 395.1h0M909.35 397.15h0M908.06 399.19h0M907.26 401.23h0M906.31 403.27h0M904.39 405.31h0M904.09 407.35h0M902.31 409.4h0M900.73 411.44h0M900.59 413.48h0M898.43 415.52h0M897.12 417.56h0M896.5 419.6h0M895.58 421.65h0M895.49 423.69h0M894.5 425.73h0M893.1 427.77h0M892.41 429.81h0M891.98 431.85h0M891.15 433.89h0M890.21 435.94h0M889.3 437.98h0M887.93 440.02h0M887.2 442.06h0M886.84 444.1h0M885.9 446.14h0M885.32 448.19h0M884.62 450.23h0M883.89 452.27h0M882.17 454.31h0M881.25 456.35h0M881.46 458.39h0M880.16 460.44h0M878.78 462.48h0M878.49 464.52h0M877.05 466.56h0M876.11 468.6h0M875.34 470.64h0M874.59 472.69h0M873.83 474.73h0M872.14 476.77h0M871.97 478.81h0M870.79 480.85h0M869.55 482.89h0M868.72 484.93h0M867.78 486.98h0M865.73 489.02h0M865.17 491.06h0M864.28 493.1h0M863.18 495.14h0M861.95 497.18h0M860.23 499.23h0M860.12 501.27h0M858.88 503.31h0M857.17 505.35h0M856.37 507.39h0M855.98 509.43h0M854.05 511.48h0M853.28 513.52h0M852.95 515.56h0M851.89 517.6h0M850.13 519.64h0M849.65 521.68h0M848.14 523.73h0M847.47 525.77h0M846.58 527.81h0M844.83 529.85h0M843.98 531.89h0M843.03 533.93h0M842.17 535.97h0M841 538.02h0M840.24 540.06h0M839.69 542.1h0M838.84 544.14h0M837.58 546.18h0M837.34 548.22h0M836.93 550.27h0M835.65 552.31h0M834.54 554.35h0M834.11 556.39h0M832.93 558.43h0M831.75 560.47h0M831.23 562.52h0M829.77 564.56h0M829.64 566.6h0M828.08 568.64h0M827.36 570.68h0M827.08 572.72h0M825.83 574.77h0M824.88 576.81h0M823.58 578.85h0M822.49 580.89h0M821.82 582.93h0M821.36 584.97h0M819.64 587.01h0M819.52 589.06h0M818.14 591.1h0M817.25 593.14h0M817.1 595.18h0M815.99 597.22h0M815.45 599.26h0M814.65 601.31h0M813.48 603.35h0M812.2 605.39h0M811.17 607.43h0M811.01 609.47h0M810.48 611.51h0M809.19 613.56h0M808.23 615.6h0M807.46 617.64h0M806.99 619.68h0M806.97 621.72h0M805.51 623.76h0M805.18 625.81h0M804.64 627.85h0M804.62 629.89h0M804.4 631.93h0M802.95 633.97h0M802.76 636.01h0M803.45 638.05h0M803.19 640.1h0M801.88 642.14h0M801.77 644.18h0M801.65 646.22h0M801.03 648.26h0M800.75 650.3h0M800.4 652.35h0M799.69 654.39h0M798.98 656.43h0M798.51 658.47h0M798.09 660.51h0M797.45 662.55h0M797.52 664.6h0M797.02 666.64h0M795.89 668.68h0M795.9 670.72h0M795.18 672.76h0M794.07 674.8h0M793.6 676.85h0M792.58 678.89h0M792.81 680.93h0M791.71 682.97h0M790.33 685.01h0M789.68 687.05h0M789.56 689.09h0M788.42 691.14h0M788.07 693.18h0M786.74 695.22h0M786.69 697.26h0M785.98 699.3h0M784.43 701.34h0M784.34 703.39h0M783.2 705.43h0M783.17 707.47h0M782.66 709.51h0M782.03 711.55h0M780.76 713.59h0M780.02 715.64h0M780.14 717.68h0M779.47 719.72h0M778.41 721.76h0M777.95 723.8h0M777.89 725.84h0M776.8 727.89h0M776.91 729.93h0M775.92 731.97h0M775.42 734.01h0M774.86 736.05h0M774.23 738.09h0M773.69 740.13h0M772.07 742.18h0M772.11 744.22h0M770.7 746.26h0M769.96 748.3h0M769.54 750.34h0M768.76 752.38h0M767.8 754.43h0M767.27 756.47h0M765.54 758.51h0M764.77 760.55h0M764.28 762.59h0M762.88 764.63h0M761.83 766.68h0M760.99 768.72h0M760.71 770.76h0M759.85 772.8h0M758.79 774.84h0M758.16 776.88h0M757.04 778.93h0M755.55 780.97h0M754.66 783.01h0M754.27 785.05h0M752.6 787.09h0M752.41 789.13h0M750.94 791.17h0M750.07 793.22h0M749.82 795.26h0M748.59 797.3h0M748.76 799.34h0M747.93 801.38h0M746.69 803.42h0M745.64 805.47h0M744.83 807.51h0M744.59 809.55h0M743.9 811.59h0M743.02 813.63h0M742.76 815.67h0M741.85 817.72h0M741.46 819.76h0M739.97 821.8h0M739.24 823.84h0M738.93 825.88h0M738.34 827.92h0M737.35 829.97h0M737.13 832.01h0M735.87 834.05h0M735.24 836.09h0M630.03 19.45h0M629.52 21.49h0M629.59 23.53h0M630.15 25.57h0M630.15 27.62h0M629.77 29.66h0M629.15 31.7h0M629.58 33.74h0M629.81 35.78h0M629.39 37.82h0M629.12 39.87h0M630.27 41.91h0M630.21 43.95h0M629.3 45.99h0M629.72 48.03h0M629.93 50.07h0M629.57 52.12h0M629.31 54.16h0M630.14 56.2h0M635.96 58.24h0M641.36 60.28h0M646.73 62.32h0M652.88 64.37h0M658.3 66.41h0M665.11 68.45h0M669.78 70.49h0M675.83 72.53h0M682.15 74.57h0M687.14 76.61h0M692.84 78.66h0M698.53 80.7h0M704.37 82.74h0M710.53 84.78h0M716.6 86.82h0M721.52 88.86h0M727.24 90.91h0M733.66 92.95h0M738.96 94.99h0M744.57 97.03h0M748.41 99.07h0M752.65 101.11h0M757.63 103.16h0M760.72 105.2h0M765.02 107.24h0M769.73 109.28h0M774.06 111.32h0M778.23 113.36h0M781.88 115.41h0M786.64 117.45h0M790.41 119.49h0M794.23 121.53h0M796.94 123.57h0M799.76 125.61h0M802.31 127.65h0M804.12 129.7h0M806.75 131.74h0M810.23 133.78h0M811.78 135.82h0M815.2 137.86h0M817.21 139.9h0M819.68 141.95h0M821.9 143.99h0M824.37 146.03h0M827.19 148.07h0M828.37 150.11h0M831.4 152.15h0M832.92 154.2h0M834.9 156.24h0M837.73 158.28h0M839.38 160.32h0M841.31 162.36h0M843.22 164.4h0M845.31 166.45h0M846.96 168.49h0M848.21 170.53h0M849.13 172.57h0M851.62 174.61h0M853.01 176.65h0M854.95 178.69h0M856.59 180.74h0M857.43 182.78h0M859.05 184.82h0M860 186.86h0M860.34 188.9h0M861.47 190.94h0M862.49 192.99h0M863.49 195.03h0M864.55 197.07h0M865.26 199.11h0M866.44 201.15h0M868.3 203.19h0M868.53 205.24h0M869.63 207.28h0M870.77 209.32h0M871.45 211.36h0M871.69 213.4h0M873.35 215.44h0M874.07 217.49h0M875.15 219.53h0M875.69 221.57h0M876.58 223.61h0M877.11 225.65h0M876.9 227.69h0M877.79 229.73h0M877.86 231.78h0M878.81 233.82h0M878.46 235.86h0M879.45 237.9h0M879.7 239.94h0M880.78 241.98h0M880.71 244.03h0M881.81 246.07h0M882.32 248.11h0M882.85 250.15h0M882.47 252.19h0M883.93 254.23h0M884.69 256.28h0M885.61 258.32h0M886.58 260.36h0M886.86 262.4h0M888.84 264.44h0M889.46 266.48h0M890.28 268.53h0M891.05 270.57h0M892.5 272.61h0M893.42 274.65h0M894.75 276.69h0M895.19 278.73h0M896.58 280.77h0M897.72 282.82h0M898.8 284.86h0M900.34 286.9h0M901.25 288.94h0M903.46 290.98h0M904.07 293.02h0M905.18 295.07h0M905.99 297.11h0M907.61 299.15h0M907.79 301.19h0M908.93 303.23h0M909.69 305.27h0M911.01 307.32h0M912.02 309.36h0M912.09 311.4h0M913.31 313.44h0M914.46 315.48h0M914.72 317.52h0M916 319.57h0M916.57 321.61h0M916.83 323.65h0M918.27 325.69h0M918.68 327.73h0M918.87 329.77h0M920.2 331.81h0M921.22 333.86h0M921.57 335.9h0M921.79 337.94h0M921.95 339.98h0M922.72 342.02h0M922.64 344.06h0M922.24 346.11h0M922.53 348.15h0M922.6 350.19h0M923.35 352.23h0M923.04 354.27h0M922.32 356.31h0M922.44 358.36h0M920.58 360.4h0M920.47 362.44h0M919.53 364.48h0M919.15 366.52h0M918.11 368.56h0M917.05 370.61h0M916.95 372.65h0M916.72 374.69h0M916.12 376.73h0M914.82 378.77h0M913.91 380.81h0M913.8 382.85h0M913.15 384.9h0M911.76 386.94h0M911.87 388.98h0M911.34 391.02h0M910.01 393.06h0M909.3 395.1h0M909.06 397.15h0M908.49 399.19h0M906.8 401.23h0M906.12 403.27h0M905.36 405.31h0M905.07 407.35h0M903.65 409.4h0M903.33 411.44h0M902.52 413.48h0M901.97 415.52h0M900.58 417.56h0M900.84 419.6h0M900.16 421.65h0M898.87 423.69h0M898.37 425.73h0M896.83 427.77h0M896.88 429.81h0M895.62 431.85h0M895.02 433.89h0M894.29 435.94h0M892.81 437.98h0M892.62 440.02h0M890.9 442.06h0M889.8 444.1h0M889.5 446.14h0M889.09 448.19h0M888.2 450.23h0M887.38 452.27h0M885.97 454.31h0M885.6 456.35h0M884.28 458.39h0M882.74 460.44h0M882.31 462.48h0M881.51 464.52h0M880.06 466.56h0M879.3 468.6h0M877.92 470.64h0M877 472.69h0M876.25 474.73h0M875.45 476.77h0M874.5 478.81h0M873.15 480.85h0M872.16 482.89h0M871.7 484.93h0M871.29 486.98h0M870.49 489.02h0M869.04 491.06h0M868.23 493.1h0M867.72 495.14h0M866.49 497.18h0M866.18 499.23h0M865.82 501.27h0M864.24 503.31h0M863.8 505.35h0M863.06 507.39h0M862.2 509.43h0M861.25 511.48h0M860.35 513.52h0M858.93 515.56h0M858.71 517.6h0M857.91 519.64h0M855.86 521.68h0M855.93 523.73h0M854.33 525.77h0M852.9 527.81h0M851.88 529.85h0M851.76 531.89h0M850.61 533.93h0M848.97 535.97h0M848.35 538.02h0M847.42 540.06h0M846.65 542.1h0M844.65 544.14h0M843.97 546.18h0M842.15 548.22h0M840.91 550.27h0M839.69 552.31h0M838.83 554.35h0M837.93 556.39h0M836.43 558.43h0M835.15 560.47h0M834.13 562.52h0M832.9 564.56h0M831.98 566.6h0M831.1 568.64h0M830.32 570.68h0M828.94 572.72h0M828.31 574.77h0M827.3 576.81h0M826.98 578.85h0M825.44 580.89h0M825.41 582.93h0M824.27 584.97h0M823.36 587.01h0M823.24 589.06h0M822.11 591.1h0M821.53 593.14h0M820.79 595.18h0M820.9 597.22h0M820.56 599.26h0M819.19 601.31h0M818.42 603.35h0M817.76 605.39h0M816.9 607.43h0M816.51 609.47h0M815.32 611.51h0M814.17 613.56h0M814.14 615.6h0M812.88 617.64h0M811.27 619.68h0M811.33 621.72h0M810.21 623.76h0M808.78 625.81h0M808.11 627.85h0M807.46 629.89h0M805.84 631.93h0M805.08 633.97h0M804.15 636.01h0M803.7 638.05h0M803.11 640.1h0M802.5 642.14h0M802.09 644.18h0M800.49 646.22h0M800.15 648.26h0M800.16 650.3h0M799.55 652.35h0M798.79 654.39h0M798.41 656.43h0M797.55 658.47h0M797.83 660.51h0M796.94 662.55h0M796.36 664.6h0M795.71 666.64h0M795.25 668.68h0M795.81 670.72h0M795.33 672.76h0M794.02 674.8h0M794 676.85h0M793.81 678.89h0M793.44 680.93h0M792.87 682.97h0M793.01 685.01h0M791.83 687.05h0M791.52 689.09h0M791.46 691.14h0M790.55 693.18h0M789.79 695.22h0M789.03 697.26h0M788.49 699.3h0M788.14 701.34h0M787.72 703.39h0M786.45 705.43h0M785.92 707.47h0M785.28 709.51h0M784.58 711.55h0M784.56 713.59h0M783.43 715.64h0M782.43 717.68h0M781.81 719.72h0M781.72 721.76h0M780.26 723.8h0M780.23 725.84h0M778.77 727.89h0M778.34 729.93h0M777.55 731.97h0M777.83 734.01h0M776.21 736.05h0M775.5 738.09h0M774.5 740.13h0M773.97 742.18h0M773.78 744.22h0M773.02 746.26h0M772.52 748.3h0M771.85 750.34h0M770.68 752.38h0M770.43 754.43h0M768.75 756.47h0M769.08 758.51h0M767.83 760.55h0M766.87 762.59h0M766.87 764.63h0M766.33 766.68h0M765.09 768.72h0M764.06 770.76h0M764.3 772.8h0M763.45 774.84h0M762.55 776.88h0M762.28 778.93h0M760.4 780.97h0M759.66 783.01h0M758.95 785.05h0M757.99 787.09h0M757.97 789.13h0M757.04 791.17h0M755.57 793.22h0M754.79 795.26h0M753.98 797.3h0M753.65 799.34h0M752.86 801.38h0M752.32 803.42h0M750.68 805.47h0M750.52 807.51h0M748.95 809.55h0M747.99 811.59h0M746.92 813.63h0M745.99 815.67h0M745.98 817.72h0M745.12 819.76h0M743.89 821.8h0M742.38 823.84h0M741.52 825.88h0M740.64 827.92h0M740.03 829.97h0M739.67 832.01h0M738.04 834.05h0M737.79 836.09h0M670.2 58.18h0M660.5 60.18h0M677.5 62.58h0M683.1 64.18h0M688 64.18h0M682.3 68.18h0M688.8 70.68h0M694.4 72.28h0M702.5 65.78h0M709 68.18h0M714.6 64.98h0M717 71.48h0M723.5 73.08h0M728.3 77.07h0M733.2 77.87h0M735.6 82.77h0M738.8 86.77h0M627.4 80.37h0M636.3 80.37h0M644.4 81.97h0M652.5 84.37h0M653.3 86.77h0M665.4 85.17h0M678.3 86.77h0M697.7 91.67h0M708.2 91.67h0M736.4 98.86h0M697.7 88.97h0M626 75.98h0M625 71.98h0M625 67.98h0M626 63.98h0M626 59.98h0M626 55.98h0M627 51.99h0M663 61.98h0M667 63.98h0M672 65.98h0M676 67.98h0M680 69.98h0M684 71.98h0M690 73.98h0M696 75.98h0M702 76.97h0M708 78.97h0M714 80.97h0M720 82.97h0M726 85.97h0M731 87.97h0M737 90.97h0M742 93.97h0M700 69.98h0M706 71.98h0M712 73.98h0M718 75.98h0M724 77.97h0M730 79.97h0M742 85.97h0M746 89.97h0" stroke="#00ffff" stroke-width="7.2" stroke-linecap="round" fill="none"/>
<polyline points="627.5,29.66 630.6,50.07 666.6,70.49 726.6,90.91 781.4,111.32 810.6,131.74 834.2,152.15 852.6,172.57 864.1,192.99 872.6,213.4 876.6,233.82 882.5,254.23 894.3,274.65 907.2,295.07 913.1,315.48 915.2,335.9 915.7,356.31 909,376.73 905.8,397.15 893,417.56 886.1,437.98 877.5,458.39 867.1,478.81 856.1,499.23 846.2,519.64 835.3,540.06 825.5,560.47 820,580.89 812.4,601.31 807.3,621.72 800.1,642.14 793.2,662.55 787.4,682.97 780.2,703.39 773,723.8 765.1,744.22 757.3,764.63 749.4,785.05 741.1,805.47 734.3,825.88" stroke="#0000ff" stroke-width="2.6" fill="none" stroke-linejoin="round"/>
<path d="M627.5 29.66h0M630.6 50.07h0M666.6 70.49h0M726.6 90.91h0M781.4 111.32h0M810.6 131.74h0M834.2 152.15h0M852.6 172.57h0M864.1 192.99h0M872.6 213.4h0M876.6 233.82h0M882.5 254.23h0M894.3 274.65h0M907.2 295.07h0M913.1 315.48h0M915.2 335.9h0M915.7 356.31h0M909 376.73h0M905.8 397.15h0M893 417.56h0M886.1 437.98h0M877.5 458.39h0M867.1 478.81h0M856.1 499.23h0M846.2 519.64h0M835.3 540.06h0M825.5 560.47h0M820 580.89h0M812.4 601.31h0M807.3 621.72h0M800.1 642.14h0M793.2 662.55h0M787.4 682.97h0M780.2 703.39h0M773 723.8h0M765.1 744.22h0M757.3 764.63h0M749.4 785.05h0M741.1 805.47h0M734.3 825.88h0" stroke="#0000ff" stroke-width="12.15" stroke-linecap="round" fill="none"/>
<polyline points="613.3,19.45 613.4,23.53 613.5,27.62 613.6,31.7 613.7,35.78 613.9,39.87 614.1,43.95 614.8,50.07 618.3,60.28 627.5,70.49 679.2,80.7 718.4,90.91 747.2,101.11 762.6,111.32 777.5,121.53 810.2,141.95 850.7,162.36 894.3,182.78 914.3,203.19 927.7,223.61 948.5,274.65 913.2,325.69 840,427.77 789.1,529.85 769.2,631.93 747.3,734.01 724,836.09" stroke="#ff0000" stroke-width="2.6" fill="none" stroke-linejoin="round"/>
<path d="M613.3 19.45h0M613.4 23.53h0M613.5 27.62h0M613.6 31.7h0M613.7 35.78h0M613.9 39.87h0M614.1 43.95h0M614.8 50.07h0M618.3 60.28h0M627.5 70.49h0M679.2 80.7h0M718.4 90.91h0M747.2 101.11h0M762.6 111.32h0M777.5 121.53h0M810.2 141.95h0M850.7 162.36h0M894.3 182.78h0M914.3 203.19h0M927.7 223.61h0M948.5 274.65h0M913.2 325.69h0M840 427.77h0M789.1 529.85h0M769.2 631.93h0M747.3 734.01h0M724 836.09h0" stroke="#ff0000" stroke-width="12.15" stroke-linecap="round" fill="none"/>
<polyline points="640.1,19.45 640.1,23.53 640.1,27.62 640.1,31.7 640.2,35.78 640.3,39.87 640.5,43.95 640.8,50.07 641.8,60.28 648.3,70.49 703.3,80.7 742.5,90.91 767.3,101.11 789.5,111.32 809,121.53 834.9,141.95 850.7,162.36 862.5,182.78 871.4,203.19 879.7,223.61 896.2,274.65 900.9,325.69 904.8,427.77 856.3,529.85 816.6,631.93 778.8,734.01 747,836.09" stroke="#ffa500" stroke-width="2.6" fill="none" stroke-linejoin="round"/>
<path d="M640.1 19.45h0M640.1 23.53h0M640.1 27.62h0M640.1 31.7h0M640.2 35.78h0M640.3 39.87h0M640.5 43.95h0M640.8 50.07h0M641.8 60.28h0M648.3 70.49h0M703.3 80.7h0M742.5 90.91h0M767.3 101.11h0M789.5 111.32h0M809 121.53h0M834.9 141.95h0M850.7 162.36h0M862.5 182.78h0M871.4 203.19h0M879.7 223.61h0M896.2 274.65h0M900.9 325.69h0M904.8 427.77h0M856.3 529.85h0M816.6 631.93h0M778.8 734.01h0M747 836.09h0" stroke="#ffa500" stroke-width="12.15" stroke-linecap="round" fill="none"/>
</g>
<rect x="580.5" y="19.45" width="401" height="817" fill="none" stroke="#000" stroke-width="1.39"/>
<path d="M584.5 836.45v6.08M650.5 836.45v6.08M716.5 836.45v6.08M781.5 836.45v6.08M847.5 836.45v6.08M913.5 836.45v6.08M979.5 836.45v6.08M580.5 19.5h-6.08M580.5 70.5h-6.08M580.5 121.5h-6.08M580.5 172.5h-6.08M580.5 223.5h-6.08M580.5 274.5h-6.08M580.5 325.5h-6.08M580.5 376.5h-6.08M580.5 427.5h-6.08M580.5 478.5h-6.08M580.5 529.5h-6.08M580.5 580.5h-6.08M580.5 631.5h-6.08M580.5 682.5h-6.08M580.5 734.5h-6.08M580.5 785.5h-6.08" stroke="#000" stroke-width="1.39" fill="none"/>
<text x="583.9" y="862.8" class="tk" text-anchor="middle">34.5</text>
<text x="649.9" y="862.8" class="tk" text-anchor="middle">35.0</text>
<text x="715.9" y="862.8" class="tk" text-anchor="middle">35.5</text>
<text x="780.9" y="862.8" class="tk" text-anchor="middle">36.0</text>
<text x="846.9" y="862.8" class="tk" text-anchor="middle">36.5</text>
<text x="912.9" y="862.8" class="tk" text-anchor="middle">37.0</text>
<text x="978.9" y="862.8" class="tk" text-anchor="middle">37.5</text>
<clipPath id="c2"><rect x="1072.5" y="19.45" width="402" height="817"/></clipPath>
<path d="M1121.5 19.45V836.45M1220.5 19.45V836.45M1318.5 19.45V836.45M1417.5 19.45V836.45M1072.5 70.5H1474.5M1072.5 121.5H1474.5M1072.5 172.5H1474.5M1072.5 223.5H1474.5M1072.5 274.5H1474.5M1072.5 325.5H1474.5M1072.5 376.5H1474.5M1072.5 427.5H1474.5M1072.5 478.5H1474.5M1072.5 529.5H1474.5M1072.5 580.5H1474.5M1072.5 631.5H1474.5M1072.5 682.5H1474.5M1072.5 734.5H1474.5M1072.5 785.5H1474.5" stroke="#a8a8a8" stroke-width="0.87" stroke-dasharray="3.2 1.39" fill="none"/>
<g clip-path="url(#c2)">
<path d="M1100.63 19.45h0M1101.08 21.49h0M1100.85 23.53h0M1100.73 25.57h0M1101.27 27.62h0M1100.95 29.66h0M1100.66 31.7h0M1100.74 33.74h0M1101.41 35.78h0M1101.32 37.82h0M1101.39 39.87h0M1100.96 41.91h0M1100.45 43.95h0M1100.48 45.99h0M1100.72 48.03h0M1101.06 50.07h0M1100.43 52.12h0M1101.57 54.16h0M1101.72 56.2h0M1101.57 58.24h0M1101.12 60.28h0M1102.05 62.32h0M1101.54 64.37h0M1101.8 66.41h0M1101.68 68.45h0M1101.87 70.49h0M1102.69 72.53h0M1104.55 74.57h0M1105.75 76.61h0M1106.91 78.66h0M1107.74 80.7h0M1110.18 82.74h0M1113.05 84.78h0M1115.72 86.82h0M1119.28 88.86h0M1121.98 90.91h0M1126.08 92.95h0M1130.21 94.99h0M1134.48 97.03h0M1138.16 99.07h0M1141.73 101.11h0M1144.95 103.16h0M1147.05 105.2h0M1150.17 107.24h0M1152.33 109.28h0M1155.88 111.32h0M1158.15 113.36h0M1160.6 115.41h0M1164.08 117.45h0M1165.78 119.49h0M1169.49 121.53h0M1171.32 123.57h0M1172.61 125.61h0M1175.35 127.65h0M1177.13 129.7h0M1179.52 131.74h0M1181.11 133.78h0M1182.89 135.82h0M1185.45 137.86h0M1186.39 139.9h0M1189.17 141.95h0M1190.27 143.99h0M1192.38 146.03h0M1194.09 148.07h0M1196.89 150.11h0M1198.27 152.15h0M1200.51 154.2h0M1201.85 156.24h0M1204.31 158.28h0M1206.12 160.32h0M1207.36 162.36h0M1209.75 164.4h0M1211.94 166.45h0M1213.25 168.49h0M1215.7 170.53h0M1217.19 172.57h0M1218.56 174.61h0M1220.49 176.65h0M1221.79 178.69h0M1223.14 180.74h0M1223.74 182.78h0M1225.22 184.82h0M1226.8 186.86h0M1228.05 188.9h0M1229 190.94h0M1230.81 192.99h0M1231.57 195.03h0M1233.55 197.07h0M1234.29 199.11h0M1235.19 201.15h0M1237.26 203.19h0M1237.84 205.24h0M1239.78 207.28h0M1240.33 209.32h0M1242.73 211.36h0M1243.47 213.4h0M1244.98 215.44h0M1245.5 217.49h0M1247.35 219.53h0M1248.26 221.57h0M1249.33 223.61h0M1251.02 225.65h0M1251.09 227.69h0M1252.61 229.73h0M1253.12 231.78h0M1255.01 233.82h0M1256.01 235.86h0M1255.93 237.9h0M1257.39 239.94h0M1258.33 241.98h0M1259.56 244.03h0M1260.5 246.07h0M1260.97 248.11h0M1262.6 250.15h0M1262.64 252.19h0M1263.53 254.23h0M1265.29 256.28h0M1265.41 258.32h0M1266.46 260.36h0M1267.82 262.4h0M1268.62 264.44h0M1269.42 266.48h0M1271.36 268.53h0M1271.86 270.57h0M1273.28 272.61h0M1273.71 274.65h0M1275.7 276.69h0M1276.07 278.73h0M1278.11 280.77h0M1278.99 282.82h0M1280.65 284.86h0M1281.64 286.9h0M1282.7 288.94h0M1283.82 290.98h0M1285.44 293.02h0M1286.16 295.07h0M1286.97 297.11h0M1289.15 299.15h0M1290.21 301.19h0M1291.25 303.23h0M1292.49 305.27h0M1293.02 307.32h0M1294.43 309.36h0M1295.98 311.4h0M1297.25 313.44h0M1298.29 315.48h0M1298.44 317.52h0M1300.13 319.57h0M1301.02 321.61h0M1301.88 323.65h0M1302.62 325.69h0M1303.84 327.73h0M1305.5 329.77h0M1306.79 331.81h0M1307.92 333.86h0M1309.44 335.9h0M1311.06 337.94h0M1312.71 339.98h0M1313.91 342.02h0M1314.79 344.06h0M1317.06 346.11h0M1317.84 348.15h0M1319.95 350.19h0M1321.38 352.23h0M1321.77 354.27h0M1323.7 356.31h0M1325.56 358.36h0M1326.26 360.4h0M1327.86 362.44h0M1328.98 364.48h0M1330.03 366.52h0M1331.65 368.56h0M1333.06 370.61h0M1334.77 372.65h0M1336.71 374.69h0M1338.15 376.73h0M1339.6 378.77h0M1340.27 380.81h0M1340.86 382.85h0M1342.53 384.9h0M1343.11 386.94h0M1343.94 388.98h0M1345.26 391.02h0M1345.94 393.06h0M1346.48 395.1h0M1347.66 397.15h0M1348.18 399.19h0M1349.85 401.23h0M1349.84 403.27h0M1351.56 405.31h0M1351.32 407.35h0M1352.09 409.4h0M1353.57 411.44h0M1353.98 413.48h0M1355.17 415.52h0M1355.52 417.56h0M1357.21 419.6h0M1357.83 421.65h0M1358.68 423.69h0M1359.8 425.73h0M1360.72 427.77h0M1361 429.81h0M1361.71 431.85h0M1361.53 433.89h0M1362.26 435.94h0M1363.39 437.98h0M1364.73 440.02h0M1364.63 442.06h0M1365.63 444.1h0M1365.66 446.14h0M1366.86 448.19h0M1368.15 450.23h0M1368.49 452.27h0M1369.49 454.31h0M1369.24 456.35h0M1370.19 458.39h0M1370.89 460.44h0M1372.41 462.48h0M1372.26 464.52h0M1373.98 466.56h0M1373.91 468.6h0M1375.37 470.64h0M1375.66 472.69h0M1376.15 474.73h0M1377.63 476.77h0M1377.67 478.81h0M1378.54 480.85h0M1378.31 482.89h0M1379.74 484.93h0M1380.42 486.98h0M1379.88 489.02h0M1381.14 491.06h0M1381.05 493.1h0M1381.39 495.14h0M1382.13 497.18h0M1382.96 499.23h0M1383.78 501.27h0M1384.3 503.31h0M1384.77 505.35h0M1384.79 507.39h0M1385.29 509.43h0M1385.17 511.48h0M1386.31 513.52h0M1386.57 515.56h0M1386.81 517.6h0M1387.94 519.64h0M1387.64 521.68h0M1387.99 523.73h0M1388.5 525.77h0M1388.98 527.81h0M1390 529.85h0M1390.68 531.89h0M1390.34 533.93h0M1391.18 535.97h0M1391.7 538.02h0M1392.13 540.06h0M1392.39 542.1h0M1392.99 544.14h0M1392.81 546.18h0M1393.31 548.22h0M1394.2 550.27h0M1394.43 552.31h0M1395.51 554.35h0M1395.34 556.39h0M1396.49 558.43h0M1396.25 560.47h0M1396.52 562.52h0M1397.43 564.56h0M1397.77 566.6h0M1398.15 568.64h0M1399.11 570.68h0M1398.9 572.72h0M1399.87 574.77h0M1400.5 576.81h0M1400.47 578.85h0M1400.95 580.89h0M1401.88 582.93h0M1401.91 584.97h0M1401.82 587.01h0M1402.1 589.06h0M1402.52 591.1h0M1403.23 593.14h0M1403.34 595.18h0M1404.42 597.22h0M1404.56 599.26h0M1404.82 601.31h0M1405.47 603.35h0M1406.4 605.39h0M1406.01 607.43h0M1406.35 609.47h0M1406.97 611.51h0M1407.43 613.56h0M1408.57 615.6h0M1408.77 617.64h0M1408.87 619.68h0M1409 621.72h0M1409.29 623.76h0M1409.83 625.81h0M1411.14 627.85h0M1411.34 629.89h0M1411.19 631.93h0M1412.13 633.97h0M1411.83 636.01h0M1412.75 638.05h0M1412.92 640.1h0M1413.02 642.14h0M1414.19 644.18h0M1414.57 646.22h0M1414.73 648.26h0M1414.73 650.3h0M1415.74 652.35h0M1415.86 654.39h0M1416.54 656.43h0M1416.26 658.47h0M1417.63 660.51h0M1416.95 662.55h0M1417.6 664.6h0M1418.2 666.64h0M1418.35 668.68h0M1418.6 670.72h0M1419.7 672.76h0M1420.44 674.8h0M1420.03 676.85h0M1420.32 678.89h0M1421.17 680.93h0M1421.01 682.97h0M1421.59 685.01h0M1422.3 687.05h0M1422.36 689.09h0M1422.39 691.14h0M1422.66 693.18h0M1423.59 695.22h0M1424.5 697.26h0M1424.79 699.3h0M1424.17 701.34h0M1425.03 703.39h0M1425.39 705.43h0M1425.42 707.47h0M1426.38 709.51h0M1426.56 711.55h0M1427.32 713.59h0M1427.09 715.64h0M1428.26 717.68h0M1428.51 719.72h0M1428.5 721.76h0M1428.51 723.8h0M1429.32 725.84h0M1429.3 727.89h0M1430.37 729.93h0M1430.79 731.97h0M1431.05 734.01h0M1431.88 736.05h0M1431.11 738.09h0M1432.26 740.13h0M1432.71 742.18h0M1432.22 744.22h0M1432.82 746.26h0M1432.83 748.3h0M1433.8 750.34h0M1434.31 752.38h0M1434.19 754.43h0M1434.93 756.47h0M1434.86 758.51h0M1435.59 760.55h0M1435.39 762.59h0M1436.54 764.63h0M1436.21 766.68h0M1435.99 768.72h0M1436.41 770.76h0M1437.47 772.8h0M1437.94 774.84h0M1437.97 776.88h0M1437.69 778.93h0M1438.85 780.97h0M1438.96 783.01h0M1438.54 785.05h0M1439.16 787.09h0M1439.81 789.13h0M1439.31 791.17h0M1439.66 793.22h0M1440.34 795.26h0M1441.28 797.3h0M1441.73 799.34h0M1441.23 801.38h0M1442.26 803.42h0M1442.43 805.47h0M1442.84 807.51h0M1442.83 809.55h0M1443.61 811.59h0M1443.55 813.63h0M1444.24 815.67h0M1444.11 817.72h0M1444 819.76h0M1444.72 821.8h0M1445.01 823.84h0M1445.17 825.88h0M1445.54 827.92h0M1446.04 829.97h0M1446.46 832.01h0M1446.35 834.05h0M1446.74 836.09h0M1101.69 19.45h0M1101.95 21.49h0M1101.34 23.53h0M1101.72 25.57h0M1101.38 27.62h0M1101.94 29.66h0M1101.83 31.7h0M1101.9 33.74h0M1101.56 35.78h0M1101.22 37.82h0M1102.02 39.87h0M1101.51 41.91h0M1101.34 43.95h0M1101.25 45.99h0M1101.39 48.03h0M1101.77 50.07h0M1102.18 52.12h0M1102.06 54.16h0M1102.64 56.2h0M1102.32 58.24h0M1102.91 60.28h0M1103.3 62.32h0M1103.77 64.37h0M1104.4 66.41h0M1105.46 68.45h0M1106.05 70.49h0M1106.88 72.53h0M1108.37 74.57h0M1110.48 76.61h0M1111.77 78.66h0M1113.23 80.7h0M1115.67 82.74h0M1118.2 84.78h0M1120.14 86.82h0M1122.31 88.86h0M1125.09 90.91h0M1128.26 92.95h0M1132.95 94.99h0M1135.99 97.03h0M1139.75 99.07h0M1143.7 101.11h0M1146.1 103.16h0M1148 105.2h0M1150.71 107.24h0M1153.03 109.28h0M1156.43 111.32h0M1158.95 113.36h0M1161.23 115.41h0M1163.68 117.45h0M1166.16 119.49h0M1169.02 121.53h0M1171.24 123.57h0M1173.42 125.61h0M1175.34 127.65h0M1177.34 129.7h0M1178.82 131.74h0M1180.79 133.78h0M1182.67 135.82h0M1185.48 137.86h0M1186.55 139.9h0M1188.54 141.95h0M1190.69 143.99h0M1193.46 146.03h0M1195.39 148.07h0M1196.77 150.11h0M1199.41 152.15h0M1201.47 154.2h0M1202.93 156.24h0M1204.66 158.28h0M1207.37 160.32h0M1208.9 162.36h0M1210.6 164.4h0M1213.54 166.45h0M1214.97 168.49h0M1216.91 170.53h0M1219.13 172.57h0M1220.03 174.61h0M1221.06 176.65h0M1222.8 178.69h0M1224.08 180.74h0M1224.92 182.78h0M1226.63 184.82h0M1228.37 186.86h0M1229.11 188.9h0M1230.78 190.94h0M1231.96 192.99h0M1232.68 195.03h0M1233.72 197.07h0M1235.74 199.11h0M1236.9 201.15h0M1237.75 203.19h0M1238.87 205.24h0M1240.89 207.28h0M1242.2 209.32h0M1242.63 211.36h0M1244.31 213.4h0M1245.55 215.44h0M1246.51 217.49h0M1247.45 219.53h0M1249.08 221.57h0M1250.75 223.61h0M1251.83 225.65h0M1252.86 227.69h0M1253.54 229.73h0M1254.8 231.78h0M1256.09 233.82h0M1257.39 235.86h0M1258.5 237.9h0M1260.34 239.94h0M1260.58 241.98h0M1262.82 244.03h0M1263.12 246.07h0M1265.05 248.11h0M1265.51 250.15h0M1267.1 252.19h0M1268.02 254.23h0M1268.78 256.28h0M1270.84 258.32h0M1272 260.36h0M1272.48 262.4h0M1274.19 264.44h0M1274.93 266.48h0M1276.61 268.53h0M1276.55 270.57h0M1277.97 272.61h0M1278.81 274.65h0M1280.38 276.69h0M1281.64 278.73h0M1282.78 280.77h0M1283.48 282.82h0M1284.33 284.86h0M1285.86 286.9h0M1286.05 288.94h0M1287.26 290.98h0M1288.88 293.02h0M1289.53 295.07h0M1291.22 297.11h0M1291.18 299.15h0M1292.67 301.19h0M1293.43 303.23h0M1294.24 305.27h0M1295.44 307.32h0M1296.53 309.36h0M1297.99 311.4h0M1299.2 313.44h0M1300.44 315.48h0M1301.35 317.52h0M1303.03 319.57h0M1304.01 321.61h0M1305.79 323.65h0M1306.04 325.69h0M1307.86 327.73h0M1309.25 329.77h0M1310.52 331.81h0M1312.53 333.86h0M1313.16 335.9h0M1315.38 337.94h0M1316.16 339.98h0M1317.54 342.02h0M1319.26 344.06h0M1320.58 346.11h0M1321.61 348.15h0M1322.72 350.19h0M1325.11 352.23h0M1325.73 354.27h0M1326.74 356.31h0M1328.69 358.36h0M1329.83 360.4h0M1330.86 362.44h0M1332.13 364.48h0M1334.02 366.52h0M1334.67 368.56h0M1336.01 370.61h0M1337.91 372.65h0M1338.45 374.69h0M1339.76 376.73h0M1340.2 378.77h0M1341.54 380.81h0M1342.29 382.85h0M1342.78 384.9h0M1343.5 386.94h0M1344.07 388.98h0M1345.53 391.02h0M1345.94 393.06h0M1347.2 395.1h0M1347.48 397.15h0M1348.75 399.19h0M1348.76 401.23h0M1349.85 403.27h0M1351.61 405.31h0M1352.16 407.35h0M1353.03 409.4h0M1353.71 411.44h0M1354.57 413.48h0M1355.14 415.52h0M1356.01 417.56h0M1357.47 419.6h0M1358.42 421.65h0M1358.79 423.69h0M1360.13 425.73h0M1360.4 427.77h0M1361.71 429.81h0M1361.91 431.85h0M1363.04 433.89h0M1363.53 435.94h0M1364.54 437.98h0M1364.76 440.02h0M1365.89 442.06h0M1366.75 444.1h0M1366.88 446.14h0M1367.78 448.19h0M1368.91 450.23h0M1369.44 452.27h0M1370.2 454.31h0M1371.07 456.35h0M1371.49 458.39h0M1371.74 460.44h0M1372.66 462.48h0M1373.79 464.52h0M1374.13 466.56h0M1375.02 468.6h0M1375.21 470.64h0M1375.97 472.69h0M1377.26 474.73h0M1377.74 476.77h0M1378.21 478.81h0M1378.04 480.85h0M1379.14 482.89h0M1378.95 484.93h0M1380.53 486.98h0M1381.09 489.02h0M1381.31 491.06h0M1381.28 493.1h0M1382.49 495.14h0M1382.22 497.18h0M1383.53 499.23h0M1383.69 501.27h0M1383.62 503.31h0M1385.2 505.35h0M1385.2 507.39h0M1386.2 509.43h0M1386.57 511.48h0M1386.92 513.52h0M1387.84 515.56h0M1387.58 517.6h0M1388.94 519.64h0M1388.79 521.68h0M1388.93 523.73h0M1389.82 525.77h0M1390 527.81h0M1390.51 529.85h0M1391.63 531.89h0M1391.47 533.93h0M1391.96 535.97h0M1392.55 538.02h0M1392.97 540.06h0M1394.16 542.1h0M1394.57 544.14h0M1394.95 546.18h0M1395.51 548.22h0M1395.26 550.27h0M1396.1 552.31h0M1395.89 554.35h0M1397.07 556.39h0M1397.34 558.43h0M1397.65 560.47h0M1397.46 562.52h0M1397.7 564.56h0M1399.11 566.6h0M1399.07 568.64h0M1399.56 570.68h0M1400.27 572.72h0M1399.83 574.77h0M1400.92 576.81h0M1401.06 578.85h0M1401.87 580.89h0M1401.91 582.93h0M1402.03 584.97h0M1403.38 587.01h0M1403.02 589.06h0M1404.02 591.1h0M1404.57 593.14h0M1404.32 595.18h0M1405.31 597.22h0M1405.4 599.26h0M1405.65 601.31h0M1406.09 603.35h0M1407.43 605.39h0M1407.18 607.43h0M1407.8 609.47h0M1408.24 611.51h0M1408.12 613.56h0M1409.44 615.6h0M1409.87 617.64h0M1410.47 619.68h0M1410.28 621.72h0M1410.54 623.76h0M1411.13 625.81h0M1412.02 627.85h0M1412.35 629.89h0M1412.46 631.93h0M1412.95 633.97h0M1412.86 636.01h0M1414.12 638.05h0M1413.93 640.1h0M1414.31 642.14h0M1414.99 644.18h0M1414.62 646.22h0M1415.59 648.26h0M1415.49 650.3h0M1416.39 652.35h0M1415.87 654.39h0M1416.44 656.43h0M1417.22 658.47h0M1417.39 660.51h0M1417.62 662.55h0M1418.22 664.6h0M1418.16 666.64h0M1418.79 668.68h0M1418.64 670.72h0M1419.98 672.76h0M1419.7 674.8h0M1420.78 676.85h0M1420.83 678.89h0M1421.29 680.93h0M1421.71 682.97h0M1421.51 685.01h0M1422.69 687.05h0M1422.5 689.09h0M1423.59 691.14h0M1423.9 693.18h0M1424.17 695.22h0M1424.74 697.26h0M1424.68 699.3h0M1425.37 701.34h0M1426.1 703.39h0M1425.58 705.43h0M1425.87 707.47h0M1426.63 709.51h0M1427.14 711.55h0M1427.09 713.59h0M1427.56 715.64h0M1428.71 717.68h0M1428.51 719.72h0M1428.6 721.76h0M1429.02 723.8h0M1429.86 725.84h0M1429.76 727.89h0M1430.47 729.93h0M1430.91 731.97h0M1431.16 734.01h0M1431.54 736.05h0M1432.25 738.09h0M1431.58 740.13h0M1432.98 742.18h0M1432.42 744.22h0M1432.54 746.26h0M1433.73 748.3h0M1433.81 750.34h0M1434.09 752.38h0M1434.02 754.43h0M1435.02 756.47h0M1434.78 758.51h0M1435.61 760.55h0M1435.35 762.59h0M1436.09 764.63h0M1436.52 766.68h0M1436.53 768.72h0M1437 770.76h0M1436.85 772.8h0M1437.89 774.84h0M1438.29 776.88h0M1437.99 778.93h0M1438.82 780.97h0M1439.39 783.01h0M1438.98 785.05h0M1440.21 787.09h0M1440.59 789.13h0M1439.95 791.17h0M1440.53 793.22h0M1440.68 795.26h0M1441.22 797.3h0M1441.35 799.34h0M1442.17 801.38h0M1442.21 803.42h0M1442.59 805.47h0M1443.11 807.51h0M1443.32 809.55h0M1444.14 811.59h0M1444.37 813.63h0M1443.95 815.67h0M1444.39 817.72h0M1444.44 819.76h0M1445.13 821.8h0M1445.17 823.84h0M1446.17 825.88h0M1446.57 827.92h0M1447.13 829.97h0M1446.49 832.01h0M1446.58 834.05h0M1447.75 836.09h0M1102.57 19.45h0M1102.52 21.49h0M1102.28 23.53h0M1103.38 25.57h0M1102.91 27.62h0M1102.87 29.66h0M1102.92 31.7h0M1103.36 33.74h0M1103.48 35.78h0M1103.09 37.82h0M1102.77 39.87h0M1103.08 41.91h0M1103.69 43.95h0M1103.13 45.99h0M1103.44 48.03h0M1103.33 50.07h0M1103.57 52.12h0M1104.04 54.16h0M1103.98 56.2h0M1104.68 58.24h0M1105.35 60.28h0M1105.42 62.32h0M1106.73 64.37h0M1108.24 66.41h0M1109.21 68.45h0M1108.85 70.49h0M1110.87 72.53h0M1112.14 74.57h0M1113.66 76.61h0M1114.48 78.66h0M1115.33 80.7h0M1117.63 82.74h0M1120.27 84.78h0M1122.47 86.82h0M1124.06 88.86h0M1126.83 90.91h0M1130.27 92.95h0M1133.72 94.99h0M1136.42 97.03h0M1140.39 99.07h0M1143.73 101.11h0M1146.74 103.16h0M1149.12 105.2h0M1151.58 107.24h0M1154.93 109.28h0M1157.19 111.32h0M1160.52 113.36h0M1162.66 115.41h0M1165.68 117.45h0M1168.73 119.49h0M1170.64 121.53h0M1173.37 123.57h0M1174.56 125.61h0M1177.58 127.65h0M1178.46 129.7h0M1181.26 131.74h0M1182.78 133.78h0M1184.5 135.82h0M1186.7 137.86h0M1188.75 139.9h0M1190.57 141.95h0M1192.15 143.99h0M1194.55 146.03h0M1196.2 148.07h0M1198.91 150.11h0M1200.11 152.15h0M1202.08 154.2h0M1203.73 156.24h0M1206.51 158.28h0M1207.64 160.32h0M1209.93 162.36h0M1212.05 164.4h0M1213.43 166.45h0M1215.77 168.49h0M1217.11 170.53h0M1218.82 172.57h0M1220.02 174.61h0M1221.78 176.65h0M1223.58 178.69h0M1224.07 180.74h0M1225.66 182.78h0M1227.36 184.82h0M1228.11 186.86h0M1229.29 188.9h0M1231.08 190.94h0M1232.32 192.99h0M1234.3 195.03h0M1235.62 197.07h0M1236.21 199.11h0M1237.98 201.15h0M1239.19 203.19h0M1240.13 205.24h0M1242.02 207.28h0M1243.98 209.32h0M1244.64 211.36h0M1246.37 213.4h0M1247.91 215.44h0M1248.51 217.49h0M1250.92 219.53h0M1251.31 221.57h0M1252.9 223.61h0M1254.59 225.65h0M1254.93 227.69h0M1256.53 229.73h0M1257.38 231.78h0M1258.94 233.82h0M1259.52 235.86h0M1260.8 237.9h0M1261.99 239.94h0M1262.92 241.98h0M1264.01 244.03h0M1265.21 246.07h0M1266.67 248.11h0M1267.27 250.15h0M1269.15 252.19h0M1269.72 254.23h0M1270.58 256.28h0M1271.62 258.32h0M1273.4 260.36h0M1273.51 262.4h0M1275.42 264.44h0M1275.73 266.48h0M1277.83 268.53h0M1278.29 270.57h0M1279.64 272.61h0M1281.08 274.65h0M1281.4 276.69h0M1282.59 278.73h0M1284.6 280.77h0M1285.74 282.82h0M1287.18 284.86h0M1287.93 286.9h0M1289.49 288.94h0M1290.42 290.98h0M1292.02 293.02h0M1293.14 295.07h0M1294.81 297.11h0M1295.77 299.15h0M1297.04 301.19h0M1298.77 303.23h0M1299.37 305.27h0M1301.5 307.32h0M1302.38 309.36h0M1303.29 311.4h0M1304.37 313.44h0M1306.04 315.48h0M1307.21 317.52h0M1308.62 319.57h0M1309.34 321.61h0M1310.49 323.65h0M1312.16 325.69h0M1312.56 327.73h0M1314.54 329.77h0M1315.56 331.81h0M1316.79 333.86h0M1317.85 335.9h0M1318.14 337.94h0M1319.93 339.98h0M1320.8 342.02h0M1321.44 344.06h0M1323.53 346.11h0M1324.27 348.15h0M1325.62 350.19h0M1326.5 352.23h0M1327.12 354.27h0M1329.28 356.31h0M1329.68 358.36h0M1331.03 360.4h0M1332.73 362.44h0M1333.51 364.48h0M1335.13 366.52h0M1336.75 368.56h0M1337.34 370.61h0M1339.36 372.65h0M1340.04 374.69h0M1341.85 376.73h0M1342.89 378.77h0M1343.77 380.81h0M1343.84 382.85h0M1344.86 384.9h0M1346.62 386.94h0M1346.78 388.98h0M1347.65 391.02h0M1348.42 393.06h0M1349.62 395.1h0M1350.49 397.15h0M1351.18 399.19h0M1351.68 401.23h0M1352.67 403.27h0M1353.38 405.31h0M1353.76 407.35h0M1355.44 409.4h0M1356.21 411.44h0M1356.74 413.48h0M1357.74 415.52h0M1357.86 417.56h0M1359.05 419.6h0M1359.07 421.65h0M1360.41 423.69h0M1361.12 425.73h0M1362.14 427.77h0M1362.66 429.81h0M1363.36 431.85h0M1363.27 433.89h0M1364.54 435.94h0M1364.82 437.98h0M1365.28 440.02h0M1366.01 442.06h0M1367.2 444.1h0M1367.92 446.14h0M1368.6 448.19h0M1369.08 450.23h0M1369.17 452.27h0M1369.85 454.31h0M1371.05 456.35h0M1371.33 458.39h0M1372.2 460.44h0M1372.64 462.48h0M1373.43 464.52h0M1374.84 466.56h0M1374.98 468.6h0M1376.47 470.64h0M1376.58 472.69h0M1377.95 474.73h0M1378.03 476.77h0M1378.73 478.81h0M1379.43 480.85h0M1379.51 482.89h0M1380.55 484.93h0M1381.02 486.98h0M1381.1 489.02h0M1382.64 491.06h0M1382.57 493.1h0M1382.63 495.14h0M1384.28 497.18h0M1383.9 499.23h0M1384.42 501.27h0M1384.63 503.31h0M1385.2 505.35h0M1386.41 507.39h0M1386.73 509.43h0M1387.1 511.48h0M1387.26 513.52h0M1387.77 515.56h0M1389.06 517.6h0M1388.8 519.64h0M1390.01 521.68h0M1390.35 523.73h0M1389.9 525.77h0M1391.24 527.81h0M1390.72 529.85h0M1391.98 531.89h0M1392.53 533.93h0M1392.82 535.97h0M1393.09 538.02h0M1393.84 540.06h0M1393.5 542.1h0M1394.41 544.14h0M1394.53 546.18h0M1395.14 548.22h0M1395.35 550.27h0M1396.43 552.31h0M1396.73 554.35h0M1397.44 556.39h0M1397.72 558.43h0M1398.15 560.47h0M1399.01 562.52h0M1399.34 564.56h0M1399.51 566.6h0M1399.69 568.64h0M1400.88 570.68h0M1400.67 572.72h0M1400.8 574.77h0M1401.54 576.81h0M1402.44 578.85h0M1403.15 580.89h0M1403.25 582.93h0M1403.71 584.97h0M1404.48 587.01h0M1404.72 589.06h0M1404.75 591.1h0M1405.19 593.14h0M1405.96 595.18h0M1405.85 597.22h0M1406.01 599.26h0M1407.03 601.31h0M1407.66 603.35h0M1407.4 605.39h0M1408.32 607.43h0M1408.97 609.47h0M1408.46 611.51h0M1408.87 613.56h0M1409.7 615.6h0M1409.91 617.64h0M1411.06 619.68h0M1411.52 621.72h0M1411.27 623.76h0M1412.1 625.81h0M1412.33 627.85h0M1412.2 629.89h0M1413.58 631.93h0M1412.99 633.97h0M1413.24 636.01h0M1414.06 638.05h0M1413.91 640.1h0M1414.84 642.14h0M1415.14 644.18h0M1416.17 646.22h0M1415.9 648.26h0M1416.81 650.3h0M1417.11 652.35h0M1417.27 654.39h0M1417.23 656.43h0M1417.7 658.47h0M1418.31 660.51h0M1418.58 662.55h0M1419.26 664.6h0M1419.47 666.64h0M1419.63 668.68h0M1420.34 670.72h0M1421.18 672.76h0M1420.6 674.8h0M1421.12 676.85h0M1421.1 678.89h0M1421.56 680.93h0M1421.87 682.97h0M1422.66 685.01h0M1423.51 687.05h0M1423.7 689.09h0M1424.37 691.14h0M1424.56 693.18h0M1424.61 695.22h0M1424.95 697.26h0M1424.62 699.3h0M1425.41 701.34h0M1425.61 703.39h0M1426.4 705.43h0M1426.08 707.47h0M1427.01 709.51h0M1427.17 711.55h0M1427.67 713.59h0M1427.93 715.64h0M1427.94 717.68h0M1429.07 719.72h0M1429.53 721.76h0M1429.66 723.8h0M1429.46 725.84h0M1430.43 727.89h0M1431.14 729.93h0M1431.67 731.97h0M1431.79 734.01h0M1431.28 736.05h0M1432.62 738.09h0M1432.71 740.13h0M1432.59 742.18h0M1433.71 744.22h0M1433.94 746.26h0M1434.37 748.3h0M1433.94 750.34h0M1434.68 752.38h0M1434.79 754.43h0M1435.03 756.47h0M1435.93 758.51h0M1436.09 760.55h0M1436.08 762.59h0M1436.67 764.63h0M1437.46 766.68h0M1437.36 768.72h0M1438.1 770.76h0M1438 772.8h0M1438.83 774.84h0M1438 776.88h0M1438.83 778.93h0M1439.25 780.97h0M1439.77 783.01h0M1440.38 785.05h0M1440.27 787.09h0M1440.41 789.13h0M1440.9 791.17h0M1441.09 793.22h0M1441.61 795.26h0M1442.21 797.3h0M1441.41 799.34h0M1442.09 801.38h0M1443.07 803.42h0M1442.41 805.47h0M1443.61 807.51h0M1443.02 809.55h0M1444.09 811.59h0M1444.6 813.63h0M1444.26 815.67h0M1444.77 817.72h0M1444.92 819.76h0M1445.83 821.8h0M1445.96 823.84h0M1446.4 825.88h0M1446.4 827.92h0M1447.06 829.97h0M1447.85 832.01h0M1447.98 834.05h0M1448.53 836.09h0M1103.62 19.45h0M1103.59 21.49h0M1104.14 23.53h0M1103.4 25.57h0M1103.87 27.62h0M1104.14 29.66h0M1104.35 31.7h0M1103.26 33.74h0M1103.59 35.78h0M1103.88 37.82h0M1104.44 39.87h0M1103.54 41.91h0M1104.4 43.95h0M1103.91 45.99h0M1104.14 48.03h0M1104.64 50.07h0M1104.07 52.12h0M1104.85 54.16h0M1105.12 56.2h0M1105.57 58.24h0M1106.25 60.28h0M1108.41 62.32h0M1109.96 64.37h0M1111.13 66.41h0M1113.68 68.45h0M1115.07 70.49h0M1116.41 72.53h0M1118.99 74.57h0M1120.74 76.61h0M1121.75 78.66h0M1124.33 80.7h0M1125.89 82.74h0M1126.89 84.78h0M1128.31 86.82h0M1131.03 88.86h0M1132.66 90.91h0M1134.54 92.95h0M1138.12 94.99h0M1140.91 97.03h0M1143.55 99.07h0M1146.63 101.11h0M1149.45 103.16h0M1151.3 105.2h0M1154.53 107.24h0M1157.26 109.28h0M1159.15 111.32h0M1162.21 113.36h0M1164.83 115.41h0M1167.65 117.45h0M1169.93 119.49h0M1172.21 121.53h0M1174.02 123.57h0M1176.22 125.61h0M1177.59 127.65h0M1180.34 129.7h0M1182.26 131.74h0M1183.38 133.78h0M1185.83 135.82h0M1187.71 137.86h0M1188.97 139.9h0M1191.69 141.95h0M1193.63 143.99h0M1195.05 146.03h0M1196.77 148.07h0M1198.97 150.11h0M1201.54 152.15h0M1203.15 154.2h0M1205.55 156.24h0M1206.74 158.28h0M1208.66 160.32h0M1210.93 162.36h0M1213.53 164.4h0M1214.64 166.45h0M1216.5 168.49h0M1219.27 170.53h0M1220.42 172.57h0M1222.43 174.61h0M1223.04 176.65h0M1224.54 178.69h0M1226.33 180.74h0M1227.87 182.78h0M1228.6 184.82h0M1229.92 186.86h0M1230.69 188.9h0M1232.32 190.94h0M1233.46 192.99h0M1235.38 195.03h0M1236.54 197.07h0M1237.88 199.11h0M1238.84 201.15h0M1240.3 203.19h0M1240.87 205.24h0M1242.45 207.28h0M1243.61 209.32h0M1244.88 211.36h0M1246.72 213.4h0M1247.39 215.44h0M1248.84 217.49h0M1250.11 219.53h0M1252.14 221.57h0M1253.22 223.61h0M1254.23 225.65h0M1255.33 227.69h0M1257.2 229.73h0M1258.47 231.78h0M1259.13 233.82h0M1260.53 235.86h0M1262.16 237.9h0M1262.72 239.94h0M1264.01 241.98h0M1265.11 244.03h0M1266.88 246.07h0M1268.5 248.11h0M1269.06 250.15h0M1270.68 252.19h0M1272.64 254.23h0M1273.3 256.28h0M1274.45 258.32h0M1276.26 260.36h0M1277.57 262.4h0M1278.18 264.44h0M1279.09 266.48h0M1280.91 268.53h0M1282.22 270.57h0M1283.6 272.61h0M1284.44 274.65h0M1285.22 276.69h0M1286.66 278.73h0M1287.57 280.77h0M1288.93 282.82h0M1290.12 284.86h0M1291.81 286.9h0M1292.95 288.94h0M1294.13 290.98h0M1294.74 293.02h0M1296.48 295.07h0M1296.64 297.11h0M1298.75 299.15h0M1299.59 301.19h0M1301.05 303.23h0M1301.7 305.27h0M1303.61 307.32h0M1303.68 309.36h0M1305.91 311.4h0M1307.14 313.44h0M1307.88 315.48h0M1309.72 317.52h0M1310.28 319.57h0M1312.25 321.61h0M1313.24 323.65h0M1314.51 325.69h0M1315.6 327.73h0M1317.68 329.77h0M1318.95 331.81h0M1319.53 333.86h0M1321.93 335.9h0M1322.36 337.94h0M1323.86 339.98h0M1325.21 342.02h0M1326.7 344.06h0M1328.35 346.11h0M1329.67 348.15h0M1330.54 350.19h0M1331.44 352.23h0M1332.34 354.27h0M1333.49 356.31h0M1335.2 358.36h0M1336.44 360.4h0M1337.43 362.44h0M1339.21 364.48h0M1339.66 366.52h0M1340.71 368.56h0M1341.91 370.61h0M1342.73 372.65h0M1344.76 374.69h0M1345.46 376.73h0M1345.99 378.77h0M1346.43 380.81h0M1346.81 382.85h0M1347.5 384.9h0M1348.33 386.94h0M1348.9 388.98h0M1350.18 391.02h0M1350.33 393.06h0M1350.57 395.1h0M1351.07 397.15h0M1351.89 399.19h0M1352.82 401.23h0M1354.06 403.27h0M1354.92 405.31h0M1354.87 407.35h0M1356.27 409.4h0M1356.61 411.44h0M1357.48 413.48h0M1358.24 415.52h0M1358.41 417.56h0M1359.2 419.6h0M1360.68 421.65h0M1361.47 423.69h0M1361.86 425.73h0M1363.26 427.77h0M1363.84 429.81h0M1363.92 431.85h0M1364.34 433.89h0M1365.62 435.94h0M1366.43 437.98h0M1366.6 440.02h0M1367.06 442.06h0M1368.27 444.1h0M1368.4 446.14h0M1369.91 448.19h0M1370.43 450.23h0M1370.67 452.27h0M1371.53 454.31h0M1371.92 456.35h0M1372.51 458.39h0M1373.15 460.44h0M1374.55 462.48h0M1374.75 464.52h0M1375.71 466.56h0M1375.91 468.6h0M1377.1 470.64h0M1377.49 472.69h0M1378.21 474.73h0M1378.55 476.77h0M1379.41 478.81h0M1379.43 480.85h0M1380.83 482.89h0M1380.95 484.93h0M1381.26 486.98h0M1381.88 489.02h0M1381.73 491.06h0M1382.51 493.1h0M1382.89 495.14h0M1384.13 497.18h0M1383.65 499.23h0M1384.69 501.27h0M1385.72 503.31h0M1386.14 505.35h0M1386.58 507.39h0M1386.6 509.43h0M1387.04 511.48h0M1388.13 513.52h0M1388.17 515.56h0M1389.19 517.6h0M1389.26 519.64h0M1390.26 521.68h0M1390.55 523.73h0M1391.34 525.77h0M1392.04 527.81h0M1391.81 529.85h0M1393 531.89h0M1392.28 533.93h0M1393.77 535.97h0M1393.21 538.02h0M1394.27 540.06h0M1394.52 542.1h0M1395.42 544.14h0M1395.3 546.18h0M1395.61 548.22h0M1396.73 550.27h0M1396.88 552.31h0M1397.55 554.35h0M1397.65 556.39h0M1397.54 558.43h0M1398.84 560.47h0M1398.6 562.52h0M1399.34 564.56h0M1399.2 566.6h0M1399.94 568.64h0M1400.86 570.68h0M1401.41 572.72h0M1401.7 574.77h0M1401.91 576.81h0M1402.7 578.85h0M1403.08 580.89h0M1402.97 582.93h0M1403.82 584.97h0M1404.36 587.01h0M1404.98 589.06h0M1404.8 591.1h0M1405.41 593.14h0M1405.91 595.18h0M1406.09 597.22h0M1406.86 599.26h0M1407.79 601.31h0M1408.07 603.35h0M1408.06 605.39h0M1409.19 607.43h0M1408.92 609.47h0M1410.14 611.51h0M1409.88 613.56h0M1410.27 615.6h0M1410.91 617.64h0M1411.67 619.68h0M1411.82 621.72h0M1413 623.76h0M1413.5 625.81h0M1413.14 627.85h0M1414.13 629.89h0M1414.49 631.93h0M1414.67 633.97h0M1414.64 636.01h0M1415.82 638.05h0M1416.16 640.1h0M1415.36 642.14h0M1416.08 644.18h0M1416.4 646.22h0M1416.58 648.26h0M1417.19 650.3h0M1418.09 652.35h0M1417.37 654.39h0M1418.69 656.43h0M1418.39 658.47h0M1418.38 660.51h0M1419.79 662.55h0M1419.38 664.6h0M1419.66 666.64h0M1419.9 668.68h0M1420.56 670.72h0M1420.63 672.76h0M1421.07 674.8h0M1421.52 676.85h0M1422.28 678.89h0M1422.5 680.93h0M1422.71 682.97h0M1423.35 685.01h0M1424.02 687.05h0M1424.34 689.09h0M1424.27 691.14h0M1425.34 693.18h0M1425.57 695.22h0M1425.67 697.26h0M1425.94 699.3h0M1426.15 701.34h0M1426.29 703.39h0M1427.56 705.43h0M1427.6 707.47h0M1427.35 709.51h0M1428.71 711.55h0M1429.02 713.59h0M1428.36 715.64h0M1429.52 717.68h0M1429.31 719.72h0M1430.02 721.76h0M1430.73 723.8h0M1430.5 725.84h0M1431.02 727.89h0M1431.57 729.93h0M1431.35 731.97h0M1432.21 734.01h0M1432.27 736.05h0M1433.23 738.09h0M1432.57 740.13h0M1433.5 742.18h0M1433 744.22h0M1433.58 746.26h0M1433.69 748.3h0M1434.03 750.34h0M1434.8 752.38h0M1434.69 754.43h0M1435.75 756.47h0M1435.22 758.51h0M1436.18 760.55h0M1436.79 762.59h0M1436.23 764.63h0M1436.67 766.68h0M1437.67 768.72h0M1437.65 770.76h0M1438.54 772.8h0M1438.17 774.84h0M1438.58 776.88h0M1439.6 778.93h0M1439.21 780.97h0M1440.3 783.01h0M1440.55 785.05h0M1440.07 787.09h0M1440.83 789.13h0M1441.64 791.17h0M1440.99 793.22h0M1442.21 795.26h0M1442.46 797.3h0M1442.76 799.34h0M1442.92 801.38h0M1442.65 803.42h0M1444 805.47h0M1443.3 807.51h0M1444.44 809.55h0M1444.69 811.59h0M1444.52 813.63h0M1445.27 815.67h0M1445.26 817.72h0M1445.98 819.76h0M1445.44 821.8h0M1446.82 823.84h0M1446.47 825.88h0M1447.28 827.92h0M1447.19 829.97h0M1447.91 832.01h0M1447.61 834.05h0M1448.22 836.09h0M1103.77 19.45h0M1104.74 21.49h0M1104.56 23.53h0M1104.29 25.57h0M1104.98 27.62h0M1104.98 29.66h0M1105.03 31.7h0M1104.03 33.74h0M1104.82 35.78h0M1104.9 37.82h0M1104.8 39.87h0M1104.16 41.91h0M1105.31 43.95h0M1104.8 45.99h0M1105.06 48.03h0M1105.41 50.07h0M1105.31 52.12h0M1105.57 54.16h0M1107.2 56.2h0M1106.99 58.24h0M1107.3 60.28h0M1109.59 62.32h0M1112.83 64.37h0M1114.79 66.41h0M1116.46 68.45h0M1118.72 70.49h0M1121.66 72.53h0M1123.41 74.57h0M1125.34 76.61h0M1126.82 78.66h0M1129.16 80.7h0M1131.28 82.74h0M1131.59 84.78h0M1133.5 86.82h0M1134.45 88.86h0M1136.95 90.91h0M1138.26 92.95h0M1141.66 94.99h0M1143.9 97.03h0M1146.15 99.07h0M1147.72 101.11h0M1151.22 103.16h0M1153.68 105.2h0M1156.38 107.24h0M1158.66 109.28h0M1161.78 111.32h0M1164.81 113.36h0M1166.69 115.41h0M1170.26 117.45h0M1172.39 119.49h0M1174.89 121.53h0M1176.63 123.57h0M1178.69 125.61h0M1180.71 127.65h0M1182.42 129.7h0M1184.62 131.74h0M1185.99 133.78h0M1187.83 135.82h0M1190.25 137.86h0M1191.17 139.9h0M1192.79 141.95h0M1195.11 143.99h0M1197.04 146.03h0M1198.76 148.07h0M1201.08 150.11h0M1202.58 152.15h0M1205.6 154.2h0M1207.04 156.24h0M1209.47 158.28h0M1211.22 160.32h0M1213.21 162.36h0M1215.2 164.4h0M1216.6 166.45h0M1219.05 168.49h0M1220.36 170.53h0M1222.71 172.57h0M1224.08 174.61h0M1225.61 176.65h0M1226.19 178.69h0M1227.7 180.74h0M1229.56 182.78h0M1230.82 184.82h0M1232.3 186.86h0M1232.53 188.9h0M1233.9 190.94h0M1235.02 192.99h0M1237 195.03h0M1238.27 197.07h0M1239.39 199.11h0M1240.78 201.15h0M1241.7 203.19h0M1242.99 205.24h0M1244.66 207.28h0M1245.57 209.32h0M1246.83 211.36h0M1248 213.4h0M1249.15 215.44h0M1250.74 217.49h0M1251.8 219.53h0M1252.56 221.57h0M1254.23 223.61h0M1255.39 225.65h0M1256.59 227.69h0M1257.94 229.73h0M1258.91 231.78h0M1260.16 233.82h0M1261.44 235.86h0M1262.62 237.9h0M1264.59 239.94h0M1264.8 241.98h0M1265.98 244.03h0M1268.11 246.07h0M1269 248.11h0M1270.34 250.15h0M1271.8 252.19h0M1272.81 254.23h0M1273.94 256.28h0M1274.94 258.32h0M1277.24 260.36h0M1278.57 262.4h0M1279.03 264.44h0M1280.48 266.48h0M1281.54 268.53h0M1282.43 270.57h0M1284.62 272.61h0M1285.74 274.65h0M1286.25 276.69h0M1287.49 278.73h0M1289.23 280.77h0M1290.55 282.82h0M1291.35 284.86h0M1292.43 286.9h0M1293.43 288.94h0M1295.29 290.98h0M1296.55 293.02h0M1297.73 295.07h0M1298.03 297.11h0M1299.81 299.15h0M1301.49 301.19h0M1302.39 303.23h0M1303.32 305.27h0M1304.2 307.32h0M1305.37 309.36h0M1307.46 311.4h0M1307.98 313.44h0M1310.19 315.48h0M1311.37 317.52h0M1312.5 319.57h0M1314.39 321.61h0M1315.83 323.65h0M1316.87 325.69h0M1317.64 327.73h0M1319.62 329.77h0M1320.81 331.81h0M1322 333.86h0M1324.2 335.9h0M1325.34 337.94h0M1325.98 339.98h0M1327.46 342.02h0M1328.94 344.06h0M1330.54 346.11h0M1331.55 348.15h0M1332.98 350.19h0M1334.7 352.23h0M1335.2 354.27h0M1337.08 356.31h0M1337.82 358.36h0M1339.76 360.4h0M1340.95 362.44h0M1341.36 364.48h0M1342.85 366.52h0M1343.4 368.56h0M1344.89 370.61h0M1346.27 372.65h0M1347.4 374.69h0M1348.16 376.73h0M1348.35 378.77h0M1349.02 380.81h0M1350.1 382.85h0M1350.21 384.9h0M1350.94 386.94h0M1351.9 388.98h0M1352.83 391.02h0M1352.97 393.06h0M1353.27 395.1h0M1354.28 397.15h0M1354.54 399.19h0M1355.79 401.23h0M1355.69 403.27h0M1356.48 405.31h0M1357.36 407.35h0M1358.59 409.4h0M1358.38 411.44h0M1359.1 413.48h0M1359.71 415.52h0M1360.5 417.56h0M1361.33 419.6h0M1362.09 421.65h0M1363.21 423.69h0M1363.47 425.73h0M1364.24 427.77h0M1364.84 429.81h0M1366 431.85h0M1366.85 433.89h0M1366.97 435.94h0M1368.25 437.98h0M1368.13 440.02h0M1369.68 442.06h0M1369.81 444.1h0M1370.66 446.14h0M1370.96 448.19h0M1371.48 450.23h0M1371.97 452.27h0M1373.51 454.31h0M1373.51 456.35h0M1374.55 458.39h0M1374.9 460.44h0M1375.6 462.48h0M1375.84 464.52h0M1376.42 466.56h0M1377.23 468.6h0M1378.27 470.64h0M1378.72 472.69h0M1378.69 474.73h0M1380.17 476.77h0M1380.46 478.81h0M1380.44 480.85h0M1381.1 482.89h0M1381.47 484.93h0M1382.64 486.98h0M1382.76 489.02h0M1382.94 491.06h0M1383.3 493.1h0M1383.81 495.14h0M1384.27 497.18h0M1384.82 499.23h0M1385.83 501.27h0M1386.31 503.31h0M1386.69 505.35h0M1387.41 507.39h0M1387.62 509.43h0M1387.46 511.48h0M1387.87 513.52h0M1388.51 515.56h0M1389.12 517.6h0M1389.93 519.64h0M1390.77 521.68h0M1390.97 523.73h0M1391.27 525.77h0M1391.53 527.81h0M1392.89 529.85h0M1393.07 531.89h0M1393.02 533.93h0M1393.11 535.97h0M1394.68 538.02h0M1394.25 540.06h0M1395.39 542.1h0M1394.95 544.14h0M1396.02 546.18h0M1396.09 548.22h0M1397.16 550.27h0M1396.87 552.31h0M1397.06 554.35h0M1397.59 556.39h0M1398.74 558.43h0M1399.37 560.47h0M1399.39 562.52h0M1399.86 564.56h0M1399.81 566.6h0M1400.22 568.64h0M1400.43 570.68h0M1401.94 572.72h0M1401.25 574.77h0M1402.37 576.81h0M1402.5 578.85h0M1402.75 580.89h0M1403.5 582.93h0M1404.55 584.97h0M1404.19 587.01h0M1404.56 589.06h0M1405.58 591.1h0M1406.09 593.14h0M1406.39 595.18h0M1406.47 597.22h0M1407.78 599.26h0M1407.34 601.31h0M1407.9 603.35h0M1408.46 605.39h0M1409.26 607.43h0M1409.7 609.47h0M1410.27 611.51h0M1410.95 613.56h0M1411.63 615.6h0M1411.59 617.64h0M1411.54 619.68h0M1412.95 621.72h0M1412.43 623.76h0M1413.25 625.81h0M1413.49 627.85h0M1414.49 629.89h0M1415.15 631.93h0M1414.72 633.97h0M1415.28 636.01h0M1416.3 638.05h0M1416.46 640.1h0M1416.11 642.14h0M1417.15 644.18h0M1417.63 646.22h0M1417.51 648.26h0M1417.55 650.3h0M1418.5 652.35h0M1418.44 654.39h0M1418.56 656.43h0M1418.95 658.47h0M1419.58 660.51h0M1419.6 662.55h0M1420.27 664.6h0M1420.82 666.64h0M1421.19 668.68h0M1421.37 670.72h0M1422.21 672.76h0M1421.73 674.8h0M1422.39 676.85h0M1423.49 678.89h0M1423.78 680.93h0M1424.23 682.97h0M1424.42 685.01h0M1424.53 687.05h0M1425.21 689.09h0M1425.34 691.14h0M1425.17 693.18h0M1425.72 695.22h0M1425.91 697.26h0M1427.22 699.3h0M1426.94 701.34h0M1427.42 703.39h0M1427.95 705.43h0M1427.79 707.47h0M1428.89 709.51h0M1429.36 711.55h0M1429.72 713.59h0M1430.18 715.64h0M1429.86 717.68h0M1430 719.72h0M1431.09 721.76h0M1431.35 723.8h0M1431.31 725.84h0M1431.62 727.89h0M1431.73 729.93h0M1432.88 731.97h0M1432.77 734.01h0M1433.48 736.05h0M1433.21 738.09h0M1433.48 740.13h0M1434 742.18h0M1434.57 744.22h0M1435.03 746.26h0M1434.68 748.3h0M1435.39 750.34h0M1435.34 752.38h0M1436.19 754.43h0M1436.37 756.47h0M1436.43 758.51h0M1436.5 760.55h0M1436.71 762.59h0M1437.76 764.63h0M1437.97 766.68h0M1437.7 768.72h0M1437.75 770.76h0M1438.21 772.8h0M1439.46 774.84h0M1438.68 776.88h0M1439.94 778.93h0M1439.93 780.97h0M1440.29 783.01h0M1440.61 785.05h0M1440.78 787.09h0M1441.29 789.13h0M1441.06 791.17h0M1442.39 793.22h0M1441.74 795.26h0M1442.11 797.3h0M1443.08 799.34h0M1443.36 801.38h0M1443.88 803.42h0M1444.06 805.47h0M1444.66 807.51h0M1443.92 809.55h0M1444.19 811.59h0M1444.77 813.63h0M1445.72 815.67h0M1445.28 817.72h0M1446.04 819.76h0M1446.62 821.8h0M1446.19 823.84h0M1446.94 825.88h0M1447.68 827.92h0M1447.8 829.97h0M1447.68 832.01h0M1448.08 834.05h0M1448.15 836.09h0M1104.89 19.45h0M1104.52 21.49h0M1105.12 23.53h0M1104.92 25.57h0M1105.39 27.62h0M1104.97 29.66h0M1105.7 31.7h0M1105.58 33.74h0M1105.41 35.78h0M1105.66 37.82h0M1106.07 39.87h0M1105.86 41.91h0M1106.5 43.95h0M1105.48 45.99h0M1106.66 48.03h0M1106.56 50.07h0M1106.93 52.12h0M1108.01 54.16h0M1107.78 56.2h0M1108.61 58.24h0M1109.66 60.28h0M1112.39 62.32h0M1114.45 64.37h0M1117.79 66.41h0M1119.98 68.45h0M1121.85 70.49h0M1123.95 72.53h0M1125.89 74.57h0M1128.48 76.61h0M1130.19 78.66h0M1132.05 80.7h0M1133.35 82.74h0M1134 84.78h0M1136.1 86.82h0M1137.15 88.86h0M1137.96 90.91h0M1140 92.95h0M1142.04 94.99h0M1144.62 97.03h0M1146.56 99.07h0M1149.58 101.11h0M1152.33 103.16h0M1154.84 105.2h0M1157.74 107.24h0M1159.64 109.28h0M1162.5 111.32h0M1165.58 113.36h0M1168.13 115.41h0M1171.31 117.45h0M1174.82 119.49h0M1177.48 121.53h0M1179.49 123.57h0M1180.46 125.61h0M1182.31 127.65h0M1183.93 129.7h0M1186.08 131.74h0M1187.66 133.78h0M1190.03 135.82h0M1191.56 137.86h0M1193.81 139.9h0M1195.47 141.95h0M1197.45 143.99h0M1199.03 146.03h0M1201.48 148.07h0M1203.36 150.11h0M1205.32 152.15h0M1206.97 154.2h0M1208.89 156.24h0M1210.57 158.28h0M1212.15 160.32h0M1214.53 162.36h0M1216.58 164.4h0M1217.92 166.45h0M1220.59 168.49h0M1222.47 170.53h0M1224.29 172.57h0M1225.51 174.61h0M1226.38 176.65h0M1227.27 178.69h0M1228.65 180.74h0M1230.48 182.78h0M1232.04 184.82h0M1232.27 186.86h0M1233.42 188.9h0M1235.13 190.94h0M1236.42 192.99h0M1238.01 195.03h0M1238.74 197.07h0M1240.94 199.11h0M1241.66 201.15h0M1243.69 203.19h0M1244.34 205.24h0M1245.67 207.28h0M1246.88 209.32h0M1249.2 211.36h0M1250.13 213.4h0M1251.8 215.44h0M1252.27 217.49h0M1254.24 219.53h0M1255.86 221.57h0M1257.56 223.61h0M1258.77 225.65h0M1259.03 227.69h0M1260.61 229.73h0M1262.62 231.78h0M1263.3 233.82h0M1265.05 235.86h0M1265.43 237.9h0M1266.38 239.94h0M1268.69 241.98h0M1269.07 244.03h0M1270.61 246.07h0M1271.54 248.11h0M1272.96 250.15h0M1274.54 252.19h0M1275.7 254.23h0M1276.75 256.28h0M1277.13 258.32h0M1278.93 260.36h0M1279.08 262.4h0M1280.67 264.44h0M1282.42 266.48h0M1282.71 268.53h0M1283.97 270.57h0M1285.36 272.61h0M1286.09 274.65h0M1287.86 276.69h0M1289.02 278.73h0M1289.59 280.77h0M1291.83 282.82h0M1292.09 284.86h0M1294.13 286.9h0M1295.03 288.94h0M1296.11 290.98h0M1297.39 293.02h0M1299.86 295.07h0M1301.01 297.11h0M1302 299.15h0M1303.82 301.19h0M1305.46 303.23h0M1306.85 305.27h0M1307.82 307.32h0M1308.96 309.36h0M1310.71 311.4h0M1312.71 313.44h0M1313.86 315.48h0M1315.23 317.52h0M1316.87 319.57h0M1317.78 321.61h0M1319.37 323.65h0M1321.11 325.69h0M1321.6 327.73h0M1323.65 329.77h0M1323.88 331.81h0M1325.7 333.86h0M1326.94 335.9h0M1327.59 337.94h0M1329.68 339.98h0M1330.24 342.02h0M1331.07 344.06h0M1332.46 346.11h0M1333.79 348.15h0M1334.7 350.19h0M1335.29 352.23h0M1336.5 354.27h0M1338.36 356.31h0M1338.77 358.36h0M1340.03 360.4h0M1341.82 362.44h0M1343.01 364.48h0M1344.18 366.52h0M1344.48 368.56h0M1345.44 370.61h0M1347.52 372.65h0M1348.52 374.69h0M1349.43 376.73h0M1349.67 378.77h0M1350.82 380.81h0M1351.26 382.85h0M1352.35 384.9h0M1353.5 386.94h0M1353.26 388.98h0M1353.78 391.02h0M1355.2 393.06h0M1355.18 395.1h0M1356 397.15h0M1356.93 399.19h0M1358.18 401.23h0M1357.99 403.27h0M1358.58 405.31h0M1359.37 407.35h0M1359.59 409.4h0M1360.48 411.44h0M1361.44 413.48h0M1361.59 415.52h0M1362.76 417.56h0M1362.62 419.6h0M1363.12 421.65h0M1364.35 423.69h0M1364.74 425.73h0M1365.9 427.77h0M1365.61 429.81h0M1367.06 431.85h0M1367.64 433.89h0M1367.95 435.94h0M1368.29 437.98h0M1369.5 440.02h0M1370.3 442.06h0M1370.58 444.1h0M1371.2 446.14h0M1372.08 448.19h0M1372.61 450.23h0M1373.02 452.27h0M1373.36 454.31h0M1374.33 456.35h0M1375.07 458.39h0M1376.13 460.44h0M1376.9 462.48h0M1377.03 464.52h0M1377.41 466.56h0M1377.95 468.6h0M1379.11 470.64h0M1379.92 472.69h0M1380.01 474.73h0M1381.23 476.77h0M1382.29 478.81h0M1382.03 480.85h0M1383.15 482.89h0M1383.02 484.93h0M1383.75 486.98h0M1384.47 489.02h0M1384.14 491.06h0M1384.78 493.1h0M1386.01 495.14h0M1385.37 497.18h0M1386.12 499.23h0M1386.78 501.27h0M1387.56 503.31h0M1387.87 505.35h0M1388.67 507.39h0M1388.8 509.43h0M1388.43 511.48h0M1388.95 513.52h0M1389.33 515.56h0M1390.23 517.6h0M1390.17 519.64h0M1391.19 521.68h0M1391.74 523.73h0M1391.64 525.77h0M1392.85 527.81h0M1392.74 529.85h0M1393.8 531.89h0M1393.49 533.93h0M1394.21 535.97h0M1394.53 538.02h0M1394.61 540.06h0M1395.64 542.1h0M1395.13 544.14h0M1395.85 546.18h0M1396.36 548.22h0M1397.46 550.27h0M1397.44 552.31h0M1397.32 554.35h0M1398.07 556.39h0M1398.89 558.43h0M1399.58 560.47h0M1399.2 562.52h0M1400.46 564.56h0M1400.46 566.6h0M1401.09 568.64h0M1401.43 570.68h0M1401.92 572.72h0M1403.06 574.77h0M1403.45 576.81h0M1403.92 578.85h0M1404.18 580.89h0M1404.61 582.93h0M1404.41 584.97h0M1404.76 587.01h0M1406.18 589.06h0M1406.46 591.1h0M1406.88 593.14h0M1406.96 595.18h0M1407.36 597.22h0M1408.6 599.26h0M1408.59 601.31h0M1408.42 603.35h0M1409.25 605.39h0M1409.7 607.43h0M1409.8 609.47h0M1411.33 611.51h0M1411.67 613.56h0M1411.99 615.6h0M1411.45 617.64h0M1412.37 619.68h0M1412.43 621.72h0M1413.6 623.76h0M1414.12 625.81h0M1414.53 627.85h0M1414.96 629.89h0M1414.58 631.93h0M1414.81 633.97h0M1415.26 636.01h0M1416.52 638.05h0M1416.87 640.1h0M1416.86 642.14h0M1416.89 644.18h0M1418.01 646.22h0M1417.5 648.26h0M1418.13 650.3h0M1418.12 652.35h0M1419.68 654.39h0M1419.39 656.43h0M1420.21 658.47h0M1420.63 660.51h0M1420.76 662.55h0M1421.64 664.6h0M1421.78 666.64h0M1422.35 668.68h0M1422.79 670.72h0M1422.1 672.76h0M1423.26 674.8h0M1422.99 676.85h0M1423.47 678.89h0M1423.85 680.93h0M1424.99 682.97h0M1424.23 685.01h0M1425.04 687.05h0M1425.03 689.09h0M1426.44 691.14h0M1426.2 693.18h0M1426.8 695.22h0M1426.94 697.26h0M1427.6 699.3h0M1427.44 701.34h0M1427.9 703.39h0M1428.65 705.43h0M1428.96 707.47h0M1429.55 709.51h0M1429.2 711.55h0M1430.18 713.59h0M1430.38 715.64h0M1430.52 717.68h0M1430.66 719.72h0M1431.19 721.76h0M1430.94 723.8h0M1431.3 725.84h0M1431.9 727.89h0M1432.03 729.93h0M1432.28 731.97h0M1433.44 734.01h0M1433.77 736.05h0M1433.95 738.09h0M1433.77 740.13h0M1434.71 742.18h0M1435.16 744.22h0M1435.24 746.26h0M1435.09 748.3h0M1435.82 750.34h0M1435.95 752.38h0M1436.13 754.43h0M1436.31 756.47h0M1437.5 758.51h0M1437.56 760.55h0M1438.25 762.59h0M1437.66 764.63h0M1438.1 766.68h0M1438.72 768.72h0M1438.5 770.76h0M1439.11 772.8h0M1439.72 774.84h0M1439.96 776.88h0M1440.79 778.93h0M1440.7 780.97h0M1441.08 783.01h0M1441.32 785.05h0M1441.87 787.09h0M1441.66 789.13h0M1441.52 791.17h0M1442.99 793.22h0M1443.06 795.26h0M1442.56 797.3h0M1442.83 799.34h0M1443.26 801.38h0M1444.07 803.42h0M1443.74 805.47h0M1443.9 807.51h0M1444.76 809.55h0M1444.47 811.59h0M1445.07 813.63h0M1445.52 815.67h0M1445.62 817.72h0M1445.68 819.76h0M1446.3 821.8h0M1446.59 823.84h0M1447.01 825.88h0M1447.43 827.92h0M1447.69 829.97h0M1447.98 832.01h0M1447.94 834.05h0M1449.25 836.09h0M1120 57.98h0M1126 59.98h0M1132 61.98h0M1128 65.98h0M1134 67.98h0M1138 63.98h0M1122 63.98h0M1117 61.98h0M1098 74.98h0M1100 79.97h0M1104 85.97h0M1110 87.97h0M1117 89.97h0M1100 59.98h0M1106 59.98h0M1112 61.98h0M1106 65.98h0M1112 66.98h0M1118 67.98h0M1124 69.98h0M1128 73.98h0M1107 71.98h0M1113 73.98h0M1119 75.98h0M1125 78.97h0M1131 81.97h0M1108 83.97h0M1116 80.97h0M1123 83.97h0M1134 87.97h0M1138 91.97h0M1125 89.97h0M1100 56.98h0M1103 61.98h0M1110 57.98h0M1116 59.98h0M1121 62.98h0M1126 63.98h0M1131 66.98h0M1133 61.98h0M1136 69.98h0M1139 74.98h0M1141 79.97h0M1101 65.98h0M1101 71.98h0M1104 77.97h0M1109 80.97h0M1113 84.97h0M1118 85.97h0M1121 88.97h0M1128 91.97h0M1131 94.97h0M1144 82.97h0M1146 89.97h0" stroke="#00ffff" stroke-width="7.2" stroke-linecap="round" fill="none"/>
<polyline points="1100.5,29.66 1103.5,50.07 1117.5,70.49 1141,90.91 1163,111.32 1182.5,131.74 1201.3,152.15 1221.4,172.57 1234.3,192.99 1247.3,213.4 1254.7,233.82 1266,254.23 1278.3,274.65 1293.2,295.07 1306.6,315.48 1320.1,335.9 1331.4,356.31 1341.3,376.73 1351.5,397.15 1359.7,417.56 1366,437.98 1372.8,458.39 1379.1,478.81 1384.4,499.23 1389.7,519.64 1394.5,540.06 1399.3,560.47 1403.6,580.89 1407.3,601.31 1412,621.72 1415.3,642.14 1419.3,662.55 1422.9,682.97 1426.5,703.39 1430.9,723.8 1433.8,744.22 1437.5,764.63 1441.1,785.05 1444.4,805.47 1448.4,825.88" stroke="#0000ff" stroke-width="2.6" fill="none" stroke-linejoin="round"/>
<path d="M1100.5 29.66h0M1103.5 50.07h0M1117.5 70.49h0M1141 90.91h0M1163 111.32h0M1182.5 131.74h0M1201.3 152.15h0M1221.4 172.57h0M1234.3 192.99h0M1247.3 213.4h0M1254.7 233.82h0M1266 254.23h0M1278.3 274.65h0M1293.2 295.07h0M1306.6 315.48h0M1320.1 335.9h0M1331.4 356.31h0M1341.3 376.73h0M1351.5 397.15h0M1359.7 417.56h0M1366 437.98h0M1372.8 458.39h0M1379.1 478.81h0M1384.4 499.23h0M1389.7 519.64h0M1394.5 540.06h0M1399.3 560.47h0M1403.6 580.89h0M1407.3 601.31h0M1412 621.72h0M1415.3 642.14h0M1419.3 662.55h0M1422.9 682.97h0M1426.5 703.39h0M1430.9 723.8h0M1433.8 744.22h0M1437.5 764.63h0M1441.1 785.05h0M1444.4 805.47h0M1448.4 825.88h0" stroke="#0000ff" stroke-width="12.15" stroke-linecap="round" fill="none"/>
<polyline points="1095.3,19.45 1095.5,23.53 1095.8,27.62 1096.1,31.7 1096.5,35.78 1097,39.87 1097.8,43.95 1098.9,50.07 1102.1,60.28 1106,70.49 1121.9,80.7 1136.3,90.91 1148.3,101.11 1157,111.32 1166.5,121.53 1185.3,141.95 1204.4,162.36 1223.7,182.78 1238.3,203.19 1253.2,223.61 1281,274.65 1306,325.69 1356.5,427.77 1388.4,529.85 1409.5,631.93 1430.5,734.01 1447.5,836.09" stroke="#ff0000" stroke-width="2.6" fill="none" stroke-linejoin="round"/>
<path d="M1095.3 19.45h0M1095.5 23.53h0M1095.8 27.62h0M1096.1 31.7h0M1096.5 35.78h0M1097 39.87h0M1097.8 43.95h0M1098.9 50.07h0M1102.1 60.28h0M1106 70.49h0M1121.9 80.7h0M1136.3 90.91h0M1148.3 101.11h0M1157 111.32h0M1166.5 121.53h0M1185.3 141.95h0M1204.4 162.36h0M1223.7 182.78h0M1238.3 203.19h0M1253.2 223.61h0M1281 274.65h0M1306 325.69h0M1356.5 427.77h0M1388.4 529.85h0M1409.5 631.93h0M1430.5 734.01h0M1447.5 836.09h0" stroke="#ff0000" stroke-width="12.15" stroke-linecap="round" fill="none"/>
<polyline points="1105.2,19.45 1105.5,23.53 1106,27.62 1106.5,31.7 1107,35.78 1107.5,39.87 1108.1,43.95 1109,50.07 1110.3,60.28 1113.4,70.49 1132.4,80.7 1147.3,90.91 1158.5,101.11 1169.5,111.32 1180.8,121.53 1200.2,141.95 1217.8,162.36 1233.2,182.78 1242.6,203.19 1251,223.61 1282.2,274.65 1306.6,325.69 1354.4,427.77 1388,529.85 1409.1,631.93 1429.1,734.01 1446.2,836.09" stroke="#ffa500" stroke-width="2.6" fill="none" stroke-linejoin="round"/>
<path d="M1105.2 19.45h0M1105.5 23.53h0M1106 27.62h0M1106.5 31.7h0M1107 35.78h0M1107.5 39.87h0M1108.1 43.95h0M1109 50.07h0M1110.3 60.28h0M1113.4 70.49h0M1132.4 80.7h0M1147.3 90.91h0M1158.5 101.11h0M1169.5 111.32h0M1180.8 121.53h0M1200.2 141.95h0M1217.8 162.36h0M1233.2 182.78h0M1242.6 203.19h0M1251 223.61h0M1282.2 274.65h0M1306.6 325.69h0M1354.4 427.77h0M1388 529.85h0M1409.1 631.93h0M1429.1 734.01h0M1446.2 836.09h0" stroke="#ffa500" stroke-width="12.15" stroke-linecap="round" fill="none"/>
</g>
<rect x="1072.5" y="19.45" width="402" height="817" fill="none" stroke="#000" stroke-width="1.39"/>
<path d="M1121.5 836.45v6.08M1220.5 836.45v6.08M1318.5 836.45v6.08M1417.5 836.45v6.08M1072.5 19.5h-6.08M1072.5 70.5h-6.08M1072.5 121.5h-6.08M1072.5 172.5h-6.08M1072.5 223.5h-6.08M1072.5 274.5h-6.08M1072.5 325.5h-6.08M1072.5 376.5h-6.08M1072.5 427.5h-6.08M1072.5 478.5h-6.08M1072.5 529.5h-6.08M1072.5 580.5h-6.08M1072.5 631.5h-6.08M1072.5 682.5h-6.08M1072.5 734.5h-6.08M1072.5 785.5h-6.08" stroke="#000" stroke-width="1.39" fill="none"/>
<text x="1120.9" y="862.8" class="tk" text-anchor="middle">1022</text>
<text x="1219.9" y="862.8" class="tk" text-anchor="middle">1024</text>
<text x="1317.9" y="862.8" class="tk" text-anchor="middle">1026</text>
<text x="1416.9" y="862.8" class="tk" text-anchor="middle">1028</text>
<text y="892.6" class="lb"><tspan x="178.6" textLength="183.3" lengthAdjust="spacing">Temperature (</tspan><tspan x="362.3" y="883.4" font-weight="normal" font-style="italic" font-size="16px">o</tspan><tspan x="372.6" y="892.6" font-weight="normal" font-style="italic">C</tspan><tspan x="387.7">)</tspan></text>
<text x="780" y="892.6" class="lb" text-anchor="middle">Salinity</text>
<text x="1272.5" y="892.6" class="lb" text-anchor="middle">Density (kg m-3)</text>
<text class="lb" text-anchor="middle" transform="translate(29.9 428.7) rotate(-90)">Depth (m)</text>
<text x="789.3" y="918.1" class="oh" text-anchor="middle" xml:space="preserve">Ocean Heat Content (kJ/cm^2) - Glider: 108.8397,  RTOFS: 132.6537,  RTOFS (Parallel): 107.0700,</text>
<text x="1524.2" y="36.8" class="lb">Comparison Date: 2024-09-17</text>
<text x="1524.2" y="89.8" class="lb">Glider: SG610</text>
<text x="1524.2" y="116" class="lb">Profiles: 6</text>
<text x="1524.2" y="143" class="lb">First: 2024-09-17 02:09:11</text>
<text x="1524.2" y="169.5" class="lb">Last: 2024-09-17 14:11:15</text>
<text x="1524.2" y="196" class="lb">Method: Nearest-Neighbor</text>
<rect x="1634.2" y="683.2" width="260.7" height="109.3" rx="4.5" fill="#fff" fill-opacity="0.8" stroke="#d6d6d6" stroke-width="1.74"/>
<path d="M1642.2 702.5H1690.9" stroke="#0000ff" stroke-width="2.6"/>
<circle cx="1666.5" cy="702.5" r="6.08" fill="#0000ff"/>
<text x="1707.2" y="710.7" class="lg">SG610</text>
<path d="M1642.2 736.85H1690.9" stroke="#ff0000" stroke-width="2.6"/>
<circle cx="1666.5" cy="736.85" r="6.08" fill="#ff0000"/>
<text x="1707.2" y="745.05" class="lg">RTOFS</text>
<path d="M1642.2 771.2H1690.9" stroke="#ffa500" stroke-width="2.6"/>
<circle cx="1666.5" cy="771.2" r="6.08" fill="#ffa500"/>
<text x="1707.2" y="779.4" class="lg">RTOFS (Parallel)</text>
<clipPath id="mc"><rect x="1564.4" y="313.4" width="401.9" height="228.9"/></clipPath>
<g clip-path="url(#mc)">
<rect x="1564.4" y="313.4" width="401.9" height="228.9" fill="#6495ed"/>
<path d="M1560 319.8 L1588 319.8 L1589.4 334 L1591.3 346 L1560 348ZM1592 349 L1595.5 354 L1593.5 364 L1589 376 L1585 389 L1581 402 L1577.5 414 L1575 421 L1571 420 L1575 400 L1580 380 L1586 366ZM1566 421 L1580 418 L1598 416 L1612 418 L1612 424 L1580 426ZM1636 336 L1658 333 L1668 338 L1667 346 L1648 351 L1636 348ZM1684 345 L1700 347 L1713 357 L1713 369 L1702 366 L1690 356ZM1668 323 L1690 328 L1712 337 L1736 350 L1756 361 L1745 355 L1720 342 L1695 331ZM1692.7 319.8 L1733.2 319.8 L1737.1 340.7 L1725.3 342 L1712.3 336.7 L1699.2 328.9ZM1740 319.8 L1752 319.8 L1760 330 L1770 340 L1784 339 L1796 341 L1802 350 L1796 358 L1780 360 L1766 357 L1758 350 L1750 338 L1744 328ZM1630 412 L1650 408 L1672 405 L1686 407 L1690 418 L1678 428 L1668 434 L1662 448 L1660 460 L1653 472 L1645 484 L1638 488 L1632 478 L1634 455 L1636 437 L1625 426ZM1689 399 L1700 398 L1712 402 L1720 407 L1712 412 L1698 412 L1690 408ZM1560 458 L1573.4 458.8 L1581.4 461.5 L1589.4 470.9 L1597.5 480.2 L1605.5 489.6 L1605.5 495 L1613.5 503 L1624.2 511 L1635 519 L1645.7 524.4 L1653.7 527.1 L1659 533.8 L1667 533.8 L1669.8 539.1 L1672 545 L1660 545 L1656.5 537.5 L1649 531.5 L1638 526.5 L1628 519.5 L1617 512.5 L1608 505 L1601.5 496 L1595 488 L1584 473.5 L1572 468 L1560 467.5ZM1680 517 L1687 516 L1694 523 L1702 530 L1712 545 L1690 545 L1684 532ZM1645 505 L1660 510 L1677.8 505.7 L1693.9 505.7 L1707.2 511 L1714 515 L1723.3 507 L1731.3 497.6 L1738 491 L1747.4 484.2 L1758.1 481.6 L1770 478.9 L1770 484 L1755 488 L1740 497 L1726 518 L1711 518 L1695 509 L1670 516 L1653 513ZM1760 480.2 L1770.7 470.9 L1784.1 465.5 L1800.2 462.8 L1813.5 470.9 L1826.9 478.9 L1837.6 489.6 L1847 486.9 L1860.4 484.2 L1873.8 482.9 L1887.2 478.9 L1893.9 477.6 L1907.2 478.9 L1920.6 480.2 L1931.3 484.2 L1938 489.6 L1947.4 500.3 L1954.1 511 L1964.8 521.7 L1970 530 L1970 545 L1950 545 L1930 520 L1900 500 L1850 498 L1800 490 L1770 488ZM1903 494 L1921 493 L1921 502 L1910 504ZM1884 387 L1898 388 L1912 396 L1922 406 L1928 416 L1931 430 L1933 445 L1932 460 L1928 472 L1922 482 L1915 481 L1919 468 L1922 455 L1922 440 L1918 426 L1910 417 L1898 410 L1888 402ZM1940 449 L1947 450 L1949 462 L1946 466 L1941 463ZM1764 369.5 L1780 367.5 L1795 367 L1805 369 L1813 371.5 L1818 376.5 L1828 380 L1834 384 L1842 387.5 L1852 386.5 L1868 386.5 L1884 383.5 L1889 387 L1880 393 L1868 398.5 L1850 400 L1836 396 L1826 395.5 L1810 394 L1797 396.5 L1791 404.5 L1786 396 L1770 395.5 L1755 395.5 L1750.5 390 L1756 386 L1766 384 L1770 375ZM1808 357 L1816 358 L1820 363 L1812 364ZM1830 383 L1842 382 L1845 392 L1834 394Z" fill="#97b4e3" stroke="#97b4e3" stroke-width="9" stroke-linejoin="round"/>
<path d="M1560 319.8 L1588 319.8 L1589.4 334 L1591.3 346 L1560 348ZM1592 349 L1595.5 354 L1593.5 364 L1589 376 L1585 389 L1581 402 L1577.5 414 L1575 421 L1571 420 L1575 400 L1580 380 L1586 366ZM1566 421 L1580 418 L1598 416 L1612 418 L1612 424 L1580 426ZM1636 336 L1658 333 L1668 338 L1667 346 L1648 351 L1636 348ZM1684 345 L1700 347 L1713 357 L1713 369 L1702 366 L1690 356ZM1668 323 L1690 328 L1712 337 L1736 350 L1756 361 L1745 355 L1720 342 L1695 331ZM1692.7 319.8 L1733.2 319.8 L1737.1 340.7 L1725.3 342 L1712.3 336.7 L1699.2 328.9ZM1740 319.8 L1752 319.8 L1760 330 L1770 340 L1784 339 L1796 341 L1802 350 L1796 358 L1780 360 L1766 357 L1758 350 L1750 338 L1744 328ZM1630 412 L1650 408 L1672 405 L1686 407 L1690 418 L1678 428 L1668 434 L1662 448 L1660 460 L1653 472 L1645 484 L1638 488 L1632 478 L1634 455 L1636 437 L1625 426ZM1689 399 L1700 398 L1712 402 L1720 407 L1712 412 L1698 412 L1690 408ZM1560 458 L1573.4 458.8 L1581.4 461.5 L1589.4 470.9 L1597.5 480.2 L1605.5 489.6 L1605.5 495 L1613.5 503 L1624.2 511 L1635 519 L1645.7 524.4 L1653.7 527.1 L1659 533.8 L1667 533.8 L1669.8 539.1 L1672 545 L1660 545 L1656.5 537.5 L1649 531.5 L1638 526.5 L1628 519.5 L1617 512.5 L1608 505 L1601.5 496 L1595 488 L1584 473.5 L1572 468 L1560 467.5ZM1680 517 L1687 516 L1694 523 L1702 530 L1712 545 L1690 545 L1684 532ZM1645 505 L1660 510 L1677.8 505.7 L1693.9 505.7 L1707.2 511 L1714 515 L1723.3 507 L1731.3 497.6 L1738 491 L1747.4 484.2 L1758.1 481.6 L1770 478.9 L1770 484 L1755 488 L1740 497 L1726 518 L1711 518 L1695 509 L1670 516 L1653 513ZM1760 480.2 L1770.7 470.9 L1784.1 465.5 L1800.2 462.8 L1813.5 470.9 L1826.9 478.9 L1837.6 489.6 L1847 486.9 L1860.4 484.2 L1873.8 482.9 L1887.2 478.9 L1893.9 477.6 L1907.2 478.9 L1920.6 480.2 L1931.3 484.2 L1938 489.6 L1947.4 500.3 L1954.1 511 L1964.8 521.7 L1970 530 L1970 545 L1950 545 L1930 520 L1900 500 L1850 498 L1800 490 L1770 488ZM1903 494 L1921 493 L1921 502 L1910 504ZM1884 387 L1898 388 L1912 396 L1922 406 L1928 416 L1931 430 L1933 445 L1932 460 L1928 472 L1922 482 L1915 481 L1919 468 L1922 455 L1922 440 L1918 426 L1910 417 L1898 410 L1888 402ZM1940 449 L1947 450 L1949 462 L1946 466 L1941 463ZM1764 369.5 L1780 367.5 L1795 367 L1805 369 L1813 371.5 L1818 376.5 L1828 380 L1834 384 L1842 387.5 L1852 386.5 L1868 386.5 L1884 383.5 L1889 387 L1880 393 L1868 398.5 L1850 400 L1836 396 L1826 395.5 L1810 394 L1797 396.5 L1791 404.5 L1786 396 L1770 395.5 L1755 395.5 L1750.5 390 L1756 386 L1766 384 L1770 375ZM1808 357 L1816 358 L1820 363 L1812 364ZM1830 383 L1842 382 L1845 392 L1834 394Z" fill="#b0c4de"/>
<rect x="1564.4" y="313.4" width="401.9" height="6.7" fill="#97b4e3"/>
<path d="M1564.4 348.5 L1573.4 347.2 L1584.1 346.8 L1590.8 347.8 L1593.5 351.2 L1592.8 355.9 L1590.8 361.2 L1586.8 367.9 L1582.7 374.6 L1580.7 382.6 L1577.4 388 L1574.7 398.7 L1573.4 409.4 L1572.7 416.1 L1569.5 420.5 L1566.5 422.5 L1573.4 424.7 L1586.8 425.4 L1600.2 424 L1613.5 423.3 L1622.9 425.4 L1630.9 430.7 L1637.6 436.1 L1636.3 446.8 L1634.3 460.2 L1632.3 473.5 L1630.9 484.2 L1633 490.9 L1639 499 L1645.7 507 L1653.7 512.4 L1661.7 517 L1669.8 515 L1677.8 512.4 L1685.8 508.3 L1695.2 508.3 L1704.6 512.4 L1711.3 517.7 L1718 521.7 L1726 517.7 L1734 505.7 L1740.7 496.3 L1747.4 489.6 L1755.4 486.9 L1763.5 484.2 L1770 482.9 L1776.1 481.6 L1781.4 474.9 L1782.8 472.9 L1789.4 470.2 L1794.8 473.5 L1793.5 477.6 L1786.8 480.2 L1785.4 484.2 L1788.1 489.6 L1794.8 488.3 L1804.2 484.2 L1806.5 481 L1805 477 L1806.5 473.8 L1810 472.8 L1812.8 474.8 L1813.2 478.5 L1813.5 482.2 L1821.6 482.9 L1829.6 485.6 L1833.6 493.6 L1840.3 496.3 L1849 495 L1859 493.6 L1864.4 499 L1873.8 501 L1880.5 499 L1887.2 495 L1893.9 493 L1903.2 496.3 L1908.6 503 L1917.9 504.3 L1926 511 L1930 519 L1940.7 523.1 L1950.1 529.8 L1958.1 536.5 L1961.5 541.8 L1966.3 541.8 L1711.3 541.8 L1701.9 529.8 L1693.9 523.1 L1687.2 516.4 L1683.1 517.7 L1680.5 524.4 L1676.5 529.8 L1677.8 537.8 L1669.8 539.1 L1667.1 533.8 L1659 533.8 L1653.7 527.1 L1645.7 524.4 L1635 519 L1624.2 511 L1613.5 503 L1605.5 495 L1605.5 489.6 L1597.5 480.2 L1589.4 470.9 L1581.4 461.5 L1573.4 458.8 L1564.4 458.8ZM1616.2 343.3 L1619.5 339 L1622.7 335.4 L1627.5 332.5 L1633.1 330.2 L1638.5 328 L1644.9 326.3 L1650.5 325 L1656.6 324.3 L1662 323.9 L1670.5 324.3 L1679.6 327.6 L1688.7 332.8 L1699.2 335.4 L1708.3 339.4 L1716.2 345.9 L1725.3 351.1 L1735.8 354.4 L1743.6 357.6 L1751.4 361.6 L1756.7 365.5 L1751.4 368.1 L1741 369.4 L1727.9 369.4 L1717.5 370.7 L1709.6 370.7 L1712.3 366.8 L1716.2 361.6 L1708.3 360.3 L1703.1 356.3 L1700.5 351.1 L1696.6 347.2 L1686.1 345.9 L1673 342.6 L1665 340.7 L1659.3 338 L1659.3 334.1 L1654 332.8 L1644.9 333.5 L1638.4 335.4 L1633.1 340.6 L1627.9 342 L1621.4 344.6ZM1638.5 345 L1643.5 344.5 L1646 347 L1644 349.8 L1639.5 349.5ZM1701.8 390.3 L1709.6 389 L1720.1 391.6 L1727.9 394.9 L1729.9 397.5 L1722.7 398.8 L1716.2 399.4 L1709.6 396.8 L1703.1 394.2ZM1765.4 371.3 L1773.4 368.6 L1780.1 369.9 L1786.8 370.6 L1794.8 369.5 L1802.8 371.7 L1810.9 373.3 L1814.9 378 L1820.2 380 L1826.9 382.6 L1831.6 386.6 L1830.9 390.7 L1825.6 393.3 L1817.6 392 L1809.5 392 L1802.8 393.3 L1796.1 394.4 L1792.1 398.7 L1790.1 402.7 L1788.1 398.7 L1785.4 393.3 L1778.7 392 L1772 392.7 L1765.4 394 L1760 394.7 L1755 393 L1752.5 389.5 L1756 387.5 L1760 388.7 L1768 388 L1777.4 388 L1780.1 385.3 L1776.1 381.3 L1773.4 375.9 L1770.7 373.9 L1765.4 373.3ZM1845.7 390.7 L1853.7 389.3 L1865.7 389.6 L1867.1 393.3 L1864.4 396.7 L1853.7 397.4 L1846.3 397.4ZM1920.3 493 L1927.6 492.3 L1927.6 500.6 L1921 501.2ZM1762.5 354.5 L1766 351.5 L1771.5 350.5 L1772.5 353.5 L1767 355.8Z" fill="#d2b48c"/>
<path d="M1783.4 500.3 L1786.8 496.3 L1790.8 495 L1794.8 500.3 L1796.8 507 L1794.8 513.7 L1789.4 515 L1785.4 511 L1782.8 505.7ZM1595.5 470 L1602 472.5 L1611 478.5 L1618.5 484.5 L1617 488.5 L1608 484.5 L1600 478Z" fill="#b0c4de"/>
<path d="M1788.3 488.5L1788.8 492.5L1789.6 496.5" stroke="#b0c4de" stroke-width="2.6" fill="none"/>
<path d="M1848.3 541.8 L1853 537 L1860 532.5 L1867.1 529.8 L1875 530.5 L1880.5 529.1 L1887 527 L1893.9 525.7 L1900 523.5 L1907.2 521.7 L1913.9 519 L1920 517.5 L1926 516.4M1913.9 519 L1912.5 514 L1913.5 508.5 L1916.5 505.5M1912.8 514.5 L1909 510.5 L1908.5 505.5M1747.4 488.3 L1746.7 500.3 L1750 511 L1756.5 514.5 L1759.4 516.4 L1760.8 527.1 L1760.5 535 L1759.4 541.8M1596 470.5 L1601 474.5 L1606 477.5 L1612 482 L1617 486 L1622 489M1597 455 L1601 456.5 L1606 455 L1610 452" fill="none" stroke="#a3bde6" stroke-width="1.3" stroke-linejoin="round"/>
<path d="M1564.4 432 L1569 429 L1572 425.5M1564.4 446.8 L1573.4 449.4 L1580.1 452.1 L1583 456 L1584 460M1637.6 437.4 L1628 438.5 L1620.2 440.1 L1613.5 444.1 L1604.2 450.8 L1597 453.5 L1593.5 454.8 L1592.1 457.5 L1590 461M1606.5 486.9 L1613 487.5 L1620.2 488.3 L1626 490 L1631 492.3M1644 508 L1642.5 513 L1643.5 518 L1642 523M1715.3 524 L1713.5 529 L1711.3 532.4 L1707 533.5M1782.8 482.9 L1778 487 L1773.4 495 L1769.5 503 L1768 511 L1772 514 L1776.1 517.7 L1778.5 522 L1780.1 527.1 L1779.5 531 L1778.7 535.1 L1782.5 538.5 L1786.8 540.5 L1796 540.5 L1804.2 541M1940.7 524.4 L1936 528.5 L1932.7 532.4 L1931.3 536 L1931.3 539.1 L1936.7 540.5M1789 369.8 L1788 376 L1789.5 381 L1788 386 L1788.5 392.5" fill="none" stroke="#000" stroke-width="1.5" stroke-dasharray="4.5 3" stroke-linejoin="round"/>
<path d="M1564.4 348.5 L1573.4 347.2 L1584.1 346.8 L1590.8 347.8 L1593.5 351.2 L1592.8 355.9 L1590.8 361.2 L1586.8 367.9 L1582.7 374.6 L1580.7 382.6 L1577.4 388 L1574.7 398.7 L1573.4 409.4 L1572.7 416.1 L1569.5 420.5 L1566.5 422.5 L1573.4 424.7 L1586.8 425.4 L1600.2 424 L1613.5 423.3 L1622.9 425.4 L1630.9 430.7 L1637.6 436.1 L1636.3 446.8 L1634.3 460.2 L1632.3 473.5 L1630.9 484.2 L1633 490.9 L1639 499 L1645.7 507 L1653.7 512.4 L1661.7 517 L1669.8 515 L1677.8 512.4 L1685.8 508.3 L1695.2 508.3 L1704.6 512.4 L1711.3 517.7 L1718 521.7 L1726 517.7 L1734 505.7 L1740.7 496.3 L1747.4 489.6 L1755.4 486.9 L1763.5 484.2 L1770 482.9 L1776.1 481.6 L1781.4 474.9 L1782.8 472.9 L1789.4 470.2 L1794.8 473.5 L1793.5 477.6 L1786.8 480.2 L1785.4 484.2 L1788.1 489.6 L1794.8 488.3 L1804.2 484.2 L1806.5 481 L1805 477 L1806.5 473.8 L1810 472.8 L1812.8 474.8 L1813.2 478.5 L1813.5 482.2 L1821.6 482.9 L1829.6 485.6 L1833.6 493.6 L1840.3 496.3 L1849 495 L1859 493.6 L1864.4 499 L1873.8 501 L1880.5 499 L1887.2 495 L1893.9 493 L1903.2 496.3 L1908.6 503 L1917.9 504.3 L1926 511 L1930 519 L1940.7 523.1 L1950.1 529.8 L1958.1 536.5 L1961.5 541.8M1711.3 541.8 L1701.9 529.8 L1693.9 523.1 L1687.2 516.4 L1683.1 517.7 L1680.5 524.4 L1676.5 529.8 L1677.8 537.8 L1669.8 539.1 L1667.1 533.8 L1659 533.8 L1653.7 527.1 L1645.7 524.4 L1635 519 L1624.2 511 L1613.5 503 L1605.5 495 L1605.5 489.6 L1597.5 480.2 L1589.4 470.9 L1581.4 461.5 L1573.4 458.8 L1564.4 458.8M1616.2 343.3 L1619.5 339 L1622.7 335.4 L1627.5 332.5 L1633.1 330.2 L1638.5 328 L1644.9 326.3 L1650.5 325 L1656.6 324.3 L1662 323.9 L1670.5 324.3 L1679.6 327.6 L1688.7 332.8 L1699.2 335.4 L1708.3 339.4 L1716.2 345.9 L1725.3 351.1 L1735.8 354.4 L1743.6 357.6 L1751.4 361.6 L1756.7 365.5 L1751.4 368.1 L1741 369.4 L1727.9 369.4 L1717.5 370.7 L1709.6 370.7 L1712.3 366.8 L1716.2 361.6 L1708.3 360.3 L1703.1 356.3 L1700.5 351.1 L1696.6 347.2 L1686.1 345.9 L1673 342.6 L1665 340.7 L1659.3 338 L1659.3 334.1 L1654 332.8 L1644.9 333.5 L1638.4 335.4 L1633.1 340.6 L1627.9 342 L1621.4 344.6ZM1638.5 345 L1643.5 344.5 L1646 347 L1644 349.8 L1639.5 349.5ZM1701.8 390.3 L1709.6 389 L1720.1 391.6 L1727.9 394.9 L1729.9 397.5 L1722.7 398.8 L1716.2 399.4 L1709.6 396.8 L1703.1 394.2ZM1765.4 371.3 L1773.4 368.6 L1780.1 369.9 L1786.8 370.6 L1794.8 369.5 L1802.8 371.7 L1810.9 373.3 L1814.9 378 L1820.2 380 L1826.9 382.6 L1831.6 386.6 L1830.9 390.7 L1825.6 393.3 L1817.6 392 L1809.5 392 L1802.8 393.3 L1796.1 394.4 L1792.1 398.7 L1790.1 402.7 L1788.1 398.7 L1785.4 393.3 L1778.7 392 L1772 392.7 L1765.4 394 L1760 394.7 L1755 393 L1752.5 389.5 L1756 387.5 L1760 388.7 L1768 388 L1777.4 388 L1780.1 385.3 L1776.1 381.3 L1773.4 375.9 L1770.7 373.9 L1765.4 373.3ZM1845.7 390.7 L1853.7 389.3 L1865.7 389.6 L1867.1 393.3 L1864.4 396.7 L1853.7 397.4 L1846.3 397.4ZM1920.3 493 L1927.6 492.3 L1927.6 500.6 L1921 501.2ZM1762.5 354.5 L1766 351.5 L1771.5 350.5 L1772.5 353.5 L1767 355.8ZM1783.4 500.3 L1786.8 496.3 L1790.8 495 L1794.8 500.3 L1796.8 507 L1794.8 513.7 L1789.4 515 L1785.4 511 L1782.8 505.7Z" fill="none" stroke="#000" stroke-width="2.9" stroke-linejoin="round"/>
<path d="M1619.5 339 L1622.7 335.4 L1627.5 332.5 L1633.1 330.2 L1638.5 328 L1644.9 326.3 L1650.5 325 L1656.6 324.3 L1662 323.9 L1670.5 324.3 L1679.6 327.6 L1688.7 332.8 L1699.2 335.4 L1708.3 339.4 L1716.2 345.9 L1725.3 351.1 L1735.8 354.4 L1743.6 357.6 L1751.4 361.6 L1756.7 365.5M1590.8 361.2 L1586.8 367.9 L1582.7 374.6 L1580.7 382.6 L1577.4 388 L1574.7 398.7 L1573.4 409.4 L1572.7 416.1M1701.8 390.3 L1709.6 389 L1720.1 391.6M1765.4 371.3 L1773.4 368.6 L1780.1 369.9 L1786.8 370.6 L1794.8 369.5 L1802.8 371.7 L1810.9 373.3 L1814.9 378" fill="none" stroke="#000" stroke-width="3.8" stroke-linecap="round" stroke-linejoin="round"/>
<path d="M1682.2 314.5 L1685 318 L1687.4 321.1M1708.3 315 L1712 316.5 L1714.9 318.5M1728 314.5 L1733 318 L1738.4 321.1M1738.4 325 L1734.5 328.9 L1733.8 334.1 L1736.4 339.4M1741 318.5 L1745 323 L1748.8 330.2M1754 328.9 L1757.5 332 L1760.6 338M1761 326.3 L1763 326.6M1768 334 L1773.5 335.5 L1776.5 337M1777.5 343.5 L1781 341.5 L1786 341 L1790 343.5 L1792 347M1794.5 346 L1795.5 349M1687.4 352.4 L1694 356 L1701.8 361.6M1866 391.8 L1872 390.2 L1878 388.6 L1884 386.6M1900 401.8 L1903.5 405 L1906.8 408.5M1923.8 466 L1921 471.5 L1918.5 476M1574.5 400 L1576 407 L1575 412M1577 385 L1578.5 391M1586 374 L1584.5 380M1591.5 419 L1598 417.5 L1604 416M1630 432.5 L1633 438 L1635.5 441M1648 512 L1652 514.5 L1657 516M1662 530 L1663 535.5 L1666 539M1686.5 520.5 L1690 522M1688 518.5 L1692 520 L1698 524M1880 488 L1886 492 L1890 495M1884 494 L1889 490" fill="none" stroke="#000" stroke-width="2.2" stroke-linecap="round" stroke-linejoin="round"/>
<ellipse cx="1918.6" cy="475.8" rx="2" ry="2.2" fill="#000"/>
<ellipse cx="1925" cy="460.6" rx="2" ry="3.6" fill="#000"/>
<ellipse cx="1928" cy="451.9" rx="2.4" ry="3.6" fill="#000"/>
<ellipse cx="1927.6" cy="441.9" rx="3.2" ry="4" fill="#000"/>
<ellipse cx="1923.1" cy="431.8" rx="2.5" ry="3.6" fill="#000"/>
<ellipse cx="1919.9" cy="421" rx="3.6" ry="4" fill="#000"/>
<ellipse cx="1924.4" cy="419.7" rx="2.6" ry="1.8" fill="#000"/>
<ellipse cx="1917.3" cy="409.3" rx="2.4" ry="2.1" fill="#000"/>
<ellipse cx="1912.1" cy="413.6" rx="1.5" ry="1.5" fill="#000"/>
<ellipse cx="1905.6" cy="406.8" rx="2" ry="1.6" fill="#000"/>
<ellipse cx="1917.3" cy="401.8" rx="1.5" ry="1.6" fill="#000"/>
<ellipse cx="1901.1" cy="395.3" rx="2.4" ry="2.6" fill="#000"/>
<ellipse cx="1922.5" cy="469.2" rx="1.3" ry="2.2" fill="#000"/>
<ellipse cx="1946.4" cy="461.9" rx="2.7" ry="2.8" fill="#000"/>
<ellipse cx="1931.5" cy="487.1" rx="3" ry="1.8" fill="#000"/>
<ellipse cx="1877.1" cy="391.8" rx="2.6" ry="1.7" fill="#000"/>
<ellipse cx="1881.6" cy="390.5" rx="2.6" ry="1.7" fill="#000"/>
<ellipse cx="1879" cy="400.3" rx="3.2" ry="1.6" fill="#000"/>
<ellipse cx="1811.4" cy="470.3" rx="1.8" ry="2.6" fill="#000"/>
<ellipse cx="1824.6" cy="474.8" rx="3.4" ry="2" fill="#000"/>
<ellipse cx="1833.4" cy="475.2" rx="2.2" ry="2.2" fill="#000"/>
<ellipse cx="1853.8" cy="479.1" rx="3.2" ry="2.3" fill="#000"/>
<ellipse cx="1872.6" cy="491" rx="1.3" ry="1.3" fill="#000"/>
<ellipse cx="1887.5" cy="490.4" rx="4" ry="2.6" fill="#000"/>
<ellipse cx="1842.1" cy="477.8" rx="1.4" ry="1.3" fill="#000"/>
<ellipse cx="1860.2" cy="479.8" rx="1.6" ry="1.2" fill="#000"/>
<ellipse cx="1665.2" cy="378.6" rx="3.4" ry="1.4" fill="#000"/>
<ellipse cx="1683.3" cy="373.3" rx="3.2" ry="1.3" fill="#000"/>
<ellipse cx="1630.9" cy="404.8" rx="1.4" ry="1.2" fill="#000"/>
<ellipse cx="1659.4" cy="469.9" rx="1.4" ry="1.6" fill="#000"/>
<ellipse cx="1663.6" cy="459.2" rx="1.3" ry="1.3" fill="#000"/>
<ellipse cx="1641.9" cy="474.9" rx="1.3" ry="1.3" fill="#000"/>
<ellipse cx="1772.1" cy="336.1" rx="2.4" ry="1.6" fill="#000"/>
<ellipse cx="1759.8" cy="335.8" rx="1.6" ry="2.4" fill="#000"/>
<ellipse cx="1775.4" cy="353.3" rx="1.6" ry="1.2" fill="#000"/>
<ellipse cx="1597.2" cy="419" rx="3.6" ry="1.4" fill="#000"/>
<ellipse cx="1604.9" cy="417.6" rx="2" ry="1.2" fill="#000"/>
<ellipse cx="1581" cy="406.1" rx="1.4" ry="2.2" fill="#000"/>
<ellipse cx="1584.2" cy="396.6" rx="1.4" ry="1.6" fill="#000"/>
<ellipse cx="1771.5" cy="385.3" rx="3.2" ry="1.6" fill="#000"/>
<ellipse cx="1774.7" cy="368.8" rx="2" ry="1.3" fill="#000"/>
<ellipse cx="1592" cy="363.7" rx="1.8" ry="2.6" fill="#000"/>
<ellipse cx="1828.5" cy="393.9" rx="1.6" ry="1.2" fill="#000"/>
<ellipse cx="1838.9" cy="395.3" rx="1.2" ry="1.2" fill="#000"/>
<ellipse cx="1870" cy="392.5" rx="1.8" ry="1.2" fill="#000"/>
<ellipse cx="1871.9" cy="394.6" rx="1.6" ry="1.1" fill="#000"/>
<ellipse cx="1606.2" cy="424.4" rx="1.4" ry="1.2" fill="#000"/>
<ellipse cx="1694.4" cy="524.6" rx="1.8" ry="1.8" fill="#000"/>
<circle cx="1871.5" cy="416.5" r="4.3" fill="#ff0000" stroke="#000" stroke-width="1.3"/>
</g>
<rect x="1564.4" y="313.4" width="401.9" height="228.9" fill="none" stroke="#000" stroke-width="1.45"/>
<path d="M1616.6 313.4v-8.8M1616.6 542.3v9.3M1681.4 313.4v-8.8M1681.4 542.3v9.3M1746.2 313.4v-8.8M1746.2 542.3v9.3M1811 313.4v-8.8M1811 542.3v9.3M1875.8 313.4v-8.8M1875.8 542.3v9.3M1940.6 313.4v-8.8M1940.6 542.3v9.3M1564.4 503.6h-8.7M1966.3 503.6h8.7M1564.4 437.2h-8.7M1966.3 437.2h8.7M1564.4 369.2h-8.7M1966.3 369.2h8.7" stroke="#000" stroke-width="3"/>
<path d="M1564.8 313.4v-3M1564.8 542.3v3M1577.7 313.4v-3M1577.7 542.3v3M1590.7 313.4v-3M1590.7 542.3v3M1603.6 313.4v-3M1603.6 542.3v3M1629.6 313.4v-3M1629.6 542.3v3M1642.5 313.4v-3M1642.5 542.3v3M1655.5 313.4v-3M1655.5 542.3v3M1668.4 313.4v-3M1668.4 542.3v3M1694.4 313.4v-3M1694.4 542.3v3M1707.3 313.4v-3M1707.3 542.3v3M1720.3 313.4v-3M1720.3 542.3v3M1733.2 313.4v-3M1733.2 542.3v3M1759.2 313.4v-3M1759.2 542.3v3M1772.1 313.4v-3M1772.1 542.3v3M1785.1 313.4v-3M1785.1 542.3v3M1798 313.4v-3M1798 542.3v3M1824 313.4v-3M1824 542.3v3M1836.9 313.4v-3M1836.9 542.3v3M1849.9 313.4v-3M1849.9 542.3v3M1862.8 313.4v-3M1862.8 542.3v3M1888.8 313.4v-3M1888.8 542.3v3M1901.7 313.4v-3M1901.7 542.3v3M1914.7 313.4v-3M1914.7 542.3v3M1927.6 313.4v-3M1927.6 542.3v3M1953.6 313.4v-3M1953.6 542.3v3M1966.5 313.4v-3M1966.5 542.3v3M1564.4 542.9h-3M1966.3 542.9h3M1564.4 529.8h-3M1966.3 529.8h3M1564.4 516.7h-3M1966.3 516.7h3M1564.4 490.4h-3M1966.3 490.4h3M1564.4 477.2h-3M1966.3 477.2h3M1564.4 463.9h-3M1966.3 463.9h3M1564.4 450.6h-3M1966.3 450.6h3M1564.4 423.7h-3M1966.3 423.7h3M1564.4 410.2h-3M1966.3 410.2h3M1564.4 396.6h-3M1966.3 396.6h3M1564.4 382.9h-3M1966.3 382.9h3M1564.4 355.4h-3M1966.3 355.4h3M1564.4 341.4h-3M1966.3 341.4h3M1564.4 327.4h-3M1966.3 327.4h3M1564.4 313.3h-3M1966.3 313.3h3" stroke="#000" stroke-width="1.9"/>
<text x="1549.8" y="513.2" class="mp" text-anchor="end">10°N</text>
<text x="1549.8" y="446.8" class="mp" text-anchor="end">15°N</text>
<text x="1549.8" y="378.8" class="mp" text-anchor="end">20°N</text>
<text x="1616" y="574.6" class="mp" text-anchor="middle">85°W</text>
<text x="1680.8" y="574.6" class="mp" text-anchor="middle">80°W</text>
<text x="1745.6" y="574.6" class="mp" text-anchor="middle">75°W</text>
<text x="1810.4" y="574.6" class="mp" text-anchor="middle">70°W</text>
<text x="1875.2" y="574.6" class="mp" text-anchor="middle">65°W</text>
<text x="1940" y="574.6" class="mp" text-anchor="middle">60°W</text>
</svg>
</body></html>
